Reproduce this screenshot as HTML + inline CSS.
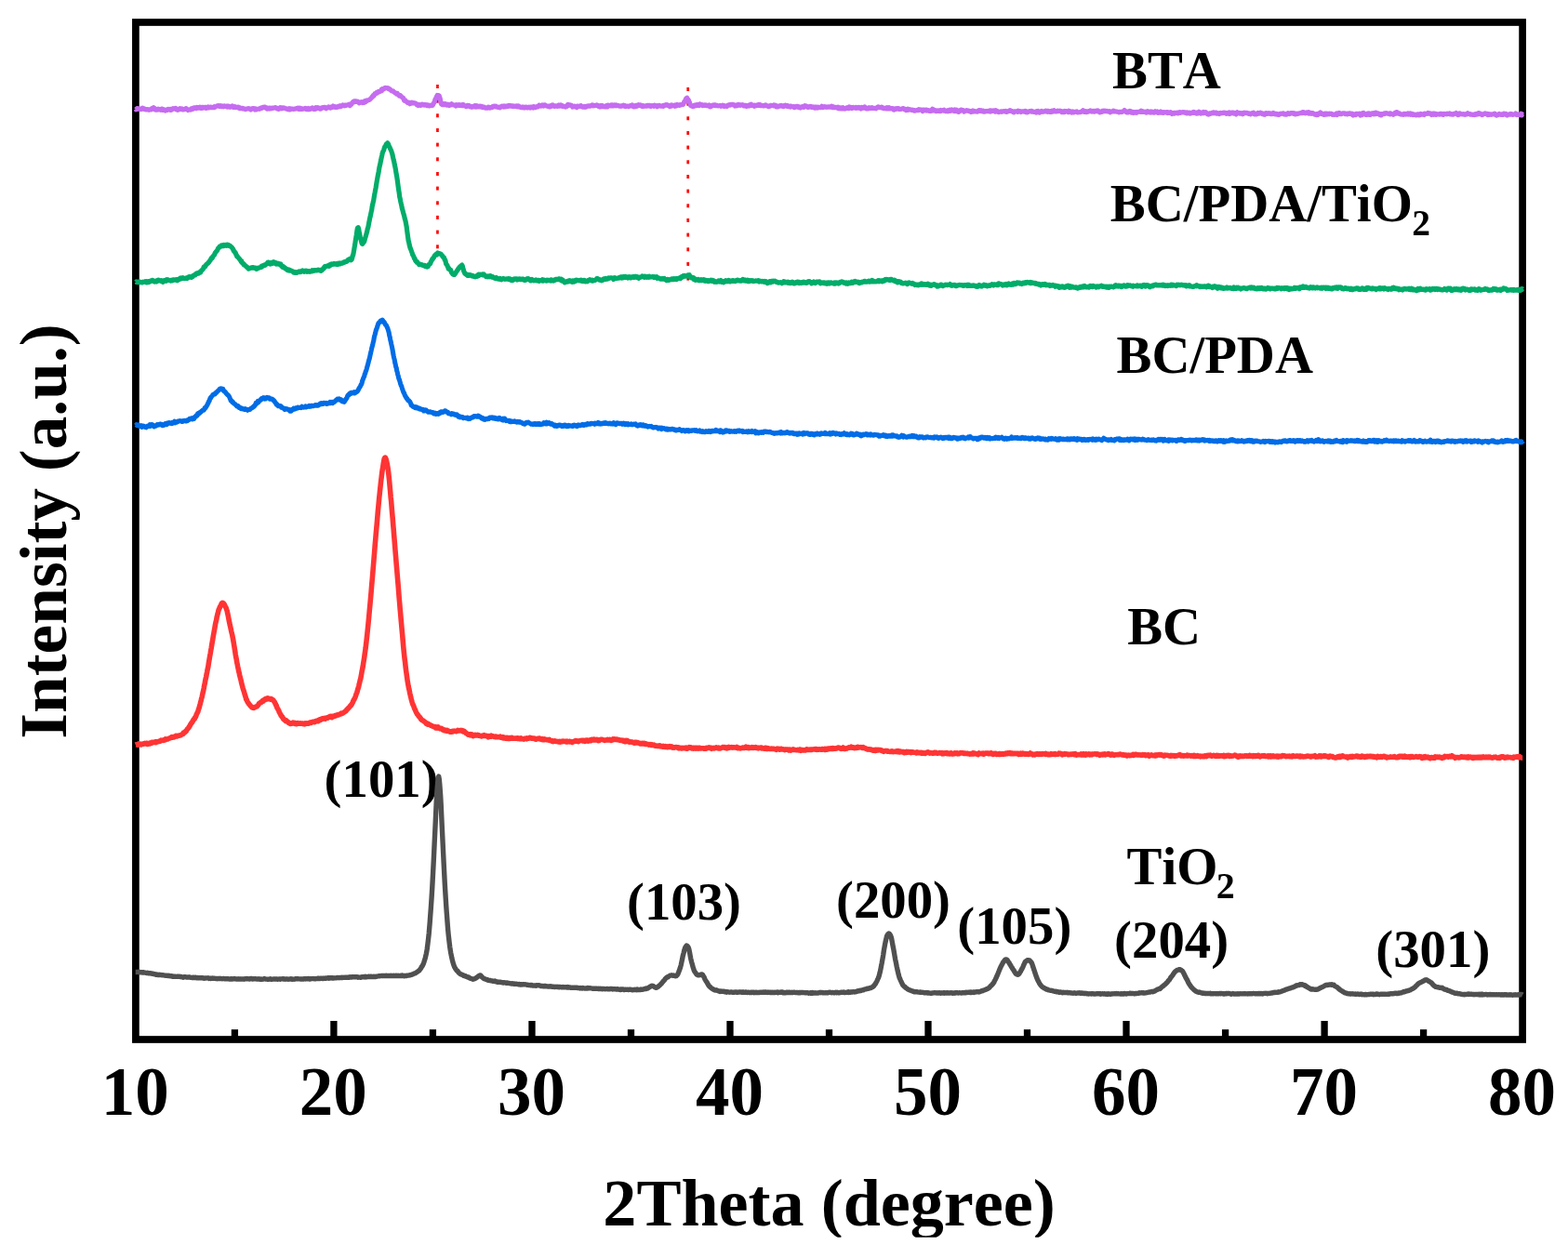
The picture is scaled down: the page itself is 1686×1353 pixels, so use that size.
<!DOCTYPE html>
<html lang="en"><head><meta charset="utf-8"><title>XRD patterns</title>
<style>
html,body{margin:0;padding:0;background:#fff;}
body{width:1686px;height:1353px;overflow:hidden;}
svg{display:block;}
text{font-family:"Liberation Serif",serif;font-weight:bold;fill:#000;font-kerning:none;font-variant-ligatures:none;}
.tk text{font-size:73px;text-anchor:middle;}
.lb text{font-size:56.8px;}
.curves path{fill:none;stroke-linejoin:round;stroke-linecap:butt;}
</style></head>
<body>
<svg width="1686" height="1353" viewBox="0 0 1686 1353">
<rect x="0" y="0" width="1686" height="1353" fill="#ffffff"/>
<g fill="#ff0000"><rect x="469.1" y="91.0" width="2.7" height="4.0"/><rect x="469.1" y="106.7" width="2.7" height="4.0"/><rect x="469.1" y="122.3" width="2.7" height="4.0"/><rect x="469.1" y="138.0" width="2.7" height="4.0"/><rect x="469.1" y="153.6" width="2.7" height="4.0"/><rect x="469.1" y="169.3" width="2.7" height="4.0"/><rect x="469.1" y="185.0" width="2.7" height="4.0"/><rect x="469.1" y="200.6" width="2.7" height="4.0"/><rect x="469.1" y="216.3" width="2.7" height="4.0"/><rect x="469.1" y="231.9" width="2.7" height="4.0"/><rect x="469.1" y="247.6" width="2.7" height="4.0"/><rect x="469.1" y="263.3" width="2.7" height="4.0"/><rect x="738.4" y="94.0" width="2.7" height="4.0"/><rect x="738.4" y="109.7" width="2.7" height="4.0"/><rect x="738.4" y="125.3" width="2.7" height="4.0"/><rect x="738.4" y="141.0" width="2.7" height="4.0"/><rect x="738.4" y="156.6" width="2.7" height="4.0"/><rect x="738.4" y="172.3" width="2.7" height="4.0"/><rect x="738.4" y="188.0" width="2.7" height="4.0"/><rect x="738.4" y="203.6" width="2.7" height="4.0"/><rect x="738.4" y="219.3" width="2.7" height="4.0"/><rect x="738.4" y="234.9" width="2.7" height="4.0"/><rect x="738.4" y="250.6" width="2.7" height="4.0"/><rect x="738.4" y="266.3" width="2.7" height="4.0"/><rect x="738.4" y="281.9" width="2.7" height="4.0"/><rect x="738.4" y="297.6" width="2.7" height="4.0"/></g>
<g stroke="#000" stroke-width="7.7" fill="none">
<rect x="145.9" y="24.0" width="1491.2" height="1094.0"/>
<g stroke-width="7.3"><line x1="252.4" x2="252.4" y1="1107.2" y2="1118.0"/><line x1="358.9" x2="358.9" y1="1098.0" y2="1118.0"/><line x1="465.4" x2="465.4" y1="1107.2" y2="1118.0"/><line x1="572.0" x2="572.0" y1="1098.0" y2="1118.0"/><line x1="678.5" x2="678.5" y1="1107.2" y2="1118.0"/><line x1="785.0" x2="785.0" y1="1098.0" y2="1118.0"/><line x1="891.5" x2="891.5" y1="1107.2" y2="1118.0"/><line x1="998.0" x2="998.0" y1="1098.0" y2="1118.0"/><line x1="1104.5" x2="1104.5" y1="1107.2" y2="1118.0"/><line x1="1211.0" x2="1211.0" y1="1098.0" y2="1118.0"/><line x1="1317.6" x2="1317.6" y1="1107.2" y2="1118.0"/><line x1="1424.1" x2="1424.1" y1="1098.0" y2="1118.0"/><line x1="1530.6" x2="1530.6" y1="1107.2" y2="1118.0"/></g>
</g>
<g class="lb">
<text x="1196" y="95.4">BTA</text>
<text x="1193.8" y="238.0">BC/PDA/TiO<tspan font-size="39.5" dx="-0.5" dy="15.4">2</tspan></text>
<text x="1200.5" y="401">BC/PDA</text>
<text x="1212.2" y="693.4">BC</text>
<text x="1211.6" y="951.1">TiO<tspan font-size="40" dx="-1.8" dy="14.6">2</tspan></text>
<text x="348.6" y="857.0">(101)</text>
<text x="674.0" y="989.4">(103)</text>
<text x="899.0" y="986.9">(200)</text>
<text x="1029.3" y="1015.1">(105)</text>
<text x="1198.1" y="1029.5">(204)</text>
<text x="1479.3" y="1039.6">(301)</text>
</g>
<g class="curves">
<path d="M145.7 1045.6L146.2 1045.6L146.7 1045.5L147.2 1045.4L147.7 1045.4L148.2 1045.3L148.7 1045.4L149.2 1045.6L149.7 1045.4L150.2 1045.5L150.7 1045.7L151.2 1045.7L151.7 1045.7L152.2 1045.7L152.7 1045.8L153.2 1046.0L153.7 1045.8L154.2 1046.0L154.7 1045.8L155.2 1045.9L155.7 1045.9L156.2 1046.1L156.7 1046.1L157.2 1046.4L157.7 1046.5L158.2 1046.5L158.7 1046.3L159.2 1046.7L159.7 1046.8L160.2 1046.8L160.7 1046.6L161.2 1046.8L161.7 1046.7L162.2 1046.8L162.7 1047.1L163.2 1047.0L163.7 1047.2L164.2 1047.4L164.7 1047.3L165.2 1047.5L165.7 1047.7L166.2 1047.8L166.7 1047.7L167.2 1048.0L167.7 1048.2L168.2 1047.9L168.7 1048.3L169.2 1048.2L169.7 1048.2L170.2 1048.6L170.7 1048.5L171.2 1048.3L171.7 1048.5L172.2 1048.6L172.7 1048.5L173.2 1048.6L173.7 1048.6L174.2 1048.8L174.7 1048.9L175.2 1048.7L175.7 1048.9L176.2 1048.9L176.7 1049.0L177.2 1048.9L177.7 1049.1L178.2 1049.2L178.7 1049.4L179.2 1049.4L179.7 1049.2L180.2 1049.3L180.7 1049.5L181.2 1049.2L181.7 1049.4L182.2 1049.4L182.7 1049.7L183.2 1049.7L183.7 1049.6L184.2 1049.7L184.7 1049.9L185.2 1050.2L185.7 1050.0L186.2 1050.1L186.7 1050.2L187.2 1050.1L187.7 1050.2L188.2 1050.1L188.7 1050.2L189.2 1050.2L189.7 1050.4L190.2 1050.3L190.7 1050.2L191.2 1050.3L191.7 1050.2L192.2 1050.3L192.7 1050.3L193.2 1050.4L193.7 1050.3L194.2 1050.6L194.7 1050.5L195.2 1050.6L195.7 1050.9L196.2 1050.9L196.7 1051.0L197.2 1051.2L197.7 1050.7L198.2 1050.7L198.7 1050.8L199.2 1050.8L199.7 1050.8L200.2 1050.9L200.7 1051.1L201.2 1051.1L201.7 1050.9L202.2 1051.0L202.7 1051.0L203.2 1050.9L203.7 1051.1L204.2 1051.0L204.7 1051.3L205.2 1051.3L205.7 1051.4L206.2 1051.4L206.7 1051.5L207.2 1051.2L207.7 1051.3L208.2 1051.5L208.7 1051.2L209.2 1051.5L209.7 1051.2L210.2 1051.6L210.7 1051.4L211.2 1051.7L211.7 1051.6L212.2 1051.4L212.7 1051.8L213.2 1051.8L213.7 1051.7L214.2 1051.6L214.7 1051.7L215.2 1051.6L215.7 1051.8L216.2 1051.7L216.7 1051.7L217.2 1051.7L217.7 1051.8L218.2 1051.7L218.7 1052.1L219.2 1052.0L219.7 1052.2L220.2 1052.1L220.7 1052.0L221.2 1052.0L221.7 1051.9L222.2 1051.9L222.7 1051.9L223.2 1051.9L223.7 1051.8L224.2 1052.0L224.7 1052.4L225.2 1052.1L225.7 1052.1L226.2 1052.3L226.7 1052.5L227.2 1052.1L227.7 1052.3L228.2 1052.2L228.7 1052.0L229.2 1052.3L229.7 1052.2L230.2 1052.2L230.7 1052.2L231.2 1052.4L231.7 1052.4L232.2 1052.5L232.7 1052.5L233.2 1052.5L233.7 1052.8L234.2 1052.5L234.7 1052.5L235.2 1052.5L235.7 1052.4L236.2 1052.4L236.7 1052.6L237.2 1052.5L237.7 1052.6L238.2 1052.6L238.7 1052.7L239.2 1052.7L239.7 1052.6L240.2 1052.5L240.7 1052.5L241.2 1052.8L241.7 1052.8L242.2 1052.7L242.7 1052.7L243.2 1052.7L243.7 1052.7L244.2 1052.7L244.7 1052.6L245.2 1052.9L245.7 1052.7L246.2 1053.0L246.7 1053.0L247.2 1053.0L247.7 1053.1L248.2 1053.1L248.7 1052.7L249.2 1052.7L249.7 1053.0L250.2 1052.8L250.7 1052.9L251.2 1052.9L251.7 1052.6L252.2 1052.5L252.7 1052.8L253.2 1052.8L253.7 1052.9L254.2 1053.0L254.7 1053.0L255.2 1052.9L255.7 1053.1L256.2 1052.9L256.7 1052.8L257.2 1053.1L257.7 1053.0L258.2 1053.1L258.7 1052.9L259.2 1053.0L259.7 1053.0L260.2 1053.0L260.7 1053.1L261.2 1053.0L261.7 1053.1L262.2 1053.1L262.7 1053.2L263.2 1052.7L263.7 1052.9L264.2 1052.8L264.7 1052.7L265.2 1052.5L265.7 1052.7L266.2 1052.9L266.7 1052.8L267.2 1052.9L267.7 1052.8L268.2 1053.0L268.7 1052.8L269.2 1052.5L269.7 1052.7L270.2 1052.6L270.7 1052.5L271.2 1052.9L271.7 1053.1L272.2 1052.9L272.7 1052.7L273.2 1052.7L273.7 1052.9L274.2 1052.8L274.7 1052.8L275.2 1052.8L275.7 1052.9L276.2 1053.0L276.7 1053.0L277.2 1052.9L277.7 1052.8L278.2 1053.0L278.7 1052.9L279.2 1053.2L279.7 1053.0L280.2 1053.2L280.7 1053.2L281.2 1053.0L281.7 1053.3L282.2 1053.2L282.7 1052.9L283.2 1053.0L283.7 1052.9L284.2 1052.5L284.7 1052.9L285.2 1052.9L285.7 1053.0L286.2 1052.9L286.7 1053.1L287.2 1053.1L287.7 1053.3L288.2 1053.2L288.7 1053.1L289.2 1053.3L289.7 1053.0L290.2 1053.0L290.7 1052.8L291.2 1053.3L291.7 1053.2L292.2 1053.2L292.7 1053.2L293.2 1053.1L293.7 1053.1L294.2 1053.0L294.7 1053.0L295.2 1053.0L295.7 1053.1L296.2 1053.0L296.7 1052.9L297.2 1052.9L297.7 1053.0L298.2 1053.3L298.7 1053.2L299.2 1053.1L299.7 1053.1L300.2 1053.0L300.7 1053.1L301.2 1053.2L301.7 1053.0L302.2 1052.9L302.7 1052.9L303.2 1052.9L303.7 1052.7L304.2 1052.9L304.7 1052.8L305.2 1053.1L305.7 1052.9L306.2 1053.1L306.7 1053.2L307.2 1052.9L307.7 1052.9L308.2 1053.0L308.7 1053.0L309.2 1052.9L309.7 1053.1L310.2 1053.3L310.7 1053.0L311.2 1053.0L311.7 1052.9L312.2 1053.0L312.7 1052.8L313.2 1052.9L313.7 1053.2L314.2 1052.9L314.7 1053.2L315.2 1053.2L315.7 1053.1L316.2 1053.1L316.7 1053.2L317.2 1052.9L317.7 1052.8L318.2 1052.6L318.7 1052.8L319.2 1052.9L319.7 1052.8L320.2 1052.6L320.7 1052.7L321.2 1052.7L321.7 1052.9L322.2 1052.9L322.7 1052.9L323.2 1053.0L323.7 1052.9L324.2 1052.9L324.7 1053.0L325.2 1052.9L325.7 1052.9L326.2 1053.1L326.7 1052.9L327.2 1052.8L327.7 1052.6L328.2 1052.9L328.7 1052.6L329.2 1052.7L329.7 1052.9L330.2 1052.9L330.7 1052.7L331.2 1052.5L331.7 1052.6L332.2 1052.6L332.7 1052.8L333.2 1053.1L333.7 1052.8L334.2 1052.7L334.7 1052.6L335.2 1052.6L335.7 1052.6L336.2 1052.4L336.7 1052.5L337.2 1052.4L337.7 1052.7L338.2 1052.8L338.7 1052.8L339.2 1052.6L339.7 1052.7L340.2 1052.6L340.7 1052.6L341.2 1052.5L341.7 1052.3L342.2 1052.3L342.7 1052.5L343.2 1052.3L343.7 1052.4L344.2 1052.5L344.7 1052.1L345.2 1052.3L345.7 1052.4L346.2 1052.4L346.7 1052.3L347.2 1052.5L347.7 1052.3L348.2 1052.1L348.7 1052.1L349.2 1052.3L349.7 1052.2L350.2 1051.9L350.7 1052.2L351.2 1052.1L351.7 1052.1L352.2 1051.8L352.7 1051.8L353.2 1051.7L353.7 1052.2L354.2 1051.8L354.7 1052.0L355.2 1051.8L355.7 1051.9L356.2 1051.6L356.7 1051.8L357.2 1052.0L357.7 1051.8L358.2 1052.1L358.7 1052.0L359.2 1051.8L359.7 1051.9L360.2 1051.9L360.7 1051.9L361.2 1051.8L361.7 1051.7L362.2 1051.7L362.7 1051.6L363.2 1051.5L363.7 1051.6L364.2 1051.7L364.7 1051.4L365.2 1051.5L365.7 1051.4L366.2 1051.4L366.7 1051.6L367.2 1051.4L367.7 1051.6L368.2 1051.3L368.7 1051.4L369.2 1051.4L369.7 1051.3L370.2 1051.4L370.7 1051.3L371.2 1051.4L371.7 1051.3L372.2 1051.1L372.7 1051.2L373.2 1051.2L373.7 1051.3L374.2 1051.1L374.7 1051.2L375.2 1050.9L375.7 1051.2L376.2 1050.9L376.7 1050.8L377.2 1051.0L377.7 1051.1L378.2 1050.7L378.7 1050.7L379.2 1050.8L379.7 1050.7L380.2 1050.9L380.7 1050.7L381.2 1050.7L381.7 1050.9L382.2 1050.7L382.7 1050.9L383.2 1050.7L383.7 1050.7L384.2 1050.7L384.7 1051.2L385.2 1051.0L385.7 1051.1L386.2 1051.1L386.7 1051.1L387.2 1051.1L387.7 1051.3L388.2 1050.9L388.7 1050.8L389.2 1050.8L389.7 1050.7L390.2 1050.8L390.7 1050.8L391.2 1050.5L391.7 1050.5L392.2 1050.6L392.7 1050.9L393.2 1050.4L393.7 1050.8L394.2 1050.6L394.7 1050.8L395.2 1050.5L395.7 1050.5L396.2 1050.3L396.7 1050.3L397.2 1050.5L397.7 1050.5L398.2 1050.3L398.7 1050.3L399.2 1050.3L399.7 1050.5L400.2 1050.6L400.7 1050.5L401.2 1050.5L401.7 1050.3L402.2 1050.4L402.7 1050.3L403.2 1050.5L403.7 1050.5L404.2 1050.3L404.7 1050.2L405.2 1050.2L405.7 1050.1L406.2 1049.9L406.7 1049.9L407.2 1049.7L407.7 1049.8L408.2 1049.6L408.7 1049.7L409.2 1049.6L409.7 1049.6L410.2 1049.5L410.7 1049.6L411.2 1049.5L411.7 1049.6L412.2 1049.6L412.7 1049.5L413.2 1049.6L413.7 1049.5L414.2 1049.5L414.7 1049.5L415.2 1049.3L415.7 1049.5L416.2 1049.6L416.7 1049.5L417.2 1049.5L417.7 1049.5L418.2 1049.4L418.7 1049.5L419.2 1049.4L419.7 1049.5L420.2 1049.3L420.7 1049.5L421.2 1049.5L421.7 1049.5L422.2 1049.4L422.7 1049.5L423.2 1049.3L423.7 1049.5L424.2 1049.5L424.7 1049.5L425.2 1049.5L425.7 1049.3L426.2 1049.3L426.7 1049.5L427.2 1049.4L427.7 1049.5L428.2 1049.3L428.7 1049.6L429.2 1049.6L429.7 1049.6L430.2 1049.5L430.7 1049.2L431.2 1049.5L431.7 1049.4L432.2 1049.1L432.7 1049.5L433.2 1049.3L433.7 1049.4L434.2 1049.5L434.7 1049.7L435.2 1049.5L435.7 1049.5L436.2 1049.6L436.7 1049.6L437.2 1049.3L437.7 1049.3L438.2 1049.1L438.7 1049.1L439.2 1049.1L439.7 1049.0L440.2 1048.9L440.7 1048.9L441.2 1048.5L441.7 1048.5L442.2 1048.4L442.7 1048.2L443.2 1048.1L443.7 1047.9L444.2 1047.6L444.7 1047.5L445.2 1047.1L445.7 1046.9L446.2 1046.9L446.7 1046.6L447.2 1046.3L447.7 1045.8L448.2 1045.7L448.7 1045.3L449.2 1045.0L449.7 1044.4L450.2 1044.2L450.7 1043.9L451.2 1043.2L451.7 1042.5L452.2 1041.9L452.7 1041.2L453.2 1040.0L453.7 1039.5L454.2 1038.7L454.7 1037.7L455.2 1036.7L455.7 1035.4L456.2 1033.8L456.7 1032.2L457.2 1030.5L457.7 1028.4L458.2 1026.3L458.7 1023.9L459.2 1020.9L459.7 1017.1L460.2 1013.0L460.7 1008.7L461.2 1004.1L461.7 998.3L462.2 992.2L462.7 985.3L463.2 978.6L463.7 971.4L464.2 963.8L464.7 955.5L465.2 946.2L465.7 936.6L466.2 926.8L466.7 916.4L467.2 905.7L467.7 895.3L468.2 884.8L468.7 873.7L469.2 862.8L469.7 854.0L470.2 847.2L470.7 841.2L471.2 836.5L471.7 835.1L472.2 837.6L472.7 842.5L473.2 849.1L473.7 856.1L474.2 865.5L474.7 876.6L475.2 887.4L475.7 898.0L476.2 908.4L476.7 918.9L477.2 929.2L477.7 939.2L478.2 948.8L478.7 957.5L479.2 965.7L479.7 973.6L480.2 980.6L480.7 987.3L481.2 994.0L481.7 1000.2L482.2 1005.4L482.7 1009.9L483.2 1014.2L483.7 1018.3L484.2 1021.6L484.7 1024.7L485.2 1027.3L485.7 1029.7L486.2 1031.8L486.7 1034.0L487.2 1035.7L487.7 1037.4L488.2 1038.7L488.7 1040.1L489.2 1040.9L489.7 1041.7L490.2 1042.5L490.7 1043.2L491.2 1043.9L491.7 1044.1L492.2 1044.7L492.7 1045.3L493.2 1046.2L493.7 1046.5L494.2 1046.8L494.7 1047.3L495.2 1047.8L495.7 1047.7L496.2 1047.9L496.7 1048.3L497.2 1048.5L497.7 1048.7L498.2 1048.8L498.7 1049.4L499.2 1049.6L499.7 1049.7L500.2 1049.9L500.7 1049.7L501.2 1050.3L501.7 1050.4L502.2 1050.6L502.7 1050.9L503.2 1050.9L503.7 1051.0L504.2 1051.5L504.7 1051.6L505.2 1051.9L505.7 1052.2L506.2 1052.4L506.7 1052.4L507.2 1052.9L507.7 1052.9L508.2 1053.0L508.7 1053.2L509.2 1052.9L509.7 1052.7L510.2 1052.7L510.7 1052.5L511.2 1052.3L511.7 1052.1L512.2 1051.5L512.7 1051.5L513.2 1050.8L513.7 1050.6L514.2 1050.1L514.7 1049.7L515.2 1049.4L515.7 1049.1L516.2 1049.0L516.7 1049.0L517.2 1049.6L517.7 1050.2L518.2 1050.8L518.7 1051.2L519.2 1051.7L519.7 1052.0L520.2 1052.6L520.7 1052.7L521.2 1052.8L521.7 1053.0L522.2 1053.2L522.7 1053.3L523.2 1053.6L523.7 1053.6L524.2 1053.8L524.7 1054.3L525.2 1054.2L525.7 1054.3L526.2 1054.5L526.7 1054.6L527.2 1054.5L527.7 1054.6L528.2 1054.9L528.7 1054.9L529.2 1055.0L529.7 1055.3L530.2 1055.1L530.7 1055.2L531.2 1055.2L531.7 1055.5L532.2 1055.1L532.7 1055.4L533.2 1055.6L533.7 1055.9L534.2 1056.1L534.7 1056.3L535.2 1056.0L535.7 1056.3L536.2 1056.2L536.7 1056.1L537.2 1056.3L537.7 1056.2L538.2 1056.1L538.7 1056.5L539.2 1056.4L539.7 1056.6L540.2 1056.8L540.7 1056.8L541.2 1057.0L541.7 1056.8L542.2 1056.7L542.7 1056.9L543.2 1056.9L543.7 1057.0L544.2 1057.2L544.7 1057.2L545.2 1057.0L545.7 1057.4L546.2 1057.3L546.7 1057.4L547.2 1057.4L547.7 1057.5L548.2 1057.5L548.7 1057.8L549.2 1057.8L549.7 1057.9L550.2 1058.0L550.7 1057.8L551.2 1058.0L551.7 1058.1L552.2 1058.2L552.7 1058.0L553.2 1058.4L553.7 1058.3L554.2 1058.2L554.7 1058.1L555.2 1058.3L555.7 1058.4L556.2 1058.4L556.7 1058.5L557.2 1058.5L557.7 1058.7L558.2 1058.5L558.7 1058.6L559.2 1058.8L559.7 1059.1L560.2 1058.7L560.7 1058.8L561.2 1058.7L561.7 1059.0L562.2 1058.7L562.7 1058.8L563.2 1058.8L563.7 1058.7L564.2 1058.8L564.7 1058.9L565.2 1058.8L565.7 1058.9L566.2 1059.1L566.7 1059.3L567.2 1059.3L567.7 1059.2L568.2 1059.4L568.7 1059.6L569.2 1059.6L569.7 1059.6L570.2 1059.5L570.7 1059.7L571.2 1059.5L571.7 1059.5L572.2 1059.6L572.7 1060.0L573.2 1059.9L573.7 1060.1L574.2 1059.9L574.7 1060.1L575.2 1059.9L575.7 1059.9L576.2 1060.2L576.7 1060.0L577.2 1059.8L577.7 1059.8L578.2 1059.8L578.7 1059.9L579.2 1059.7L579.7 1059.7L580.2 1059.9L580.7 1060.1L581.2 1060.3L581.7 1060.6L582.2 1060.5L582.7 1060.6L583.2 1060.4L583.7 1060.7L584.2 1060.8L584.7 1060.6L585.2 1060.5L585.7 1060.5L586.2 1060.7L586.7 1060.4L587.2 1060.6L587.7 1060.8L588.2 1060.9L588.7 1060.9L589.2 1061.0L589.7 1061.0L590.2 1061.0L590.7 1061.0L591.2 1060.8L591.7 1061.0L592.2 1061.1L592.7 1060.9L593.2 1061.0L593.7 1061.2L594.2 1061.1L594.7 1061.3L595.2 1061.1L595.7 1061.4L596.2 1061.6L596.7 1061.5L597.2 1061.3L597.7 1061.4L598.2 1061.3L598.7 1061.4L599.2 1061.6L599.7 1061.3L600.2 1061.6L600.7 1061.5L601.2 1061.7L601.7 1061.5L602.2 1061.5L602.7 1061.6L603.2 1061.7L603.7 1061.7L604.2 1061.7L604.7 1061.6L605.2 1061.4L605.7 1061.8L606.2 1061.8L606.7 1061.7L607.2 1061.7L607.7 1061.9L608.2 1061.8L608.7 1061.8L609.2 1061.8L609.7 1062.0L610.2 1061.6L610.7 1062.0L611.2 1061.8L611.7 1061.8L612.2 1062.1L612.7 1062.0L613.2 1062.0L613.7 1062.2L614.2 1062.4L614.7 1062.4L615.2 1062.2L615.7 1062.3L616.2 1062.4L616.7 1062.2L617.2 1062.3L617.7 1062.2L618.2 1062.2L618.7 1062.2L619.2 1062.3L619.7 1062.3L620.2 1062.3L620.7 1062.3L621.2 1062.6L621.7 1062.5L622.2 1062.6L622.7 1062.7L623.2 1062.6L623.7 1062.9L624.2 1062.5L624.7 1062.8L625.2 1062.7L625.7 1063.0L626.2 1063.0L626.7 1062.5L627.2 1062.7L627.7 1062.9L628.2 1062.9L628.7 1063.0L629.2 1062.9L629.7 1063.0L630.2 1063.0L630.7 1062.9L631.2 1063.0L631.7 1062.5L632.2 1062.9L632.7 1062.6L633.2 1062.9L633.7 1062.7L634.2 1062.7L634.7 1062.9L635.2 1062.8L635.7 1062.9L636.2 1062.9L636.7 1063.1L637.2 1063.2L637.7 1063.4L638.2 1063.2L638.7 1063.4L639.2 1063.2L639.7 1063.2L640.2 1063.3L640.7 1063.3L641.2 1063.2L641.7 1063.2L642.2 1063.3L642.7 1063.4L643.2 1063.3L643.7 1063.6L644.2 1063.4L644.7 1063.5L645.2 1063.3L645.7 1063.5L646.2 1063.5L646.7 1063.4L647.2 1063.7L647.7 1063.5L648.2 1063.7L648.7 1063.6L649.2 1063.5L649.7 1063.6L650.2 1063.7L650.7 1063.7L651.2 1063.7L651.7 1063.6L652.2 1063.4L652.7 1063.6L653.2 1063.4L653.7 1063.8L654.2 1063.7L654.7 1063.7L655.2 1063.7L655.7 1063.7L656.2 1063.5L656.7 1063.4L657.2 1063.5L657.7 1063.5L658.2 1063.6L658.7 1064.0L659.2 1063.7L659.7 1063.9L660.2 1063.6L660.7 1063.8L661.2 1063.7L661.7 1063.8L662.2 1063.9L662.7 1064.0L663.2 1063.8L663.7 1063.8L664.2 1063.8L664.7 1064.0L665.2 1064.0L665.7 1064.3L666.2 1064.2L666.7 1064.5L667.2 1064.0L667.7 1064.1L668.2 1064.2L668.7 1064.0L669.2 1064.0L669.7 1064.1L670.2 1064.0L670.7 1064.3L671.2 1064.6L671.7 1064.4L672.2 1064.1L672.7 1064.2L673.2 1064.2L673.7 1064.4L674.2 1064.2L674.7 1064.2L675.2 1064.4L675.7 1064.5L676.2 1064.3L676.7 1064.2L677.2 1064.2L677.7 1064.3L678.2 1064.1L678.7 1064.5L679.2 1064.4L679.7 1064.6L680.2 1064.8L680.7 1064.7L681.2 1064.4L681.7 1064.6L682.2 1064.6L682.7 1064.3L683.2 1064.3L683.7 1064.4L684.2 1064.2L684.7 1064.6L685.2 1064.1L685.7 1064.3L686.2 1064.5L686.7 1064.5L687.2 1064.5L687.7 1064.4L688.2 1064.3L688.7 1064.5L689.2 1064.0L689.7 1064.3L690.2 1064.2L690.7 1064.3L691.2 1064.2L691.7 1063.9L692.2 1063.8L692.7 1063.8L693.2 1063.6L693.7 1063.3L694.2 1063.6L694.7 1063.5L695.2 1062.9L695.7 1063.0L696.2 1063.1L696.7 1062.7L697.2 1062.4L697.7 1062.1L698.2 1061.7L698.7 1061.4L699.2 1061.1L699.7 1060.9L700.2 1060.5L700.7 1060.3L701.2 1060.2L701.7 1060.4L702.2 1060.4L702.7 1060.7L703.2 1061.2L703.7 1061.4L704.2 1061.8L704.7 1062.0L705.2 1062.2L705.7 1062.2L706.2 1062.0L706.7 1061.9L707.2 1061.4L707.7 1061.3L708.2 1060.7L708.7 1060.2L709.2 1059.8L709.7 1059.3L710.2 1058.9L710.7 1058.2L711.2 1057.9L711.7 1057.2L712.2 1056.5L712.7 1056.1L713.2 1055.3L713.7 1054.9L714.2 1054.4L714.7 1053.7L715.2 1052.8L715.7 1052.3L716.2 1052.0L716.7 1051.4L717.2 1051.0L717.7 1050.8L718.2 1050.8L718.7 1050.4L719.2 1049.9L719.7 1049.7L720.2 1049.5L720.7 1049.1L721.2 1048.9L721.7 1048.9L722.2 1048.8L722.7 1048.9L723.2 1048.9L723.7 1049.3L724.2 1049.0L724.7 1049.2L725.2 1049.4L725.7 1049.6L726.2 1049.8L726.7 1049.6L727.2 1049.6L727.7 1049.2L728.2 1048.7L728.7 1048.0L729.2 1046.9L729.7 1045.6L730.2 1044.3L730.7 1042.9L731.2 1041.5L731.7 1039.9L732.2 1038.1L732.7 1035.7L733.2 1033.3L733.7 1031.2L734.2 1028.3L734.7 1026.5L735.2 1024.6L735.7 1022.5L736.2 1020.6L736.7 1019.3L737.2 1018.4L737.7 1017.8L738.2 1017.1L738.7 1017.3L739.2 1017.5L739.7 1018.2L740.2 1019.1L740.7 1020.5L741.2 1022.7L741.7 1025.2L742.2 1028.1L742.7 1030.8L743.2 1032.9L743.7 1034.9L744.2 1036.6L744.7 1038.5L745.2 1040.4L745.7 1041.8L746.2 1043.5L746.7 1044.5L747.2 1045.4L747.7 1045.9L748.2 1046.7L748.7 1047.4L749.2 1048.1L749.7 1048.5L750.2 1048.6L750.7 1048.8L751.2 1048.7L751.7 1048.7L752.2 1048.5L752.7 1048.5L753.2 1048.5L753.7 1048.2L754.2 1047.9L754.7 1048.0L755.2 1048.1L755.7 1048.6L756.2 1049.6L756.7 1050.4L757.2 1051.2L757.7 1052.5L758.2 1053.6L758.7 1054.4L759.2 1055.2L759.7 1055.9L760.2 1056.8L760.7 1057.6L761.2 1058.5L761.7 1059.4L762.2 1060.1L762.7 1060.9L763.2 1061.4L763.7 1061.6L764.2 1062.2L764.7 1062.7L765.2 1062.9L765.7 1063.4L766.2 1063.5L766.7 1063.7L767.2 1064.3L767.7 1064.5L768.2 1064.6L768.7 1064.9L769.2 1065.0L769.7 1065.0L770.2 1064.8L770.7 1065.1L771.2 1065.3L771.7 1065.4L772.2 1065.7L772.7 1066.0L773.2 1065.9L773.7 1065.9L774.2 1066.4L774.7 1066.1L775.2 1066.0L775.7 1066.2L776.2 1066.2L776.7 1066.1L777.2 1066.4L777.7 1066.3L778.2 1066.3L778.7 1066.5L779.2 1066.7L779.7 1066.5L780.2 1066.7L780.7 1066.7L781.2 1067.1L781.7 1066.7L782.2 1066.9L782.7 1066.8L783.2 1066.9L783.7 1067.1L784.2 1067.1L784.7 1067.2L785.2 1067.1L785.7 1066.9L786.2 1066.9L786.7 1067.0L787.2 1067.0L787.7 1067.2L788.2 1067.1L788.7 1067.3L789.2 1067.3L789.7 1067.2L790.2 1067.0L790.7 1067.0L791.2 1067.0L791.7 1067.3L792.2 1067.0L792.7 1067.2L793.2 1067.1L793.7 1067.2L794.2 1067.1L794.7 1067.0L795.2 1067.0L795.7 1067.0L796.2 1067.1L796.7 1067.0L797.2 1067.1L797.7 1067.3L798.2 1066.9L798.7 1067.2L799.2 1067.0L799.7 1067.1L800.2 1067.2L800.7 1067.1L801.2 1067.2L801.7 1067.0L802.2 1067.4L802.7 1067.2L803.2 1067.5L803.7 1067.4L804.2 1067.1L804.7 1067.3L805.2 1067.4L805.7 1067.6L806.2 1067.4L806.7 1067.4L807.2 1067.2L807.7 1067.6L808.2 1067.6L808.7 1067.4L809.2 1067.3L809.7 1067.1L810.2 1067.4L810.7 1067.7L811.2 1067.4L811.7 1067.5L812.2 1067.5L812.7 1067.3L813.2 1067.6L813.7 1067.4L814.2 1067.5L814.7 1067.6L815.2 1067.6L815.7 1067.5L816.2 1067.5L816.7 1067.3L817.2 1067.2L817.7 1067.4L818.2 1067.3L818.7 1067.2L819.2 1067.2L819.7 1067.3L820.2 1067.1L820.7 1067.1L821.2 1067.0L821.7 1067.2L822.2 1067.2L822.7 1067.4L823.2 1067.0L823.7 1067.1L824.2 1067.3L824.7 1067.2L825.2 1067.1L825.7 1067.4L826.2 1067.1L826.7 1067.1L827.2 1067.1L827.7 1067.4L828.2 1067.5L828.7 1067.3L829.2 1067.3L829.7 1067.5L830.2 1067.5L830.7 1067.3L831.2 1067.5L831.7 1067.6L832.2 1067.3L832.7 1067.5L833.2 1067.6L833.7 1067.4L834.2 1067.1L834.7 1067.3L835.2 1067.4L835.7 1067.5L836.2 1067.1L836.7 1067.7L837.2 1067.2L837.7 1067.4L838.2 1067.4L838.7 1067.2L839.2 1067.1L839.7 1066.9L840.2 1067.2L840.7 1067.1L841.2 1067.0L841.7 1067.7L842.2 1067.6L842.7 1067.8L843.2 1067.4L843.7 1067.7L844.2 1067.7L844.7 1067.7L845.2 1067.5L845.7 1067.3L846.2 1067.5L846.7 1067.2L847.2 1067.3L847.7 1067.5L848.2 1067.3L848.7 1067.3L849.2 1067.3L849.7 1067.6L850.2 1067.5L850.7 1067.4L851.2 1067.5L851.7 1067.3L852.2 1067.4L852.7 1067.5L853.2 1067.2L853.7 1067.3L854.2 1067.2L854.7 1067.4L855.2 1067.6L855.7 1067.4L856.2 1067.5L856.7 1067.4L857.2 1067.4L857.7 1067.4L858.2 1067.7L858.7 1067.9L859.2 1067.6L859.7 1067.5L860.2 1067.7L860.7 1067.5L861.2 1067.6L861.7 1067.5L862.2 1067.5L862.7 1067.5L863.2 1067.4L863.7 1067.5L864.2 1067.4L864.7 1067.6L865.2 1067.6L865.7 1067.8L866.2 1067.7L866.7 1067.8L867.2 1067.8L867.7 1067.6L868.2 1067.7L868.7 1067.8L869.2 1068.0L869.7 1068.2L870.2 1068.1L870.7 1067.9L871.2 1068.2L871.7 1067.8L872.2 1068.2L872.7 1067.9L873.2 1067.6L873.7 1068.3L874.2 1068.1L874.7 1067.8L875.2 1068.0L875.7 1068.0L876.2 1068.0L876.7 1067.8L877.2 1067.9L877.7 1068.0L878.2 1068.0L878.7 1068.1L879.2 1067.9L879.7 1068.1L880.2 1067.6L880.7 1067.7L881.2 1067.4L881.7 1067.4L882.2 1067.7L882.7 1067.4L883.2 1067.6L883.7 1067.6L884.2 1067.5L884.7 1067.7L885.2 1067.7L885.7 1067.8L886.2 1067.9L886.7 1067.9L887.2 1067.7L887.7 1067.6L888.2 1067.7L888.7 1067.6L889.2 1067.7L889.7 1067.9L890.2 1067.7L890.7 1067.5L891.2 1067.4L891.7 1067.3L892.2 1067.3L892.7 1067.3L893.2 1067.4L893.7 1067.5L894.2 1067.7L894.7 1067.6L895.2 1067.6L895.7 1067.5L896.2 1067.8L896.7 1067.6L897.2 1067.7L897.7 1067.5L898.2 1067.6L898.7 1067.3L899.2 1067.5L899.7 1067.7L900.2 1067.3L900.7 1067.6L901.2 1067.7L901.7 1067.6L902.2 1067.7L902.7 1067.7L903.2 1067.4L903.7 1067.5L904.2 1067.3L904.7 1067.3L905.2 1067.2L905.7 1067.3L906.2 1067.3L906.7 1067.3L907.2 1067.1L907.7 1067.6L908.2 1067.5L908.7 1067.5L909.2 1067.4L909.7 1067.4L910.2 1067.4L910.7 1067.3L911.2 1066.9L911.7 1067.2L912.2 1067.5L912.7 1066.9L913.2 1067.3L913.7 1067.2L914.2 1067.1L914.7 1067.2L915.2 1066.8L915.7 1066.9L916.2 1067.0L916.7 1066.8L917.2 1066.7L917.7 1066.8L918.2 1066.7L918.7 1067.0L919.2 1066.7L919.7 1066.9L920.2 1066.5L920.7 1066.6L921.2 1066.4L921.7 1065.9L922.2 1066.1L922.7 1065.8L923.2 1065.8L923.7 1065.9L924.2 1065.5L924.7 1065.4L925.2 1065.6L925.7 1065.2L926.2 1065.3L926.7 1065.1L927.2 1064.8L927.7 1064.8L928.2 1064.9L928.7 1064.6L929.2 1064.3L929.7 1064.1L930.2 1063.9L930.7 1063.7L931.2 1063.9L931.7 1063.5L932.2 1063.3L932.7 1063.3L933.2 1063.4L933.7 1063.3L934.2 1063.0L934.7 1062.8L935.2 1062.8L935.7 1062.4L936.2 1062.3L936.7 1062.4L937.2 1062.0L937.7 1061.8L938.2 1061.6L938.7 1061.2L939.2 1060.6L939.7 1060.4L940.2 1059.6L940.7 1058.8L941.2 1058.3L941.7 1057.5L942.2 1056.4L942.7 1055.6L943.2 1054.5L943.7 1053.2L944.2 1052.3L944.7 1051.1L945.2 1049.7L945.7 1047.7L946.2 1045.8L946.7 1043.5L947.2 1041.0L947.7 1038.2L948.2 1035.8L948.7 1032.9L949.2 1030.1L949.7 1027.1L950.2 1023.6L950.7 1020.4L951.2 1017.7L951.7 1015.0L952.2 1012.6L952.7 1010.4L953.2 1008.5L953.7 1006.5L954.2 1005.7L954.7 1004.9L955.2 1004.2L955.7 1004.0L956.2 1004.2L956.7 1004.8L957.2 1005.4L957.7 1006.4L958.2 1007.8L958.7 1009.7L959.2 1012.4L959.7 1015.4L960.2 1017.9L960.7 1020.4L961.2 1023.3L961.7 1026.1L962.2 1029.1L962.7 1032.0L963.2 1034.3L963.7 1036.8L964.2 1039.5L964.7 1041.7L965.2 1044.2L965.7 1046.2L966.2 1048.3L966.7 1050.1L967.2 1051.8L967.7 1052.8L968.2 1054.0L968.7 1055.1L969.2 1056.2L969.7 1057.3L970.2 1058.2L970.7 1059.3L971.2 1059.8L971.7 1060.5L972.2 1060.9L972.7 1061.4L973.2 1061.6L973.7 1062.2L974.2 1062.6L974.7 1063.0L975.2 1063.1L975.7 1063.8L976.2 1064.0L976.7 1064.3L977.2 1064.5L977.7 1064.7L978.2 1065.0L978.7 1065.0L979.2 1065.2L979.7 1065.5L980.2 1065.7L980.7 1065.8L981.2 1066.0L981.7 1066.2L982.2 1066.4L982.7 1066.7L983.2 1066.4L983.7 1066.8L984.2 1066.7L984.7 1066.6L985.2 1066.8L985.7 1066.7L986.2 1066.7L986.7 1066.9L987.2 1067.1L987.7 1067.1L988.2 1067.1L988.7 1067.2L989.2 1067.0L989.7 1067.4L990.2 1067.2L990.7 1067.3L991.2 1067.4L991.7 1067.3L992.2 1067.3L992.7 1067.4L993.2 1067.6L993.7 1067.8L994.2 1067.8L994.7 1067.7L995.2 1067.7L995.7 1067.7L996.2 1067.9L996.7 1067.6L997.2 1068.0L997.7 1067.8L998.2 1067.8L998.7 1068.0L999.2 1068.1L999.7 1068.1L1000.2 1068.2L1000.7 1068.1L1001.2 1068.2L1001.7 1068.2L1002.2 1068.0L1002.7 1068.1L1003.2 1067.9L1003.7 1067.9L1004.2 1067.7L1004.7 1067.7L1005.2 1067.8L1005.7 1067.6L1006.2 1067.9L1006.7 1067.9L1007.2 1068.0L1007.7 1067.7L1008.2 1068.0L1008.7 1068.0L1009.2 1067.8L1009.7 1068.0L1010.2 1067.7L1010.7 1068.1L1011.2 1068.0L1011.7 1068.2L1012.2 1067.9L1012.7 1068.1L1013.2 1068.0L1013.7 1068.1L1014.2 1067.8L1014.7 1067.8L1015.2 1068.2L1015.7 1067.8L1016.2 1067.8L1016.7 1067.9L1017.2 1067.8L1017.7 1068.1L1018.2 1068.1L1018.7 1067.8L1019.2 1067.6L1019.7 1068.0L1020.2 1068.0L1020.7 1067.9L1021.2 1068.0L1021.7 1067.8L1022.2 1067.9L1022.7 1067.8L1023.2 1067.8L1023.7 1068.1L1024.2 1067.9L1024.7 1068.3L1025.2 1068.1L1025.7 1068.0L1026.2 1068.1L1026.7 1068.2L1027.2 1067.9L1027.7 1067.6L1028.2 1067.8L1028.7 1067.9L1029.2 1067.7L1029.7 1067.7L1030.2 1068.0L1030.7 1067.9L1031.2 1067.8L1031.7 1067.8L1032.2 1067.8L1032.7 1067.9L1033.2 1067.9L1033.7 1068.0L1034.2 1067.9L1034.7 1067.6L1035.2 1067.8L1035.7 1067.8L1036.2 1067.7L1036.7 1067.8L1037.2 1067.6L1037.7 1067.5L1038.2 1067.7L1038.7 1067.5L1039.2 1067.3L1039.7 1067.6L1040.2 1067.4L1040.7 1067.4L1041.2 1067.2L1041.7 1067.2L1042.2 1067.2L1042.7 1067.3L1043.2 1067.5L1043.7 1067.1L1044.2 1067.5L1044.7 1067.3L1045.2 1067.3L1045.7 1067.4L1046.2 1067.2L1046.7 1067.0L1047.2 1067.4L1047.7 1066.9L1048.2 1067.0L1048.7 1066.9L1049.2 1067.0L1049.7 1066.7L1050.2 1066.8L1050.7 1066.6L1051.2 1066.8L1051.7 1066.6L1052.2 1066.6L1052.7 1066.9L1053.2 1066.6L1053.7 1066.4L1054.2 1066.5L1054.7 1066.1L1055.2 1065.8L1055.7 1065.9L1056.2 1065.5L1056.7 1065.6L1057.2 1065.5L1057.7 1065.1L1058.2 1064.9L1058.7 1064.8L1059.2 1064.5L1059.7 1064.2L1060.2 1064.3L1060.7 1063.8L1061.2 1063.8L1061.7 1063.6L1062.2 1063.3L1062.7 1063.1L1063.2 1062.5L1063.7 1062.3L1064.2 1061.7L1064.7 1061.1L1065.2 1060.5L1065.7 1060.0L1066.2 1059.7L1066.7 1059.0L1067.2 1058.5L1067.7 1058.0L1068.2 1057.3L1068.7 1056.6L1069.2 1055.4L1069.7 1054.4L1070.2 1053.6L1070.7 1052.5L1071.2 1051.5L1071.7 1050.2L1072.2 1049.2L1072.7 1048.0L1073.2 1046.8L1073.7 1045.5L1074.2 1044.3L1074.7 1043.0L1075.2 1041.8L1075.7 1040.8L1076.2 1039.5L1076.7 1038.8L1077.2 1037.6L1077.7 1036.8L1078.2 1035.8L1078.7 1034.9L1079.2 1034.5L1079.7 1033.6L1080.2 1032.9L1080.7 1032.3L1081.2 1031.9L1081.7 1032.0L1082.2 1031.9L1082.7 1032.3L1083.2 1032.7L1083.7 1033.6L1084.2 1034.3L1084.7 1035.2L1085.2 1035.7L1085.7 1036.7L1086.2 1037.6L1086.7 1038.3L1087.2 1039.3L1087.7 1040.2L1088.2 1040.7L1088.7 1041.8L1089.2 1042.5L1089.7 1043.2L1090.2 1043.8L1090.7 1045.0L1091.2 1045.6L1091.7 1046.4L1092.2 1047.1L1092.7 1047.4L1093.2 1047.9L1093.7 1048.1L1094.2 1048.2L1094.7 1048.2L1095.2 1047.9L1095.7 1047.5L1096.2 1046.7L1096.7 1045.8L1097.2 1045.0L1097.7 1044.2L1098.2 1043.1L1098.7 1042.3L1099.2 1041.5L1099.7 1040.4L1100.2 1039.2L1100.7 1037.9L1101.2 1037.0L1101.7 1035.8L1102.2 1034.7L1102.7 1034.1L1103.2 1034.0L1103.7 1033.4L1104.2 1033.0L1104.7 1032.8L1105.2 1032.6L1105.7 1032.7L1106.2 1032.6L1106.7 1033.0L1107.2 1033.0L1107.7 1033.7L1108.2 1034.0L1108.7 1034.9L1109.2 1035.4L1109.7 1036.5L1110.2 1038.0L1110.7 1039.7L1111.2 1041.0L1111.7 1042.7L1112.2 1044.0L1112.7 1045.6L1113.2 1047.1L1113.7 1048.6L1114.2 1050.0L1114.7 1051.4L1115.2 1052.6L1115.7 1053.9L1116.2 1055.0L1116.7 1055.6L1117.2 1056.7L1117.7 1057.6L1118.2 1058.5L1118.7 1059.1L1119.2 1059.9L1119.7 1060.3L1120.2 1061.0L1120.7 1061.4L1121.2 1061.7L1121.7 1062.1L1122.2 1062.3L1122.7 1062.5L1123.2 1063.0L1123.7 1063.3L1124.2 1063.5L1124.7 1063.8L1125.2 1064.1L1125.7 1063.9L1126.2 1064.1L1126.7 1064.6L1127.2 1064.8L1127.7 1064.7L1128.2 1064.9L1128.7 1065.1L1129.2 1065.2L1129.7 1065.1L1130.2 1065.4L1130.7 1065.3L1131.2 1065.4L1131.7 1065.7L1132.2 1065.7L1132.7 1065.9L1133.2 1066.1L1133.7 1066.3L1134.2 1066.2L1134.7 1066.4L1135.2 1066.3L1135.7 1066.7L1136.2 1066.7L1136.7 1066.5L1137.2 1066.7L1137.7 1066.9L1138.2 1067.0L1138.7 1067.2L1139.2 1067.2L1139.7 1067.0L1140.2 1067.1L1140.7 1067.0L1141.2 1067.3L1141.7 1067.4L1142.2 1067.7L1142.7 1067.5L1143.2 1067.2L1143.7 1067.4L1144.2 1067.5L1144.7 1067.4L1145.2 1067.4L1145.7 1067.5L1146.2 1067.6L1146.7 1067.5L1147.2 1067.4L1147.7 1067.7L1148.2 1067.5L1148.7 1067.6L1149.2 1067.6L1149.7 1067.7L1150.2 1067.9L1150.7 1067.7L1151.2 1067.9L1151.7 1068.0L1152.2 1067.9L1152.7 1068.0L1153.2 1067.9L1153.7 1068.2L1154.2 1068.2L1154.7 1068.1L1155.2 1067.8L1155.7 1067.9L1156.2 1068.2L1156.7 1068.3L1157.2 1068.1L1157.7 1068.3L1158.2 1068.0L1158.7 1068.0L1159.2 1068.0L1159.7 1068.1L1160.2 1067.8L1160.7 1068.1L1161.2 1068.2L1161.7 1067.9L1162.2 1068.0L1162.7 1068.2L1163.2 1068.1L1163.7 1067.9L1164.2 1068.3L1164.7 1068.3L1165.2 1068.2L1165.7 1068.6L1166.2 1068.4L1166.7 1068.3L1167.2 1068.5L1167.7 1068.4L1168.2 1068.5L1168.7 1068.7L1169.2 1068.6L1169.7 1068.7L1170.2 1069.0L1170.7 1068.9L1171.2 1068.9L1171.7 1068.8L1172.2 1068.8L1172.7 1068.9L1173.2 1068.8L1173.7 1069.0L1174.2 1068.7L1174.7 1068.8L1175.2 1068.7L1175.7 1068.9L1176.2 1069.0L1176.7 1069.1L1177.2 1068.9L1177.7 1069.0L1178.2 1068.9L1178.7 1068.8L1179.2 1068.7L1179.7 1068.8L1180.2 1068.6L1180.7 1068.8L1181.2 1068.8L1181.7 1068.8L1182.2 1068.7L1182.7 1068.7L1183.2 1069.1L1183.7 1068.7L1184.2 1069.0L1184.7 1068.9L1185.2 1068.8L1185.7 1068.7L1186.2 1069.0L1186.7 1069.0L1187.2 1068.7L1187.7 1068.8L1188.2 1069.0L1188.7 1069.0L1189.2 1069.2L1189.7 1069.0L1190.2 1069.1L1190.7 1068.9L1191.2 1069.4L1191.7 1069.0L1192.2 1068.8L1192.7 1069.1L1193.2 1069.1L1193.7 1069.3L1194.2 1068.9L1194.7 1068.9L1195.2 1068.9L1195.7 1069.0L1196.2 1068.8L1196.7 1068.9L1197.2 1068.9L1197.7 1068.8L1198.2 1068.8L1198.7 1068.8L1199.2 1068.6L1199.7 1068.8L1200.2 1068.5L1200.7 1068.9L1201.2 1068.9L1201.7 1068.8L1202.2 1068.7L1202.7 1068.8L1203.2 1068.9L1203.7 1068.9L1204.2 1068.9L1204.7 1069.0L1205.2 1068.8L1205.7 1069.0L1206.2 1068.8L1206.7 1069.1L1207.2 1069.0L1207.7 1068.8L1208.2 1069.0L1208.7 1068.9L1209.2 1068.4L1209.7 1068.7L1210.2 1068.6L1210.7 1068.9L1211.2 1069.0L1211.7 1068.6L1212.2 1068.7L1212.7 1068.6L1213.2 1068.6L1213.7 1068.6L1214.2 1068.6L1214.7 1068.3L1215.2 1068.5L1215.7 1068.2L1216.2 1068.4L1216.7 1068.5L1217.2 1068.5L1217.7 1068.4L1218.2 1068.5L1218.7 1068.6L1219.2 1068.7L1219.7 1068.8L1220.2 1068.5L1220.7 1068.7L1221.2 1068.6L1221.7 1068.5L1222.2 1068.4L1222.7 1068.5L1223.2 1068.2L1223.7 1068.2L1224.2 1068.1L1224.7 1068.2L1225.2 1067.7L1225.7 1068.1L1226.2 1067.9L1226.7 1067.9L1227.2 1067.8L1227.7 1067.7L1228.2 1067.9L1228.7 1067.8L1229.2 1068.0L1229.7 1067.7L1230.2 1068.1L1230.7 1068.0L1231.2 1067.9L1231.7 1067.9L1232.2 1067.8L1232.7 1067.7L1233.2 1067.6L1233.7 1067.6L1234.2 1067.4L1234.7 1067.1L1235.2 1067.1L1235.7 1066.9L1236.2 1066.9L1236.7 1067.0L1237.2 1066.8L1237.7 1066.7L1238.2 1066.5L1238.7 1066.5L1239.2 1066.5L1239.7 1066.7L1240.2 1066.4L1240.7 1066.3L1241.2 1066.0L1241.7 1065.9L1242.2 1065.7L1242.7 1065.2L1243.2 1064.9L1243.7 1064.6L1244.2 1064.6L1244.7 1064.1L1245.2 1063.9L1245.7 1063.7L1246.2 1063.5L1246.7 1063.5L1247.2 1063.5L1247.7 1062.7L1248.2 1062.6L1248.7 1062.1L1249.2 1061.5L1249.7 1061.2L1250.2 1060.8L1250.7 1060.3L1251.2 1060.2L1251.7 1059.3L1252.2 1059.2L1252.7 1058.8L1253.2 1058.3L1253.7 1057.9L1254.2 1057.4L1254.7 1056.8L1255.2 1056.3L1255.7 1055.7L1256.2 1054.8L1256.7 1054.6L1257.2 1054.0L1257.7 1053.2L1258.2 1052.5L1258.7 1051.5L1259.2 1051.0L1259.7 1050.3L1260.2 1049.7L1260.7 1049.2L1261.2 1048.3L1261.7 1047.6L1262.2 1046.7L1262.7 1046.2L1263.2 1045.6L1263.7 1044.9L1264.2 1044.4L1264.7 1044.4L1265.2 1043.7L1265.7 1043.4L1266.2 1043.1L1266.7 1043.1L1267.2 1043.0L1267.7 1042.7L1268.2 1042.6L1268.7 1042.7L1269.2 1043.1L1269.7 1043.1L1270.2 1043.7L1270.7 1044.0L1271.2 1044.2L1271.7 1044.8L1272.2 1045.6L1272.7 1046.7L1273.2 1047.4L1273.7 1048.7L1274.2 1049.6L1274.7 1050.7L1275.2 1051.8L1275.7 1052.6L1276.2 1053.5L1276.7 1054.3L1277.2 1055.4L1277.7 1056.6L1278.2 1057.6L1278.7 1058.3L1279.2 1059.2L1279.7 1059.7L1280.2 1060.5L1280.7 1061.3L1281.2 1061.8L1281.7 1062.3L1282.2 1062.9L1282.7 1063.4L1283.2 1063.7L1283.7 1064.4L1284.2 1064.7L1284.7 1065.3L1285.2 1065.6L1285.7 1065.9L1286.2 1066.3L1286.7 1066.5L1287.2 1066.7L1287.7 1066.9L1288.2 1067.1L1288.7 1067.2L1289.2 1067.4L1289.7 1067.1L1290.2 1067.4L1290.7 1067.5L1291.2 1067.8L1291.7 1067.8L1292.2 1067.9L1292.7 1068.2L1293.2 1068.2L1293.7 1068.0L1294.2 1068.4L1294.7 1068.4L1295.2 1068.3L1295.7 1068.5L1296.2 1068.4L1296.7 1068.6L1297.2 1068.5L1297.7 1068.4L1298.2 1068.5L1298.7 1068.4L1299.2 1068.5L1299.7 1068.5L1300.2 1068.5L1300.7 1068.5L1301.2 1068.2L1301.7 1068.8L1302.2 1068.6L1302.7 1068.8L1303.2 1068.9L1303.7 1068.8L1304.2 1068.7L1304.7 1068.7L1305.2 1068.7L1305.7 1068.6L1306.2 1068.6L1306.7 1068.6L1307.2 1068.8L1307.7 1068.7L1308.2 1068.8L1308.7 1068.7L1309.2 1068.7L1309.7 1068.7L1310.2 1068.7L1310.7 1068.7L1311.2 1068.6L1311.7 1068.5L1312.2 1068.4L1312.7 1068.8L1313.2 1068.5L1313.7 1068.5L1314.2 1068.8L1314.7 1068.8L1315.2 1068.8L1315.7 1068.7L1316.2 1069.1L1316.7 1068.8L1317.2 1068.8L1317.7 1068.7L1318.2 1068.5L1318.7 1068.5L1319.2 1068.7L1319.7 1068.6L1320.2 1068.5L1320.7 1068.4L1321.2 1068.4L1321.7 1068.5L1322.2 1068.5L1322.7 1068.8L1323.2 1068.9L1323.7 1069.2L1324.2 1069.0L1324.7 1068.9L1325.2 1068.9L1325.7 1068.6L1326.2 1068.9L1326.7 1069.0L1327.2 1069.1L1327.7 1069.0L1328.2 1069.0L1328.7 1068.9L1329.2 1069.0L1329.7 1069.1L1330.2 1068.8L1330.7 1068.9L1331.2 1068.8L1331.7 1069.1L1332.2 1069.0L1332.7 1068.9L1333.2 1068.7L1333.7 1068.9L1334.2 1068.8L1334.7 1068.9L1335.2 1068.8L1335.7 1068.9L1336.2 1068.8L1336.7 1068.9L1337.2 1068.8L1337.7 1068.7L1338.2 1068.7L1338.7 1068.7L1339.2 1068.9L1339.7 1068.8L1340.2 1068.9L1340.7 1068.9L1341.2 1068.7L1341.7 1069.0L1342.2 1068.7L1342.7 1068.9L1343.2 1068.9L1343.7 1068.6L1344.2 1068.8L1344.7 1068.9L1345.2 1068.8L1345.7 1068.7L1346.2 1068.8L1346.7 1068.6L1347.2 1068.6L1347.7 1068.5L1348.2 1068.6L1348.7 1068.6L1349.2 1068.7L1349.7 1068.8L1350.2 1068.8L1350.7 1068.7L1351.2 1068.6L1351.7 1068.7L1352.2 1068.7L1352.7 1068.6L1353.2 1068.5L1353.7 1068.7L1354.2 1068.9L1354.7 1068.5L1355.2 1068.7L1355.7 1068.7L1356.2 1068.4L1356.7 1068.8L1357.2 1068.6L1357.7 1068.9L1358.2 1068.6L1358.7 1068.4L1359.2 1068.4L1359.7 1068.4L1360.2 1068.3L1360.7 1068.4L1361.2 1068.3L1361.7 1068.4L1362.2 1068.6L1362.7 1068.7L1363.2 1068.5L1363.7 1068.4L1364.2 1068.4L1364.7 1068.4L1365.2 1068.4L1365.7 1068.3L1366.2 1068.1L1366.7 1068.1L1367.2 1068.0L1367.7 1068.0L1368.2 1067.9L1368.7 1067.6L1369.2 1067.4L1369.7 1067.5L1370.2 1067.3L1370.7 1067.5L1371.2 1067.4L1371.7 1067.2L1372.2 1067.4L1372.7 1067.4L1373.2 1067.2L1373.7 1067.3L1374.2 1067.3L1374.7 1066.8L1375.2 1067.0L1375.7 1066.9L1376.2 1066.8L1376.7 1066.8L1377.2 1066.5L1377.7 1066.3L1378.2 1066.1L1378.7 1065.9L1379.2 1065.7L1379.7 1065.4L1380.2 1065.3L1380.7 1065.3L1381.2 1065.0L1381.7 1064.9L1382.2 1064.4L1382.7 1064.3L1383.2 1064.1L1383.7 1064.0L1384.2 1063.8L1384.7 1063.8L1385.2 1063.5L1385.7 1063.3L1386.2 1063.1L1386.7 1063.0L1387.2 1062.7L1387.7 1062.7L1388.2 1062.5L1388.7 1062.3L1389.2 1062.1L1389.7 1062.0L1390.2 1061.9L1390.7 1061.7L1391.2 1061.4L1391.7 1061.2L1392.2 1060.9L1392.7 1060.8L1393.2 1060.4L1393.7 1059.9L1394.2 1060.2L1394.7 1059.9L1395.2 1059.6L1395.7 1059.6L1396.2 1059.4L1396.7 1059.6L1397.2 1059.2L1397.7 1058.8L1398.2 1058.9L1398.7 1058.7L1399.2 1059.0L1399.7 1058.6L1400.2 1058.6L1400.7 1059.1L1401.2 1059.2L1401.7 1059.4L1402.2 1059.4L1402.7 1060.0L1403.2 1060.4L1403.7 1060.1L1404.2 1060.8L1404.7 1060.8L1405.2 1061.5L1405.7 1061.6L1406.2 1061.8L1406.7 1062.3L1407.2 1062.5L1407.7 1062.7L1408.2 1063.2L1408.7 1063.4L1409.2 1063.5L1409.7 1064.1L1410.2 1063.9L1410.7 1063.9L1411.2 1064.0L1411.7 1063.8L1412.2 1063.9L1412.7 1064.1L1413.2 1064.1L1413.7 1064.3L1414.2 1064.4L1414.7 1064.2L1415.2 1064.4L1415.7 1064.3L1416.2 1064.0L1416.7 1064.1L1417.2 1063.8L1417.7 1063.8L1418.2 1063.5L1418.7 1063.1L1419.2 1062.7L1419.7 1062.5L1420.2 1062.2L1420.7 1062.1L1421.2 1061.8L1421.7 1061.5L1422.2 1061.5L1422.7 1061.2L1423.2 1060.8L1423.7 1060.7L1424.2 1060.2L1424.7 1059.9L1425.2 1059.8L1425.7 1059.5L1426.2 1059.4L1426.7 1059.3L1427.2 1059.5L1427.7 1059.4L1428.2 1059.1L1428.7 1059.2L1429.2 1059.0L1429.7 1059.0L1430.2 1059.0L1430.7 1058.9L1431.2 1059.2L1431.7 1058.9L1432.2 1058.8L1432.7 1059.2L1433.2 1059.1L1433.7 1059.4L1434.2 1059.3L1434.7 1060.1L1435.2 1060.4L1435.7 1060.7L1436.2 1061.0L1436.7 1061.3L1437.2 1061.4L1437.7 1061.9L1438.2 1062.1L1438.7 1062.6L1439.2 1063.2L1439.7 1063.6L1440.2 1063.8L1440.7 1064.4L1441.2 1064.8L1441.7 1065.1L1442.2 1065.5L1442.7 1065.7L1443.2 1065.9L1443.7 1066.2L1444.2 1066.9L1444.7 1066.8L1445.2 1067.3L1445.7 1067.6L1446.2 1067.9L1446.7 1067.8L1447.2 1068.1L1447.7 1068.3L1448.2 1068.5L1448.7 1068.4L1449.2 1068.4L1449.7 1068.8L1450.2 1068.9L1450.7 1068.9L1451.2 1068.8L1451.7 1069.0L1452.2 1069.0L1452.7 1069.0L1453.2 1068.8L1453.7 1068.9L1454.2 1068.9L1454.7 1068.8L1455.2 1069.1L1455.7 1069.1L1456.2 1069.1L1456.7 1069.2L1457.2 1069.0L1457.7 1069.1L1458.2 1069.2L1458.7 1069.1L1459.2 1069.3L1459.7 1069.0L1460.2 1069.0L1460.7 1069.3L1461.2 1069.3L1461.7 1069.6L1462.2 1069.4L1462.7 1069.2L1463.2 1069.4L1463.7 1069.2L1464.2 1069.1L1464.7 1069.7L1465.2 1069.4L1465.7 1069.6L1466.2 1069.6L1466.7 1069.8L1467.2 1069.7L1467.7 1069.8L1468.2 1069.5L1468.7 1069.4L1469.2 1069.8L1469.7 1069.8L1470.2 1069.6L1470.7 1069.6L1471.2 1069.6L1471.7 1069.4L1472.2 1069.6L1472.7 1069.4L1473.2 1069.3L1473.7 1069.3L1474.2 1069.3L1474.7 1069.2L1475.2 1069.3L1475.7 1069.1L1476.2 1069.4L1476.7 1069.7L1477.2 1069.4L1477.7 1069.5L1478.2 1069.5L1478.7 1069.5L1479.2 1069.3L1479.7 1069.0L1480.2 1069.2L1480.7 1069.0L1481.2 1069.1L1481.7 1069.3L1482.2 1069.3L1482.7 1069.4L1483.2 1069.7L1483.7 1069.4L1484.2 1069.3L1484.7 1069.2L1485.2 1069.2L1485.7 1069.2L1486.2 1069.3L1486.7 1069.3L1487.2 1069.3L1487.7 1069.3L1488.2 1069.2L1488.7 1069.1L1489.2 1069.1L1489.7 1069.4L1490.2 1069.3L1490.7 1069.4L1491.2 1069.4L1491.7 1069.2L1492.2 1069.3L1492.7 1069.0L1493.2 1069.4L1493.7 1069.2L1494.2 1068.9L1494.7 1068.8L1495.2 1068.9L1495.7 1068.6L1496.2 1068.7L1496.7 1068.9L1497.2 1068.8L1497.7 1068.7L1498.2 1068.7L1498.7 1068.4L1499.2 1068.5L1499.7 1068.3L1500.2 1068.2L1500.7 1068.4L1501.2 1068.2L1501.7 1068.6L1502.2 1068.3L1502.7 1068.6L1503.2 1068.2L1503.7 1068.4L1504.2 1068.0L1504.7 1067.9L1505.2 1068.0L1505.7 1068.0L1506.2 1067.6L1506.7 1067.8L1507.2 1067.4L1507.7 1067.3L1508.2 1067.2L1508.7 1067.1L1509.2 1066.6L1509.7 1066.9L1510.2 1066.7L1510.7 1066.4L1511.2 1066.2L1511.7 1066.0L1512.2 1065.9L1512.7 1066.0L1513.2 1065.7L1513.7 1065.5L1514.2 1065.4L1514.7 1065.5L1515.2 1065.1L1515.7 1064.9L1516.2 1064.9L1516.7 1064.6L1517.2 1064.3L1517.7 1064.0L1518.2 1063.6L1518.7 1063.4L1519.2 1063.2L1519.7 1062.9L1520.2 1062.6L1520.7 1062.2L1521.2 1061.8L1521.7 1061.4L1522.2 1060.8L1522.7 1060.2L1523.2 1059.9L1523.7 1059.3L1524.2 1058.9L1524.7 1058.4L1525.2 1057.8L1525.7 1057.4L1526.2 1057.2L1526.7 1057.0L1527.2 1056.7L1527.7 1056.6L1528.2 1056.3L1528.7 1056.0L1529.2 1055.8L1529.7 1055.7L1530.2 1055.1L1530.7 1055.0L1531.2 1054.7L1531.7 1054.5L1532.2 1054.0L1532.7 1054.2L1533.2 1053.9L1533.7 1053.8L1534.2 1054.0L1534.7 1054.3L1535.2 1054.5L1535.7 1054.9L1536.2 1055.4L1536.7 1055.5L1537.2 1055.7L1537.7 1056.2L1538.2 1056.5L1538.7 1056.9L1539.2 1057.0L1539.7 1057.8L1540.2 1058.2L1540.7 1059.0L1541.2 1059.2L1541.7 1059.9L1542.2 1060.3L1542.7 1060.5L1543.2 1061.0L1543.7 1061.4L1544.2 1061.4L1544.7 1061.4L1545.2 1061.7L1545.7 1061.7L1546.2 1061.8L1546.7 1061.7L1547.2 1062.0L1547.7 1062.2L1548.2 1062.1L1548.7 1062.2L1549.2 1062.4L1549.7 1062.6L1550.2 1062.4L1550.7 1062.3L1551.2 1062.7L1551.7 1063.0L1552.2 1063.4L1552.7 1063.8L1553.2 1064.0L1553.7 1064.1L1554.2 1064.3L1554.7 1064.3L1555.2 1064.5L1555.7 1064.5L1556.2 1065.2L1556.7 1065.2L1557.2 1065.2L1557.7 1065.4L1558.2 1065.7L1558.7 1065.7L1559.2 1066.1L1559.7 1066.3L1560.2 1066.7L1560.7 1066.8L1561.2 1067.0L1561.7 1067.1L1562.2 1067.3L1562.7 1067.5L1563.2 1067.7L1563.7 1068.0L1564.2 1067.9L1564.7 1068.3L1565.2 1068.3L1565.7 1068.3L1566.2 1068.1L1566.7 1068.3L1567.2 1068.6L1567.7 1068.7L1568.2 1068.6L1568.7 1068.8L1569.2 1068.7L1569.7 1068.8L1570.2 1068.9L1570.7 1069.2L1571.2 1069.3L1571.7 1069.3L1572.2 1069.4L1572.7 1069.6L1573.2 1069.6L1573.7 1069.4L1574.2 1069.7L1574.7 1069.5L1575.2 1069.5L1575.7 1069.6L1576.2 1069.5L1576.7 1069.4L1577.2 1069.4L1577.7 1069.1L1578.2 1069.2L1578.7 1069.0L1579.2 1069.4L1579.7 1069.0L1580.2 1069.3L1580.7 1069.1L1581.2 1069.1L1581.7 1069.2L1582.2 1069.2L1582.7 1069.3L1583.2 1069.5L1583.7 1069.4L1584.2 1069.6L1584.7 1069.5L1585.2 1069.7L1585.7 1069.6L1586.2 1069.5L1586.7 1069.5L1587.2 1069.5L1587.7 1069.5L1588.2 1069.5L1588.7 1069.4L1589.2 1069.4L1589.7 1069.7L1590.2 1069.4L1590.7 1069.6L1591.2 1069.9L1591.7 1069.3L1592.2 1069.6L1592.7 1069.7L1593.2 1069.4L1593.7 1070.0L1594.2 1069.3L1594.7 1069.8L1595.2 1069.9L1595.7 1069.7L1596.2 1069.6L1596.7 1069.6L1597.2 1069.4L1597.7 1069.6L1598.2 1069.4L1598.7 1069.6L1599.2 1069.9L1599.7 1069.6L1600.2 1069.7L1600.7 1069.8L1601.2 1069.5L1601.7 1069.8L1602.2 1069.7L1602.7 1069.5L1603.2 1069.7L1603.7 1069.6L1604.2 1069.7L1604.7 1069.7L1605.2 1069.6L1605.7 1069.8L1606.2 1069.6L1606.7 1069.9L1607.2 1069.8L1607.7 1069.9L1608.2 1069.8L1608.7 1069.8L1609.2 1069.6L1609.7 1069.8L1610.2 1069.8L1610.7 1069.9L1611.2 1069.8L1611.7 1069.7L1612.2 1069.7L1612.7 1069.9L1613.2 1069.9L1613.7 1070.1L1614.2 1070.0L1614.7 1069.8L1615.2 1069.8L1615.7 1070.0L1616.2 1069.9L1616.7 1069.8L1617.2 1070.0L1617.7 1069.8L1618.2 1069.8L1618.7 1069.8L1619.2 1069.7L1619.7 1070.1L1620.2 1069.8L1620.7 1069.9L1621.2 1069.9L1621.7 1070.1L1622.2 1070.0L1622.7 1070.0L1623.2 1069.8L1623.7 1069.9L1624.2 1069.8L1624.7 1070.0L1625.2 1070.0L1625.7 1070.0L1626.2 1070.3L1626.7 1070.2L1627.2 1070.1L1627.7 1070.0L1628.2 1070.0L1628.7 1070.1L1629.2 1070.1L1629.7 1069.8L1630.2 1070.1L1630.7 1070.0L1631.2 1070.1L1631.7 1070.0L1632.2 1069.8L1632.7 1069.7L1633.2 1070.1L1633.7 1069.8L1634.2 1069.5L1634.7 1069.7L1635.2 1069.7L1635.7 1069.5L1636.2 1069.5L1636.7 1069.7L1637.2 1070.0" stroke="#505050" stroke-width="5.4"/>
<path d="M145.7 801.0L146.2 800.8L146.7 800.8L147.2 801.0L147.7 801.1L148.2 801.1L148.7 801.1L149.2 800.0L149.7 800.6L150.2 800.7L150.7 800.8L151.2 800.2L151.7 800.9L152.2 800.5L152.7 800.2L153.2 800.3L153.7 800.1L154.2 799.9L154.7 800.1L155.2 799.7L155.7 799.4L156.2 799.6L156.7 799.7L157.2 799.4L157.7 800.1L158.2 799.5L158.7 800.3L159.2 800.1L159.7 799.5L160.2 799.7L160.7 799.9L161.2 799.4L161.7 798.9L162.2 799.1L162.7 799.4L163.2 798.3L163.7 798.7L164.2 798.5L164.7 798.4L165.2 798.2L165.7 798.2L166.2 798.5L166.7 798.4L167.2 797.9L167.7 798.5L168.2 797.6L168.7 798.0L169.2 797.7L169.7 797.8L170.2 797.5L170.7 797.5L171.2 797.1L171.7 797.2L172.2 796.8L172.7 797.0L173.2 796.1L173.7 796.5L174.2 796.3L174.7 796.3L175.2 796.1L175.7 796.4L176.2 795.8L176.7 795.6L177.2 795.9L177.7 795.0L178.2 795.6L178.7 795.0L179.2 795.1L179.7 795.0L180.2 795.0L180.7 794.7L181.2 794.4L181.7 794.1L182.2 794.1L182.7 793.8L183.2 793.7L183.7 793.3L184.2 793.1L184.7 792.6L185.2 793.2L185.7 793.2L186.2 792.7L186.7 792.9L187.2 792.9L187.7 792.3L188.2 792.4L188.7 792.0L189.2 791.4L189.7 791.6L190.2 791.6L190.7 791.8L191.2 791.4L191.7 791.4L192.2 791.1L192.7 791.2L193.2 791.0L193.7 791.0L194.2 790.8L194.7 790.4L195.2 790.1L195.7 789.8L196.2 789.5L196.7 789.5L197.2 788.1L197.7 788.4L198.2 788.1L198.7 787.9L199.2 786.8L199.7 786.7L200.2 786.3L200.7 785.4L201.2 784.4L201.7 784.2L202.2 783.3L202.7 783.0L203.2 781.8L203.7 781.7L204.2 780.5L204.7 779.4L205.2 778.7L205.7 777.7L206.2 777.3L206.7 776.8L207.2 775.5L207.7 775.1L208.2 773.8L208.7 773.4L209.2 773.2L209.7 771.4L210.2 771.3L210.7 770.4L211.2 768.5L211.7 767.6L212.2 766.5L212.7 765.7L213.2 763.9L213.7 762.4L214.2 761.0L214.7 759.0L215.2 757.2L215.7 755.1L216.2 753.5L216.7 751.0L217.2 749.6L217.7 747.0L218.2 744.7L218.7 742.8L219.2 740.3L219.7 737.1L220.2 735.2L220.7 732.2L221.2 729.9L221.7 727.8L222.2 724.8L222.7 722.6L223.2 719.8L223.7 717.8L224.2 714.4L224.7 711.3L225.2 708.4L225.7 705.4L226.2 702.7L226.7 699.6L227.2 696.9L227.7 693.7L228.2 690.8L228.7 687.9L229.2 684.9L229.7 682.1L230.2 679.3L230.7 676.6L231.2 673.5L231.7 670.7L232.2 668.6L232.7 666.6L233.2 663.5L233.7 661.7L234.2 659.8L234.7 657.5L235.2 655.6L235.7 654.9L236.2 653.7L236.7 652.2L237.2 651.6L237.7 650.7L238.2 649.2L238.7 649.7L239.2 648.4L239.7 648.6L240.2 648.7L240.7 649.6L241.2 650.0L241.7 651.2L242.2 652.4L242.7 653.1L243.2 654.1L243.7 655.8L244.2 656.9L244.7 659.7L245.2 661.8L245.7 664.5L246.2 667.1L246.7 669.7L247.2 672.0L247.7 674.0L248.2 676.3L248.7 678.8L249.2 680.9L249.7 682.9L250.2 685.5L250.7 688.1L251.2 691.0L251.7 694.1L252.2 697.2L252.7 700.3L253.2 703.7L253.7 706.4L254.2 708.9L254.7 712.4L255.2 714.4L255.7 717.1L256.2 719.3L256.7 722.1L257.2 723.8L257.7 726.4L258.2 728.3L258.7 730.2L259.2 732.1L259.7 734.6L260.2 736.4L260.7 738.3L261.2 740.4L261.7 741.7L262.2 743.4L262.7 745.0L263.2 746.9L263.7 748.5L264.2 749.9L264.7 752.2L265.2 752.4L265.7 754.0L266.2 754.9L266.7 755.7L267.2 756.2L267.7 757.2L268.2 757.8L268.7 758.2L269.2 759.1L269.7 759.5L270.2 759.9L270.7 760.7L271.2 760.6L271.7 761.2L272.2 761.1L272.7 761.4L273.2 761.2L273.7 761.1L274.2 760.6L274.7 760.4L275.2 760.1L275.7 760.0L276.2 759.8L276.7 759.5L277.2 758.6L277.7 758.2L278.2 757.2L278.7 756.5L279.2 756.4L279.7 756.0L280.2 755.4L280.7 755.0L281.2 755.3L281.7 754.5L282.2 753.8L282.7 754.4L283.2 753.4L283.7 752.8L284.2 752.8L284.7 752.1L285.2 752.5L285.7 751.5L286.2 751.4L286.7 751.5L287.2 751.2L287.7 751.8L288.2 751.0L288.7 751.3L289.2 751.6L289.7 751.7L290.2 751.8L290.7 751.6L291.2 752.2L291.7 751.6L292.2 752.1L292.7 752.6L293.2 752.6L293.7 753.1L294.2 753.6L294.7 754.3L295.2 755.0L295.7 756.1L296.2 756.8L296.7 758.3L297.2 758.7L297.7 760.7L298.2 761.6L298.7 762.5L299.2 763.3L299.7 764.2L300.2 765.8L300.7 766.6L301.2 767.7L301.7 768.3L302.2 769.7L302.7 770.0L303.2 771.0L303.7 771.2L304.2 772.3L304.7 773.3L305.2 773.6L305.7 774.0L306.2 774.7L306.7 774.8L307.2 775.4L307.7 774.7L308.2 775.8L308.7 776.1L309.2 776.0L309.7 776.5L310.2 777.4L310.7 777.3L311.2 777.7L311.7 778.3L312.2 778.1L312.7 778.3L313.2 777.9L313.7 778.1L314.2 778.2L314.7 777.9L315.2 777.2L315.7 778.0L316.2 777.9L316.7 777.7L317.2 778.4L317.7 777.6L318.2 778.6L318.7 777.9L319.2 778.5L319.7 778.0L320.2 777.7L320.7 778.1L321.2 778.1L321.7 778.2L322.2 778.3L322.7 777.8L323.2 778.1L323.7 778.3L324.2 778.1L324.7 778.0L325.2 778.1L325.7 778.6L326.2 778.6L326.7 778.2L327.2 778.0L327.7 778.7L328.2 778.0L328.7 778.4L329.2 778.2L329.7 777.8L330.2 778.2L330.7 778.0L331.2 778.3L331.7 778.3L332.2 777.5L332.7 777.7L333.2 777.6L333.7 777.0L334.2 776.8L334.7 777.3L335.2 776.6L335.7 776.6L336.2 776.4L336.7 776.4L337.2 776.3L337.7 776.6L338.2 776.7L338.7 776.1L339.2 775.7L339.7 775.9L340.2 775.3L340.7 775.3L341.2 775.7L341.7 775.8L342.2 775.1L342.7 774.5L343.2 774.8L343.7 773.8L344.2 774.0L344.7 774.4L345.2 774.0L345.7 773.2L346.2 772.9L346.7 773.4L347.2 773.0L347.7 772.7L348.2 773.0L348.7 772.8L349.2 772.4L349.7 773.1L350.2 772.6L350.7 772.3L351.2 772.0L351.7 772.2L352.2 771.7L352.7 771.9L353.2 771.4L353.7 771.5L354.2 770.9L354.7 770.7L355.2 770.3L355.7 770.5L356.2 770.9L356.7 771.6L357.2 770.4L357.7 770.4L358.2 770.7L358.7 770.7L359.2 770.2L359.7 770.3L360.2 769.6L360.7 769.7L361.2 769.7L361.7 769.7L362.2 769.0L362.7 768.8L363.2 768.9L363.7 769.0L364.2 768.7L364.7 768.2L365.2 768.3L365.7 768.2L366.2 767.6L366.7 767.2L367.2 767.6L367.7 767.4L368.2 767.3L368.7 766.9L369.2 766.5L369.7 766.3L370.2 765.8L370.7 765.5L371.2 765.3L371.7 764.8L372.2 764.7L372.7 763.5L373.2 763.2L373.7 762.4L374.2 762.4L374.7 761.5L375.2 760.8L375.7 760.6L376.2 759.9L376.7 759.1L377.2 759.0L377.7 758.0L378.2 757.5L378.7 756.5L379.2 755.5L379.7 754.4L380.2 753.1L380.7 752.6L381.2 751.4L381.7 750.5L382.2 749.2L382.7 747.6L383.2 746.1L383.7 745.0L384.2 743.5L384.7 741.4L385.2 739.8L385.7 738.3L386.2 735.8L386.7 734.0L387.2 731.7L387.7 730.1L388.2 727.5L388.7 724.7L389.2 721.8L389.7 719.4L390.2 716.9L390.7 713.5L391.2 710.4L391.7 707.3L392.2 703.4L392.7 700.1L393.2 696.5L393.7 692.1L394.2 687.7L394.7 683.4L395.2 678.5L395.7 673.5L396.2 668.5L396.7 663.3L397.2 657.6L397.7 652.2L398.2 646.8L398.7 641.3L399.2 635.6L399.7 629.2L400.2 623.8L400.7 617.8L401.2 611.4L401.7 605.4L402.2 599.2L402.7 593.3L403.2 586.5L403.7 581.0L404.2 575.1L404.7 569.3L405.2 563.9L405.7 558.1L406.2 551.9L406.7 546.5L407.2 541.3L407.7 535.7L408.2 531.3L408.7 526.2L409.2 521.5L409.7 517.0L410.2 513.1L410.7 508.7L411.2 505.1L411.7 502.6L412.2 498.9L412.7 496.0L413.2 493.4L413.7 492.6L414.2 492.1L414.7 492.9L415.2 494.3L415.7 496.3L416.2 498.6L416.7 501.3L417.2 504.5L417.7 508.1L418.2 513.1L418.7 517.8L419.2 523.4L419.7 528.9L420.2 535.1L420.7 539.8L421.2 545.9L421.7 552.0L422.2 557.6L422.7 564.0L423.2 569.4L423.7 576.1L424.2 581.9L424.7 588.4L425.2 594.4L425.7 600.2L426.2 606.7L426.7 612.6L427.2 618.4L427.7 624.5L428.2 630.3L428.7 636.8L429.2 643.4L429.7 648.7L430.2 654.9L430.7 660.4L431.2 666.5L431.7 672.1L432.2 677.7L432.7 683.0L433.2 689.1L433.7 695.1L434.2 700.0L434.7 705.1L435.2 709.3L435.7 713.2L436.2 717.9L436.7 721.9L437.2 725.4L437.7 729.1L438.2 732.6L438.7 735.4L439.2 738.4L439.7 740.8L440.2 742.7L440.7 745.6L441.2 747.7L441.7 749.7L442.2 752.0L442.7 753.6L443.2 755.5L443.7 757.2L444.2 758.2L444.7 759.1L445.2 760.6L445.7 762.3L446.2 763.1L446.7 764.1L447.2 765.3L447.7 766.4L448.2 767.2L448.7 768.2L449.2 768.6L449.7 769.5L450.2 770.2L450.7 770.9L451.2 771.1L451.7 772.1L452.2 772.4L452.7 773.6L453.2 774.1L453.7 774.6L454.2 774.7L454.7 774.7L455.2 775.4L455.7 775.5L456.2 776.2L456.7 776.2L457.2 776.7L457.7 777.4L458.2 778.1L458.7 777.9L459.2 778.7L459.7 779.1L460.2 778.3L460.7 778.9L461.2 778.9L461.7 779.3L462.2 779.4L462.7 779.8L463.2 780.3L463.7 780.5L464.2 780.6L464.7 780.8L465.2 781.1L465.7 781.2L466.2 781.5L466.7 781.5L467.2 781.9L467.7 781.6L468.2 782.4L468.7 782.9L469.2 782.6L469.7 782.2L470.2 783.0L470.7 782.6L471.2 782.0L471.7 782.9L472.2 783.3L472.7 783.4L473.2 783.8L473.7 783.8L474.2 783.8L474.7 783.4L475.2 783.8L475.7 784.4L476.2 784.9L476.7 784.7L477.2 785.0L477.7 785.6L478.2 785.2L478.7 785.4L479.2 786.0L479.7 786.1L480.2 785.9L480.7 785.5L481.2 786.1L481.7 785.8L482.2 786.4L482.7 786.4L483.2 786.8L483.7 787.1L484.2 786.9L484.7 787.3L485.2 787.3L485.7 786.9L486.2 787.0L486.7 786.3L487.2 786.6L487.7 786.4L488.2 786.1L488.7 786.4L489.2 786.3L489.7 786.3L490.2 786.4L490.7 786.6L491.2 786.1L491.7 786.1L492.2 785.5L492.7 785.8L493.2 786.0L493.7 785.9L494.2 785.8L494.7 785.5L495.2 785.5L495.7 785.8L496.2 785.5L496.7 785.6L497.2 786.3L497.7 785.9L498.2 786.8L498.7 786.2L499.2 787.0L499.7 786.9L500.2 787.7L500.7 787.8L501.2 788.5L501.7 788.8L502.2 789.1L502.7 789.6L503.2 790.1L503.7 789.6L504.2 790.1L504.7 790.0L505.2 790.0L505.7 790.7L506.2 789.7L506.7 790.1L507.2 789.9L507.7 790.4L508.2 790.5L508.7 791.7L509.2 790.8L509.7 791.1L510.2 790.9L510.7 790.4L511.2 790.6L511.7 790.9L512.2 790.5L512.7 790.6L513.2 790.8L513.7 790.4L514.2 790.7L514.7 791.1L515.2 791.3L515.7 791.1L516.2 791.4L516.7 791.6L517.2 791.7L517.7 791.9L518.2 791.7L518.7 791.6L519.2 791.1L519.7 791.1L520.2 791.4L520.7 790.8L521.2 791.4L521.7 791.2L522.2 791.2L522.7 791.6L523.2 791.3L523.7 791.4L524.2 791.7L524.7 792.0L525.2 792.9L525.7 791.6L526.2 792.2L526.7 792.0L527.2 792.2L527.7 791.7L528.2 791.1L528.7 792.1L529.2 791.6L529.7 792.0L530.2 791.8L530.7 791.9L531.2 792.2L531.7 792.5L532.2 792.6L532.7 792.2L533.2 792.6L533.7 792.4L534.2 792.6L534.7 792.7L535.2 792.8L535.7 792.5L536.2 792.6L536.7 792.6L537.2 792.6L537.7 792.3L538.2 793.1L538.7 792.6L539.2 793.1L539.7 793.1L540.2 793.6L540.7 792.7L541.2 793.9L541.7 793.3L542.2 793.1L542.7 793.4L543.2 794.0L543.7 793.7L544.2 793.3L544.7 793.6L545.2 794.2L545.7 793.5L546.2 793.8L546.7 793.8L547.2 794.4L547.7 793.7L548.2 794.2L548.7 793.6L549.2 793.6L549.7 794.2L550.2 794.1L550.7 793.5L551.2 794.2L551.7 794.3L552.2 794.0L552.7 794.2L553.2 794.2L553.7 794.1L554.2 794.1L554.7 794.1L555.2 794.2L555.7 794.0L556.2 794.4L556.7 794.0L557.2 794.4L557.7 794.3L558.2 794.0L558.7 794.5L559.2 794.8L559.7 794.6L560.2 794.0L560.7 794.8L561.2 794.7L561.7 794.8L562.2 794.7L562.7 794.8L563.2 795.1L563.7 794.8L564.2 794.4L564.7 794.2L565.2 794.2L565.7 794.4L566.2 794.7L566.7 793.9L567.2 794.2L567.7 794.1L568.2 793.9L568.7 794.1L569.2 794.0L569.7 793.3L570.2 793.4L570.7 794.0L571.2 793.9L571.7 794.1L572.2 793.9L572.7 794.0L573.2 794.3L573.7 794.1L574.2 794.0L574.7 794.5L575.2 794.9L575.7 794.6L576.2 795.2L576.7 795.1L577.2 794.5L577.7 794.6L578.2 794.4L578.7 794.5L579.2 794.5L579.7 794.0L580.2 794.1L580.7 794.8L581.2 794.6L581.7 794.8L582.2 794.9L582.7 795.4L583.2 794.8L583.7 795.6L584.2 795.1L584.7 795.6L585.2 795.7L585.7 795.0L586.2 795.5L586.7 795.4L587.2 795.5L587.7 795.7L588.2 795.5L588.7 795.5L589.2 795.9L589.7 795.9L590.2 795.5L590.7 795.4L591.2 796.5L591.7 796.5L592.2 796.6L592.7 796.5L593.2 796.8L593.7 797.2L594.2 796.9L594.7 797.5L595.2 797.1L595.7 797.1L596.2 796.8L596.7 796.9L597.2 797.0L597.7 797.4L598.2 797.3L598.7 797.3L599.2 797.5L599.7 797.5L600.2 797.8L600.7 797.5L601.2 797.4L601.7 797.7L602.2 798.1L602.7 797.5L603.2 797.6L603.7 797.4L604.2 797.6L604.7 797.4L605.2 797.1L605.7 797.2L606.2 797.4L606.7 797.4L607.2 797.3L607.7 797.3L608.2 797.2L608.7 797.3L609.2 797.9L609.7 797.4L610.2 797.8L610.7 797.3L611.2 797.6L611.7 797.5L612.2 797.4L612.7 797.8L613.2 797.5L613.7 797.7L614.2 797.8L614.7 797.7L615.2 798.4L615.7 797.9L616.2 798.0L616.7 797.5L617.2 797.5L617.7 797.2L618.2 796.9L618.7 796.6L619.2 796.7L619.7 797.1L620.2 796.7L620.7 796.8L621.2 796.8L621.7 797.6L622.2 797.3L622.7 797.0L623.2 796.9L623.7 796.5L624.2 796.5L624.7 796.5L625.2 796.5L625.7 796.2L626.2 796.4L626.7 796.9L627.2 797.0L627.7 796.5L628.2 797.1L628.7 797.4L629.2 796.8L629.7 796.9L630.2 796.3L630.7 796.8L631.2 796.2L631.7 796.1L632.2 796.3L632.7 797.0L633.2 796.2L633.7 796.0L634.2 796.3L634.7 796.2L635.2 796.5L635.7 795.6L636.2 795.4L636.7 795.6L637.2 795.7L637.7 795.7L638.2 795.9L638.7 795.2L639.2 795.4L639.7 795.6L640.2 795.9L640.7 795.8L641.2 795.6L641.7 795.4L642.2 796.0L642.7 796.1L643.2 796.6L643.7 795.9L644.2 796.4L644.7 795.6L645.2 795.6L645.7 795.5L646.2 795.4L646.7 795.2L647.2 795.3L647.7 795.5L648.2 795.5L648.7 795.9L649.2 795.9L649.7 796.0L650.2 796.4L650.7 796.1L651.2 796.0L651.7 795.9L652.2 795.9L652.7 796.0L653.2 795.5L653.7 795.9L654.2 796.0L654.7 795.9L655.2 795.6L655.7 795.4L656.2 795.8L656.7 796.1L657.2 796.3L657.7 795.9L658.2 795.6L658.7 795.8L659.2 795.0L659.7 795.4L660.2 795.3L660.7 794.9L661.2 795.4L661.7 795.3L662.2 795.3L662.7 795.1L663.2 795.1L663.7 795.7L664.2 795.5L664.7 795.8L665.2 795.6L665.7 796.0L666.2 796.2L666.7 796.0L667.2 796.0L667.7 796.5L668.2 796.4L668.7 796.1L669.2 796.3L669.7 796.6L670.2 797.1L670.7 796.5L671.2 797.1L671.7 797.6L672.2 797.2L672.7 797.5L673.2 796.4L673.7 797.4L674.2 797.0L674.7 796.6L675.2 797.4L675.7 797.7L676.2 797.9L676.7 798.1L677.2 797.9L677.7 797.8L678.2 797.9L678.7 798.0L679.2 798.2L679.7 798.0L680.2 798.3L680.7 798.6L681.2 798.5L681.7 799.1L682.2 799.2L682.7 798.4L683.2 798.6L683.7 798.4L684.2 798.4L684.7 798.9L685.2 798.5L685.7 798.5L686.2 798.8L686.7 799.3L687.2 799.2L687.7 799.4L688.2 799.9L688.7 799.8L689.2 799.8L689.7 799.9L690.2 799.3L690.7 799.6L691.2 799.4L691.7 799.9L692.2 799.8L692.7 799.4L693.2 800.1L693.7 799.6L694.2 800.4L694.7 800.2L695.2 800.1L695.7 800.2L696.2 800.5L696.7 800.7L697.2 800.6L697.7 801.0L698.2 800.6L698.7 801.0L699.2 801.1L699.7 800.7L700.2 801.4L700.7 801.1L701.2 800.9L701.7 801.4L702.2 801.4L702.7 801.7L703.2 801.3L703.7 801.9L704.2 802.0L704.7 802.1L705.2 802.3L705.7 802.2L706.2 802.1L706.7 802.4L707.2 802.5L707.7 802.3L708.2 802.2L708.7 801.9L709.2 802.6L709.7 802.6L710.2 802.2L710.7 802.7L711.2 802.9L711.7 802.8L712.2 803.1L712.7 803.1L713.2 802.5L713.7 802.9L714.2 803.1L714.7 803.2L715.2 803.4L715.7 802.6L716.2 803.2L716.7 803.5L717.2 803.6L717.7 803.7L718.2 802.9L718.7 803.0L719.2 802.8L719.7 803.3L720.2 802.7L720.7 803.4L721.2 803.5L721.7 803.5L722.2 802.9L722.7 803.5L723.2 804.1L723.7 803.7L724.2 804.0L724.7 804.0L725.2 804.2L725.7 803.9L726.2 803.7L726.7 803.5L727.2 803.6L727.7 803.6L728.2 804.1L728.7 804.0L729.2 804.5L729.7 803.9L730.2 804.7L730.7 804.3L731.2 804.7L731.7 804.4L732.2 804.7L732.7 804.9L733.2 804.4L733.7 804.6L734.2 804.6L734.7 804.7L735.2 804.3L735.7 804.7L736.2 804.8L736.7 804.6L737.2 804.8L737.7 804.3L738.2 805.0L738.7 804.7L739.2 805.0L739.7 804.2L740.2 804.0L740.7 804.3L741.2 803.6L741.7 803.9L742.2 803.7L742.7 803.8L743.2 804.2L743.7 804.3L744.2 805.0L744.7 804.8L745.2 804.4L745.7 805.0L746.2 804.4L746.7 804.7L747.2 804.3L747.7 804.4L748.2 805.0L748.7 804.4L749.2 804.4L749.7 804.4L750.2 804.5L750.7 805.0L751.2 804.3L751.7 804.4L752.2 804.9L752.7 804.3L753.2 804.6L753.7 805.0L754.2 804.7L754.7 804.7L755.2 804.7L755.7 804.7L756.2 804.8L756.7 805.1L757.2 805.3L757.7 805.2L758.2 804.8L758.7 804.7L759.2 805.1L759.7 804.4L760.2 804.7L760.7 804.6L761.2 804.2L761.7 804.1L762.2 804.4L762.7 803.9L763.2 804.2L763.7 804.4L764.2 804.8L764.7 804.5L765.2 805.2L765.7 804.7L766.2 804.7L766.7 804.6L767.2 804.5L767.7 804.4L768.2 804.9L768.7 804.6L769.2 804.3L769.7 804.5L770.2 804.0L770.7 804.4L771.2 804.4L771.7 804.3L772.2 804.8L772.7 804.3L773.2 804.8L773.7 804.4L774.2 804.7L774.7 804.9L775.2 804.6L775.7 804.2L776.2 804.2L776.7 803.9L777.2 803.6L777.7 803.5L778.2 803.8L778.7 804.1L779.2 803.7L779.7 804.4L780.2 804.7L780.7 804.7L781.2 804.3L781.7 804.8L782.2 804.0L782.7 804.4L783.2 804.5L783.7 803.5L784.2 804.0L784.7 804.0L785.2 804.0L785.7 803.7L786.2 803.9L786.7 803.6L787.2 804.0L787.7 804.1L788.2 803.8L788.7 803.7L789.2 803.8L789.7 803.9L790.2 804.0L790.7 804.0L791.2 804.1L791.7 803.8L792.2 803.5L792.7 804.4L793.2 804.7L793.7 804.0L794.2 804.2L794.7 804.6L795.2 804.8L795.7 804.8L796.2 804.9L796.7 804.5L797.2 804.5L797.7 804.4L798.2 804.1L798.7 804.5L799.2 804.3L799.7 804.4L800.2 804.0L800.7 804.3L801.2 803.7L801.7 804.0L802.2 803.3L802.7 803.7L803.2 804.3L803.7 804.0L804.2 804.2L804.7 803.7L805.2 804.5L805.7 804.2L806.2 804.0L806.7 804.1L807.2 804.0L807.7 804.3L808.2 804.0L808.7 803.6L809.2 803.9L809.7 804.3L810.2 804.1L810.7 803.8L811.2 804.0L811.7 804.0L812.2 804.2L812.7 803.7L813.2 804.0L813.7 804.5L814.2 804.2L814.7 804.4L815.2 804.8L815.7 804.3L816.2 804.4L816.7 804.3L817.2 804.3L817.7 804.5L818.2 804.1L818.7 804.0L819.2 804.9L819.7 804.6L820.2 805.0L820.7 804.8L821.2 804.9L821.7 805.1L822.2 805.1L822.7 804.5L823.2 805.1L823.7 804.5L824.2 804.8L824.7 805.4L825.2 804.8L825.7 805.3L826.2 804.9L826.7 805.3L827.2 805.3L827.7 805.5L828.2 805.2L828.7 805.2L829.2 805.5L829.7 805.0L830.2 805.2L830.7 805.5L831.2 805.3L831.7 805.3L832.2 805.3L832.7 805.8L833.2 805.7L833.7 805.8L834.2 805.7L834.7 806.2L835.2 805.6L835.7 805.2L836.2 805.7L836.7 805.7L837.2 805.8L837.7 805.4L838.2 806.1L838.7 805.8L839.2 805.7L839.7 805.3L840.2 805.8L840.7 805.6L841.2 806.0L841.7 805.7L842.2 805.7L842.7 806.2L843.2 806.1L843.7 806.5L844.2 806.0L844.7 806.2L845.2 806.1L845.7 806.1L846.2 806.0L846.7 806.1L847.2 806.6L847.7 806.6L848.2 807.0L848.7 806.9L849.2 806.3L849.7 806.8L850.2 807.1L850.7 806.7L851.2 806.6L851.7 806.4L852.2 806.1L852.7 805.8L853.2 806.3L853.7 806.4L854.2 806.3L854.7 806.4L855.2 806.5L855.7 806.5L856.2 806.7L856.7 806.7L857.2 806.8L857.7 806.4L858.2 806.5L858.7 806.9L859.2 806.7L859.7 806.2L860.2 806.9L860.7 806.2L861.2 807.3L861.7 807.0L862.2 807.0L862.7 806.6L863.2 806.5L863.7 806.8L864.2 806.9L864.7 806.8L865.2 807.0L865.7 807.0L866.2 806.9L866.7 806.3L867.2 805.9L867.7 806.3L868.2 806.0L868.7 806.2L869.2 806.5L869.7 806.5L870.2 806.1L870.7 806.3L871.2 806.4L871.7 806.0L872.2 806.1L872.7 806.4L873.2 806.2L873.7 806.1L874.2 806.0L874.7 806.0L875.2 805.7L875.7 805.9L876.2 805.6L876.7 806.1L877.2 806.1L877.7 805.6L878.2 806.2L878.7 805.8L879.2 806.2L879.7 806.0L880.2 805.8L880.7 806.1L881.2 805.8L881.7 806.0L882.2 806.1L882.7 806.0L883.2 806.1L883.7 805.7L884.2 806.1L884.7 805.6L885.2 806.0L885.7 805.8L886.2 805.8L886.7 805.4L887.2 806.4L887.7 805.6L888.2 805.8L888.7 805.5L889.2 806.1L889.7 805.5L890.2 805.8L890.7 805.1L891.2 805.3L891.7 805.1L892.2 805.4L892.7 805.1L893.2 804.9L893.7 805.3L894.2 804.9L894.7 805.0L895.2 805.4L895.7 804.7L896.2 805.3L896.7 804.9L897.2 804.8L897.7 805.1L898.2 805.2L898.7 804.8L899.2 804.8L899.7 804.9L900.2 804.7L900.7 804.3L901.2 804.0L901.7 804.0L902.2 804.2L902.7 804.8L903.2 804.9L903.7 805.0L904.2 805.3L904.7 804.8L905.2 804.7L905.7 804.6L906.2 805.1L906.7 804.0L907.2 804.7L907.7 804.8L908.2 804.8L908.7 805.5L909.2 805.3L909.7 805.2L910.2 804.8L910.7 805.0L911.2 804.6L911.7 804.4L912.2 804.3L912.7 803.9L913.2 804.0L913.7 804.2L914.2 804.0L914.7 803.8L915.2 803.3L915.7 804.1L916.2 804.1L916.7 803.8L917.2 803.8L917.7 804.2L918.2 804.0L918.7 804.6L919.2 804.2L919.7 804.2L920.2 804.4L920.7 803.9L921.2 804.1L921.7 804.1L922.2 803.5L922.7 804.0L923.2 803.6L923.7 803.9L924.2 803.8L924.7 803.7L925.2 803.7L925.7 803.5L926.2 803.7L926.7 803.7L927.2 804.4L927.7 804.3L928.2 803.8L928.7 804.4L929.2 804.4L929.7 804.4L930.2 804.7L930.7 805.1L931.2 805.0L931.7 805.4L932.2 805.8L932.7 805.7L933.2 806.1L933.7 806.0L934.2 805.8L934.7 805.7L935.2 806.0L935.7 806.3L936.2 806.3L936.7 806.1L937.2 806.7L937.7 806.7L938.2 806.9L938.7 807.1L939.2 806.6L939.7 806.8L940.2 806.7L940.7 806.6L941.2 807.4L941.7 807.1L942.2 806.4L942.7 807.0L943.2 806.7L943.7 807.0L944.2 806.6L944.7 806.4L945.2 806.5L945.7 806.6L946.2 806.6L946.7 806.7L947.2 806.9L947.7 807.3L948.2 807.1L948.7 807.6L949.2 807.8L949.7 807.9L950.2 808.3L950.7 807.8L951.2 807.9L951.7 807.6L952.2 807.8L952.7 807.5L953.2 807.6L953.7 807.9L954.2 807.6L954.7 808.3L955.2 808.2L955.7 808.3L956.2 808.3L956.7 808.5L957.2 808.4L957.7 808.5L958.2 808.0L958.7 807.9L959.2 807.9L959.7 808.3L960.2 808.6L960.7 808.4L961.2 808.2L961.7 808.5L962.2 808.5L962.7 808.5L963.2 808.3L963.7 807.9L964.2 808.4L964.7 808.7L965.2 808.5L965.7 807.8L966.2 808.4L966.7 807.9L967.2 808.9L967.7 808.5L968.2 808.2L968.7 808.7L969.2 808.3L969.7 808.8L970.2 808.7L970.7 808.5L971.2 809.1L971.7 808.7L972.2 809.5L972.7 809.2L973.2 808.9L973.7 808.6L974.2 809.4L974.7 809.2L975.2 808.4L975.7 809.1L976.2 808.6L976.7 808.5L977.2 808.6L977.7 808.6L978.2 809.2L978.7 809.0L979.2 808.6L979.7 809.6L980.2 809.3L980.7 808.8L981.2 809.0L981.7 808.8L982.2 809.1L982.7 809.3L983.2 809.3L983.7 809.2L984.2 809.2L984.7 809.6L985.2 809.3L985.7 809.9L986.2 809.0L986.7 809.4L987.2 809.3L987.7 809.2L988.2 809.8L988.7 809.7L989.2 809.5L989.7 809.8L990.2 810.1L990.7 809.5L991.2 810.1L991.7 809.9L992.2 809.6L992.7 810.0L993.2 810.2L993.7 810.0L994.2 810.0L994.7 810.4L995.2 810.3L995.7 809.5L996.2 809.4L996.7 809.3L997.2 809.1L997.7 808.8L998.2 809.4L998.7 809.3L999.2 809.5L999.7 810.0L1000.2 809.6L1000.7 809.8L1001.2 809.9L1001.7 809.8L1002.2 809.9L1002.7 810.1L1003.2 809.9L1003.7 810.2L1004.2 809.6L1004.7 809.8L1005.2 809.3L1005.7 809.6L1006.2 809.4L1006.7 810.0L1007.2 809.8L1007.7 809.8L1008.2 810.2L1008.7 810.1L1009.2 810.0L1009.7 809.7L1010.2 809.6L1010.7 810.0L1011.2 809.9L1011.7 809.9L1012.2 810.1L1012.7 809.8L1013.2 810.7L1013.7 810.2L1014.2 810.4L1014.7 810.7L1015.2 810.0L1015.7 810.5L1016.2 810.3L1016.7 809.9L1017.2 809.7L1017.7 809.9L1018.2 809.7L1018.7 810.6L1019.2 810.4L1019.7 810.2L1020.2 810.2L1020.7 810.6L1021.2 810.8L1021.7 810.1L1022.2 810.3L1022.7 809.9L1023.2 810.5L1023.7 810.4L1024.2 810.9L1024.7 810.3L1025.2 810.3L1025.7 810.2L1026.2 810.6L1026.7 809.9L1027.2 810.4L1027.7 810.2L1028.2 810.0L1028.7 809.9L1029.2 810.5L1029.7 810.8L1030.2 810.2L1030.7 810.5L1031.2 810.7L1031.7 810.0L1032.2 810.0L1032.7 809.6L1033.2 809.9L1033.7 809.9L1034.2 809.9L1034.7 809.9L1035.2 809.8L1035.7 809.9L1036.2 810.1L1036.7 810.5L1037.2 810.2L1037.7 810.1L1038.2 810.5L1038.7 810.4L1039.2 810.2L1039.7 810.3L1040.2 810.8L1040.7 810.8L1041.2 810.5L1041.7 810.8L1042.2 810.7L1042.7 811.1L1043.2 810.6L1043.7 811.0L1044.2 810.9L1044.7 810.5L1045.2 810.9L1045.7 810.7L1046.2 810.0L1046.7 810.8L1047.2 810.0L1047.7 810.1L1048.2 810.3L1048.7 810.7L1049.2 810.7L1049.7 810.6L1050.2 811.0L1050.7 810.8L1051.2 811.1L1051.7 811.5L1052.2 810.8L1052.7 809.9L1053.2 810.4L1053.7 810.2L1054.2 810.5L1054.7 810.6L1055.2 810.3L1055.7 810.4L1056.2 810.8L1056.7 810.8L1057.2 810.2L1057.7 811.2L1058.2 810.9L1058.7 810.7L1059.2 810.6L1059.7 810.0L1060.2 810.1L1060.7 810.2L1061.2 810.2L1061.7 810.1L1062.2 810.0L1062.7 810.1L1063.2 810.8L1063.7 810.7L1064.2 810.5L1064.7 810.0L1065.2 810.3L1065.7 810.0L1066.2 810.8L1066.7 810.6L1067.2 810.3L1067.7 810.5L1068.2 811.4L1068.7 811.1L1069.2 810.4L1069.7 810.8L1070.2 810.4L1070.7 810.3L1071.2 810.8L1071.7 811.4L1072.2 811.3L1072.7 811.0L1073.2 810.9L1073.7 811.1L1074.2 811.3L1074.7 810.6L1075.2 810.5L1075.7 811.4L1076.2 810.9L1076.7 811.2L1077.2 810.8L1077.7 811.1L1078.2 810.6L1078.7 810.9L1079.2 811.2L1079.7 811.1L1080.2 810.6L1080.7 810.9L1081.2 810.4L1081.7 810.1L1082.2 810.6L1082.7 810.8L1083.2 810.6L1083.7 810.0L1084.2 810.5L1084.7 810.4L1085.2 810.1L1085.7 809.6L1086.2 810.6L1086.7 810.6L1087.2 810.6L1087.7 810.0L1088.2 810.1L1088.7 810.7L1089.2 810.7L1089.7 810.6L1090.2 810.4L1090.7 810.6L1091.2 810.4L1091.7 810.4L1092.2 810.3L1092.7 810.6L1093.2 810.4L1093.7 810.8L1094.2 810.8L1094.7 810.5L1095.2 811.3L1095.7 810.6L1096.2 811.0L1096.7 811.2L1097.2 811.2L1097.7 810.2L1098.2 811.0L1098.7 811.1L1099.2 811.1L1099.7 810.1L1100.2 810.5L1100.7 810.7L1101.2 810.6L1101.7 811.1L1102.2 810.6L1102.7 811.2L1103.2 811.2L1103.7 810.7L1104.2 810.9L1104.7 811.1L1105.2 811.2L1105.7 811.4L1106.2 811.0L1106.7 811.2L1107.2 810.5L1107.7 810.0L1108.2 810.7L1108.7 810.9L1109.2 810.8L1109.7 810.8L1110.2 811.3L1110.7 811.9L1111.2 811.5L1111.7 811.3L1112.2 811.2L1112.7 811.8L1113.2 811.1L1113.7 811.2L1114.2 811.2L1114.7 811.1L1115.2 810.6L1115.7 811.1L1116.2 811.1L1116.7 811.1L1117.2 811.3L1117.7 810.9L1118.2 811.1L1118.7 810.9L1119.2 811.3L1119.7 810.9L1120.2 811.2L1120.7 810.7L1121.2 811.0L1121.7 810.9L1122.2 810.9L1122.7 810.9L1123.2 810.9L1123.7 810.9L1124.2 810.5L1124.7 811.4L1125.2 811.0L1125.7 811.2L1126.2 811.0L1126.7 811.5L1127.2 811.0L1127.7 811.3L1128.2 811.5L1128.7 811.7L1129.2 811.5L1129.7 811.4L1130.2 810.8L1130.7 811.4L1131.2 811.3L1131.7 811.2L1132.2 811.1L1132.7 811.0L1133.2 810.8L1133.7 811.3L1134.2 811.4L1134.7 810.8L1135.2 811.3L1135.7 811.1L1136.2 811.3L1136.7 811.1L1137.2 811.3L1137.7 811.1L1138.2 810.8L1138.7 810.1L1139.2 810.6L1139.7 810.5L1140.2 810.3L1140.7 810.9L1141.2 810.6L1141.7 811.3L1142.2 811.7L1142.7 811.1L1143.2 811.5L1143.7 811.3L1144.2 811.3L1144.7 810.7L1145.2 811.1L1145.7 810.9L1146.2 811.0L1146.7 810.8L1147.2 811.1L1147.7 811.0L1148.2 811.3L1148.7 811.7L1149.2 811.4L1149.7 811.7L1150.2 811.4L1150.7 811.4L1151.2 811.0L1151.7 811.3L1152.2 811.4L1152.7 811.0L1153.2 811.3L1153.7 811.3L1154.2 810.9L1154.7 811.4L1155.2 811.6L1155.7 811.2L1156.2 810.8L1156.7 811.4L1157.2 811.3L1157.7 812.0L1158.2 811.5L1158.7 811.6L1159.2 811.6L1159.7 811.8L1160.2 811.6L1160.7 811.5L1161.2 811.6L1161.7 811.3L1162.2 811.7L1162.7 810.9L1163.2 811.2L1163.7 811.0L1164.2 810.9L1164.7 811.8L1165.2 810.9L1165.7 811.9L1166.2 811.1L1166.7 811.5L1167.2 812.0L1167.7 810.8L1168.2 810.9L1168.7 811.6L1169.2 811.2L1169.7 811.0L1170.2 811.1L1170.7 810.9L1171.2 811.2L1171.7 811.7L1172.2 811.2L1172.7 811.4L1173.2 811.7L1173.7 811.8L1174.2 811.1L1174.7 811.3L1175.2 811.0L1175.7 811.0L1176.2 811.0L1176.7 811.0L1177.2 810.7L1177.7 810.7L1178.2 811.0L1178.7 811.1L1179.2 811.3L1179.7 810.8L1180.2 810.9L1180.7 811.2L1181.2 811.4L1181.7 811.4L1182.2 811.6L1182.7 812.3L1183.2 811.8L1183.7 811.7L1184.2 811.3L1184.7 811.7L1185.2 811.4L1185.7 811.8L1186.2 811.1L1186.7 811.3L1187.2 811.4L1187.7 811.7L1188.2 811.0L1188.7 811.9L1189.2 811.5L1189.7 811.4L1190.2 811.3L1190.7 811.2L1191.2 811.2L1191.7 810.6L1192.2 811.4L1192.7 811.3L1193.2 811.1L1193.7 811.4L1194.2 812.0L1194.7 811.5L1195.2 811.2L1195.7 811.7L1196.2 811.1L1196.7 811.5L1197.2 811.6L1197.7 811.8L1198.2 812.2L1198.7 812.1L1199.2 811.7L1199.7 811.8L1200.2 811.8L1200.7 811.7L1201.2 811.8L1201.7 811.6L1202.2 811.6L1202.7 811.7L1203.2 811.3L1203.7 811.5L1204.2 811.3L1204.7 811.1L1205.2 811.3L1205.7 811.5L1206.2 811.8L1206.7 811.9L1207.2 811.9L1207.7 811.7L1208.2 812.3L1208.7 812.2L1209.2 812.0L1209.7 812.3L1210.2 812.2L1210.7 812.1L1211.2 812.2L1211.7 812.9L1212.2 812.5L1212.7 812.5L1213.2 812.1L1213.7 812.4L1214.2 812.7L1214.7 812.2L1215.2 812.3L1215.7 812.3L1216.2 812.2L1216.7 812.4L1217.2 812.0L1217.7 811.9L1218.2 811.5L1218.7 812.3L1219.2 811.6L1219.7 811.5L1220.2 811.9L1220.7 811.4L1221.2 811.6L1221.7 811.4L1222.2 811.6L1222.7 811.6L1223.2 812.0L1223.7 811.9L1224.2 811.8L1224.7 812.0L1225.2 812.0L1225.7 811.9L1226.2 812.2L1226.7 812.2L1227.2 812.1L1227.7 811.8L1228.2 812.2L1228.7 811.7L1229.2 812.1L1229.7 812.0L1230.2 811.8L1230.7 811.7L1231.2 811.8L1231.7 812.6L1232.2 812.0L1232.7 812.0L1233.2 812.2L1233.7 812.1L1234.2 812.3L1234.7 811.8L1235.2 811.9L1235.7 813.1L1236.2 812.3L1236.7 812.2L1237.2 812.3L1237.7 812.5L1238.2 811.9L1238.7 812.3L1239.2 812.3L1239.7 812.6L1240.2 812.6L1240.7 812.5L1241.2 812.5L1241.7 812.1L1242.2 812.9L1242.7 812.1L1243.2 812.2L1243.7 812.6L1244.2 811.9L1244.7 812.0L1245.2 811.7L1245.7 811.9L1246.2 811.7L1246.7 811.5L1247.2 812.1L1247.7 811.8L1248.2 811.6L1248.7 812.0L1249.2 812.4L1249.7 812.1L1250.2 812.6L1250.7 812.7L1251.2 813.1L1251.7 812.4L1252.2 812.8L1252.7 812.1L1253.2 812.3L1253.7 812.3L1254.2 812.3L1254.7 812.2L1255.2 812.3L1255.7 812.3L1256.2 812.5L1256.7 812.8L1257.2 813.0L1257.7 813.1L1258.2 813.2L1258.7 813.3L1259.2 812.4L1259.7 812.7L1260.2 812.7L1260.7 812.5L1261.2 812.9L1261.7 812.8L1262.2 812.6L1262.7 812.8L1263.2 813.2L1263.7 812.8L1264.2 812.8L1264.7 813.0L1265.2 812.8L1265.7 812.9L1266.2 812.5L1266.7 812.4L1267.2 812.0L1267.7 812.0L1268.2 812.3L1268.7 811.7L1269.2 812.7L1269.7 812.9L1270.2 812.7L1270.7 812.6L1271.2 812.9L1271.7 812.5L1272.2 812.7L1272.7 813.1L1273.2 812.7L1273.7 812.9L1274.2 812.8L1274.7 812.8L1275.2 812.7L1275.7 812.6L1276.2 812.9L1276.7 812.2L1277.2 812.6L1277.7 812.9L1278.2 812.5L1278.7 812.7L1279.2 812.5L1279.7 812.8L1280.2 812.9L1280.7 813.1L1281.2 812.8L1281.7 812.6L1282.2 812.9L1282.7 813.1L1283.2 813.4L1283.7 812.5L1284.2 813.3L1284.7 812.8L1285.2 813.5L1285.7 813.4L1286.2 813.3L1286.7 813.3L1287.2 813.1L1287.7 812.7L1288.2 813.0L1288.7 813.4L1289.2 813.2L1289.7 813.4L1290.2 813.2L1290.7 813.8L1291.2 813.4L1291.7 813.3L1292.2 813.3L1292.7 813.2L1293.2 813.3L1293.7 813.7L1294.2 813.6L1294.7 813.7L1295.2 813.7L1295.7 813.0L1296.2 813.3L1296.7 813.5L1297.2 813.6L1297.7 812.6L1298.2 812.5L1298.7 812.8L1299.2 812.5L1299.7 812.3L1300.2 812.6L1300.7 812.4L1301.2 812.1L1301.7 812.8L1302.2 812.9L1302.7 813.1L1303.2 813.1L1303.7 812.9L1304.2 812.7L1304.7 812.6L1305.2 812.4L1305.7 812.7L1306.2 813.1L1306.7 813.0L1307.2 813.4L1307.7 812.8L1308.2 812.4L1308.7 813.1L1309.2 813.2L1309.7 812.6L1310.2 812.5L1310.7 813.1L1311.2 813.2L1311.7 812.8L1312.2 813.0L1312.7 812.8L1313.2 812.7L1313.7 812.7L1314.2 813.1L1314.7 813.0L1315.2 812.9L1315.7 812.5L1316.2 813.7L1316.7 813.0L1317.2 813.3L1317.7 813.0L1318.2 813.3L1318.7 812.7L1319.2 812.9L1319.7 812.7L1320.2 812.9L1320.7 812.3L1321.2 812.5L1321.7 812.7L1322.2 813.4L1322.7 812.6L1323.2 813.1L1323.7 812.8L1324.2 813.1L1324.7 813.2L1325.2 813.0L1325.7 813.0L1326.2 812.9L1326.7 812.6L1327.2 812.5L1327.7 812.1L1328.2 812.4L1328.7 812.4L1329.2 812.8L1329.7 813.3L1330.2 813.6L1330.7 813.8L1331.2 814.1L1331.7 813.2L1332.2 813.9L1332.7 813.6L1333.2 813.4L1333.7 813.0L1334.2 813.4L1334.7 813.5L1335.2 813.4L1335.7 813.1L1336.2 813.3L1336.7 813.3L1337.2 813.5L1337.7 813.2L1338.2 812.9L1338.7 812.8L1339.2 812.9L1339.7 813.0L1340.2 812.9L1340.7 813.3L1341.2 813.0L1341.7 813.0L1342.2 813.3L1342.7 813.0L1343.2 812.9L1343.7 812.4L1344.2 813.1L1344.7 812.9L1345.2 812.9L1345.7 813.1L1346.2 813.1L1346.7 812.8L1347.2 813.5L1347.7 812.8L1348.2 813.2L1348.7 813.4L1349.2 812.8L1349.7 813.0L1350.2 812.8L1350.7 813.3L1351.2 812.9L1351.7 812.6L1352.2 813.2L1352.7 813.0L1353.2 812.5L1353.7 813.1L1354.2 813.0L1354.7 813.8L1355.2 813.6L1355.7 813.0L1356.2 813.0L1356.7 812.8L1357.2 813.0L1357.7 812.9L1358.2 813.1L1358.7 813.0L1359.2 812.6L1359.7 812.9L1360.2 813.5L1360.7 813.5L1361.2 813.2L1361.7 813.2L1362.2 813.3L1362.7 813.4L1363.2 813.0L1363.7 813.8L1364.2 813.4L1364.7 813.6L1365.2 813.0L1365.7 813.7L1366.2 813.9L1366.7 813.0L1367.2 813.9L1367.7 813.6L1368.2 813.3L1368.7 813.0L1369.2 813.7L1369.7 813.5L1370.2 813.7L1370.7 813.4L1371.2 813.3L1371.7 813.7L1372.2 813.3L1372.7 813.8L1373.2 813.2L1373.7 813.4L1374.2 813.3L1374.7 814.0L1375.2 813.2L1375.7 813.2L1376.2 813.6L1376.7 813.4L1377.2 813.8L1377.7 813.7L1378.2 813.3L1378.7 813.2L1379.2 812.5L1379.7 812.7L1380.2 812.8L1380.7 813.0L1381.2 812.8L1381.7 813.1L1382.2 813.2L1382.7 813.7L1383.2 813.6L1383.7 813.4L1384.2 813.3L1384.7 813.5L1385.2 813.3L1385.7 813.4L1386.2 813.1L1386.7 813.7L1387.2 813.7L1387.7 813.5L1388.2 813.4L1388.7 813.4L1389.2 813.8L1389.7 813.3L1390.2 812.9L1390.7 812.9L1391.2 813.3L1391.7 813.4L1392.2 813.4L1392.7 813.5L1393.2 813.4L1393.7 813.1L1394.2 813.3L1394.7 813.1L1395.2 813.4L1395.7 813.1L1396.2 813.5L1396.7 813.5L1397.2 813.1L1397.7 813.9L1398.2 813.9L1398.7 813.2L1399.2 813.6L1399.7 813.7L1400.2 813.4L1400.7 813.8L1401.2 813.7L1401.7 814.0L1402.2 813.8L1402.7 813.7L1403.2 813.8L1403.7 813.8L1404.2 813.5L1404.7 813.3L1405.2 813.2L1405.7 813.2L1406.2 813.1L1406.7 813.3L1407.2 813.3L1407.7 813.3L1408.2 813.4L1408.7 813.6L1409.2 814.0L1409.7 813.9L1410.2 813.4L1410.7 813.7L1411.2 813.4L1411.7 813.4L1412.2 813.3L1412.7 813.2L1413.2 813.1L1413.7 812.8L1414.2 813.6L1414.7 814.0L1415.2 813.5L1415.7 814.0L1416.2 813.8L1416.7 814.0L1417.2 813.7L1417.7 813.7L1418.2 813.7L1418.7 813.0L1419.2 813.6L1419.7 813.5L1420.2 812.9L1420.7 813.8L1421.2 813.6L1421.7 813.6L1422.2 813.5L1422.7 813.1L1423.2 812.8L1423.7 812.9L1424.2 812.8L1424.7 813.5L1425.2 813.5L1425.7 813.1L1426.2 813.3L1426.7 813.6L1427.2 813.8L1427.7 813.6L1428.2 813.6L1428.7 814.3L1429.2 814.1L1429.7 813.3L1430.2 813.1L1430.7 813.3L1431.2 813.6L1431.7 813.7L1432.2 813.6L1432.7 813.5L1433.2 814.2L1433.7 814.5L1434.2 814.5L1434.7 814.5L1435.2 814.9L1435.7 814.8L1436.2 814.5L1436.7 814.8L1437.2 814.3L1437.7 814.7L1438.2 814.4L1438.7 813.8L1439.2 814.1L1439.7 814.3L1440.2 813.3L1440.7 813.8L1441.2 814.2L1441.7 813.4L1442.2 813.7L1442.7 813.3L1443.2 813.6L1443.7 812.9L1444.2 813.1L1444.7 813.4L1445.2 813.7L1445.7 813.8L1446.2 813.8L1446.7 814.1L1447.2 814.1L1447.7 814.2L1448.2 813.8L1448.7 814.1L1449.2 815.0L1449.7 814.7L1450.2 814.3L1450.7 814.2L1451.2 814.1L1451.7 813.6L1452.2 814.1L1452.7 813.5L1453.2 813.6L1453.7 814.3L1454.2 813.3L1454.7 814.0L1455.2 813.6L1455.7 813.8L1456.2 813.9L1456.7 813.6L1457.2 813.7L1457.7 813.3L1458.2 813.5L1458.7 813.2L1459.2 813.5L1459.7 813.3L1460.2 813.9L1460.7 813.4L1461.2 814.0L1461.7 813.8L1462.2 813.9L1462.7 814.3L1463.2 814.0L1463.7 813.4L1464.2 814.0L1464.7 813.1L1465.2 814.0L1465.7 813.8L1466.2 813.6L1466.7 814.0L1467.2 813.8L1467.7 814.4L1468.2 813.7L1468.7 814.2L1469.2 814.0L1469.7 813.4L1470.2 813.3L1470.7 813.9L1471.2 813.5L1471.7 813.7L1472.2 813.6L1472.7 813.4L1473.2 813.6L1473.7 813.4L1474.2 813.2L1474.7 813.5L1475.2 814.0L1475.7 813.9L1476.2 813.5L1476.7 813.6L1477.2 813.8L1477.7 814.2L1478.2 814.0L1478.7 813.9L1479.2 814.0L1479.7 814.4L1480.2 814.8L1480.7 813.8L1481.2 813.4L1481.7 814.1L1482.2 813.9L1482.7 813.9L1483.2 814.3L1483.7 814.0L1484.2 813.7L1484.7 813.6L1485.2 814.2L1485.7 813.9L1486.2 814.3L1486.7 813.7L1487.2 813.8L1487.7 813.3L1488.2 813.5L1488.7 813.4L1489.2 813.8L1489.7 814.2L1490.2 814.1L1490.7 814.1L1491.2 814.9L1491.7 814.5L1492.2 814.5L1492.7 814.4L1493.2 814.5L1493.7 814.4L1494.2 814.3L1494.7 814.3L1495.2 813.9L1495.7 814.0L1496.2 814.2L1496.7 814.2L1497.2 814.2L1497.7 814.2L1498.2 814.1L1498.7 813.9L1499.2 813.6L1499.7 814.3L1500.2 814.3L1500.7 814.2L1501.2 814.7L1501.7 814.8L1502.2 814.8L1502.7 814.1L1503.2 814.0L1503.7 813.8L1504.2 814.2L1504.7 813.4L1505.2 813.4L1505.7 813.3L1506.2 813.6L1506.7 813.9L1507.2 813.3L1507.7 813.2L1508.2 814.1L1508.7 813.9L1509.2 813.7L1509.7 814.1L1510.2 814.1L1510.7 813.3L1511.2 813.8L1511.7 814.2L1512.2 813.8L1512.7 813.9L1513.2 814.2L1513.7 814.0L1514.2 813.8L1514.7 814.0L1515.2 813.9L1515.7 814.5L1516.2 813.9L1516.7 814.5L1517.2 813.7L1517.7 814.0L1518.2 813.5L1518.7 813.8L1519.2 814.2L1519.7 814.3L1520.2 814.4L1520.7 814.0L1521.2 814.0L1521.7 813.9L1522.2 813.9L1522.7 813.6L1523.2 814.0L1523.7 813.9L1524.2 814.1L1524.7 814.0L1525.2 814.1L1525.7 813.7L1526.2 813.8L1526.7 813.6L1527.2 813.9L1527.7 814.1L1528.2 814.6L1528.7 814.1L1529.2 815.4L1529.7 814.5L1530.2 814.9L1530.7 814.8L1531.2 813.8L1531.7 814.3L1532.2 814.8L1532.7 813.7L1533.2 814.6L1533.7 814.2L1534.2 814.4L1534.7 814.6L1535.2 814.1L1535.7 814.8L1536.2 814.6L1536.7 814.6L1537.2 814.9L1537.7 815.6L1538.2 814.7L1538.7 814.8L1539.2 814.6L1539.7 814.5L1540.2 814.7L1540.7 815.1L1541.2 814.7L1541.7 814.8L1542.2 814.4L1542.7 815.1L1543.2 813.9L1543.7 814.5L1544.2 814.5L1544.7 814.5L1545.2 814.2L1545.7 814.1L1546.2 814.4L1546.7 814.4L1547.2 814.1L1547.7 814.1L1548.2 814.6L1548.7 814.8L1549.2 814.5L1549.7 814.6L1550.2 814.6L1550.7 815.4L1551.2 814.7L1551.7 814.4L1552.2 814.5L1552.7 814.7L1553.2 814.2L1553.7 813.4L1554.2 813.8L1554.7 813.7L1555.2 813.8L1555.7 813.6L1556.2 813.9L1556.7 813.7L1557.2 814.1L1557.7 813.9L1558.2 813.5L1558.7 813.3L1559.2 813.6L1559.7 813.9L1560.2 813.8L1560.7 813.6L1561.2 812.7L1561.7 813.6L1562.2 813.7L1562.7 814.0L1563.2 813.9L1563.7 814.3L1564.2 814.3L1564.7 815.3L1565.2 814.7L1565.7 814.5L1566.2 814.5L1566.7 814.6L1567.2 814.7L1567.7 814.6L1568.2 814.7L1568.7 814.9L1569.2 814.7L1569.7 814.5L1570.2 814.6L1570.7 814.2L1571.2 813.9L1571.7 813.7L1572.2 814.0L1572.7 814.2L1573.2 814.4L1573.7 814.5L1574.2 814.1L1574.7 814.1L1575.2 814.5L1575.7 814.6L1576.2 814.2L1576.7 814.4L1577.2 814.8L1577.7 814.5L1578.2 814.5L1578.7 813.9L1579.2 814.8L1579.7 814.6L1580.2 814.4L1580.7 814.3L1581.2 814.1L1581.7 814.5L1582.2 814.6L1582.7 815.0L1583.2 814.5L1583.7 815.3L1584.2 814.9L1584.7 815.2L1585.2 814.5L1585.7 814.8L1586.2 815.0L1586.7 814.7L1587.2 814.3L1587.7 814.6L1588.2 814.9L1588.7 814.4L1589.2 814.4L1589.7 814.9L1590.2 814.5L1590.7 814.9L1591.2 814.4L1591.7 814.2L1592.2 814.4L1592.7 814.9L1593.2 814.2L1593.7 814.3L1594.2 814.3L1594.7 814.0L1595.2 814.6L1595.7 814.5L1596.2 814.7L1596.7 814.3L1597.2 814.3L1597.7 814.1L1598.2 814.7L1598.7 814.5L1599.2 814.6L1599.7 814.6L1600.2 814.0L1600.7 814.0L1601.2 814.3L1601.7 814.7L1602.2 814.2L1602.7 814.8L1603.2 814.7L1603.7 814.8L1604.2 815.1L1604.7 814.7L1605.2 814.5L1605.7 814.8L1606.2 814.4L1606.7 814.2L1607.2 814.2L1607.7 814.4L1608.2 814.2L1608.7 814.7L1609.2 814.7L1609.7 815.1L1610.2 815.1L1610.7 815.1L1611.2 814.8L1611.7 814.8L1612.2 814.5L1612.7 815.4L1613.2 814.5L1613.7 814.6L1614.2 814.6L1614.7 813.7L1615.2 813.8L1615.7 813.9L1616.2 813.8L1616.7 813.9L1617.2 814.3L1617.7 815.1L1618.2 815.1L1618.7 815.0L1619.2 814.9L1619.7 814.4L1620.2 814.8L1620.7 814.7L1621.2 814.2L1621.7 814.6L1622.2 814.6L1622.7 814.5L1623.2 814.5L1623.7 814.5L1624.2 814.5L1624.7 814.9L1625.2 814.9L1625.7 814.9L1626.2 814.8L1626.7 814.7L1627.2 815.3L1627.7 814.1L1628.2 814.8L1628.7 814.4L1629.2 814.2L1629.7 814.0L1630.2 814.1L1630.7 813.8L1631.2 813.8L1631.7 814.2L1632.2 813.8L1632.7 814.6L1633.2 814.7L1633.7 813.6L1634.2 814.2L1634.7 814.7L1635.2 814.8L1635.7 814.8L1636.2 815.0L1636.7 815.1L1637.2 815.1" stroke="#ff3434" stroke-width="5.6"/>
<path d="M145.7 457.8L146.2 457.4L146.7 456.7L147.2 457.4L147.7 457.7L148.2 457.2L148.7 456.9L149.2 457.6L149.7 458.2L150.2 458.4L150.7 458.8L151.2 458.7L151.7 458.7L152.2 457.7L152.7 459.3L153.2 458.4L153.7 458.6L154.2 458.1L154.7 458.3L155.2 458.5L155.7 459.2L156.2 459.4L156.7 459.1L157.2 459.7L157.7 458.6L158.2 458.8L158.7 458.2L159.2 458.6L159.7 457.9L160.2 458.1L160.7 458.3L161.2 456.7L161.7 458.3L162.2 457.5L162.7 457.3L163.2 456.7L163.7 457.5L164.2 456.9L164.7 458.0L165.2 458.0L165.7 458.8L166.2 457.9L166.7 458.2L167.2 458.0L167.7 458.1L168.2 457.1L168.7 457.5L169.2 456.6L169.7 456.8L170.2 457.1L170.7 457.0L171.2 456.3L171.7 456.3L172.2 456.6L172.7 456.1L173.2 456.3L173.7 456.3L174.2 457.4L174.7 457.6L175.2 457.0L175.7 456.7L176.2 457.2L176.7 456.6L177.2 456.0L177.7 455.6L178.2 455.8L178.7 456.7L179.2 455.4L179.7 456.5L180.2 455.1L180.7 454.8L181.2 455.3L181.7 454.7L182.2 455.1L182.7 454.8L183.2 454.9L183.7 455.2L184.2 455.6L184.7 455.2L185.2 454.5L185.7 455.2L186.2 454.6L186.7 454.3L187.2 454.0L187.7 453.3L188.2 454.8L188.7 453.9L189.2 454.1L189.7 454.3L190.2 454.0L190.7 453.4L191.2 453.1L191.7 453.0L192.2 453.1L192.7 452.9L193.2 452.5L193.7 452.8L194.2 452.8L194.7 453.0L195.2 452.9L195.7 453.4L196.2 452.9L196.7 453.2L197.2 452.8L197.7 452.5L198.2 452.4L198.7 452.6L199.2 452.8L199.7 453.0L200.2 452.4L200.7 452.1L201.2 452.0L201.7 452.5L202.2 451.8L202.7 451.3L203.2 451.5L203.7 450.5L204.2 450.8L204.7 450.6L205.2 450.4L205.7 449.9L206.2 450.7L206.7 450.9L207.2 449.7L207.7 450.2L208.2 450.1L208.7 450.3L209.2 448.8L209.7 448.0L210.2 447.8L210.7 448.0L211.2 446.8L211.7 446.5L212.2 446.7L212.7 444.8L213.2 444.4L213.7 445.2L214.2 444.8L214.7 443.6L215.2 443.9L215.7 443.3L216.2 443.0L216.7 442.2L217.2 442.0L217.7 441.4L218.2 441.4L218.7 440.9L219.2 441.1L219.7 440.1L220.2 438.6L220.7 438.8L221.2 438.5L221.7 437.3L222.2 436.9L222.7 435.6L223.2 435.0L223.7 433.4L224.2 433.0L224.7 431.2L225.2 431.2L225.7 429.1L226.2 427.8L226.7 427.9L227.2 426.8L227.7 426.3L228.2 425.8L228.7 425.1L229.2 424.2L229.7 424.2L230.2 423.9L230.7 423.6L231.2 423.8L231.7 422.5L232.2 422.5L232.7 422.5L233.2 421.7L233.7 420.9L234.2 420.5L234.7 420.5L235.2 419.4L235.7 419.3L236.2 418.4L236.7 418.6L237.2 418.0L237.7 417.8L238.2 418.2L238.7 418.4L239.2 419.2L239.7 418.3L240.2 419.6L240.7 420.6L241.2 421.0L241.7 421.0L242.2 421.5L242.7 422.2L243.2 423.1L243.7 423.5L244.2 424.1L244.7 424.8L245.2 424.8L245.7 425.5L246.2 426.2L246.7 427.0L247.2 428.3L247.7 429.3L248.2 430.9L248.7 430.8L249.2 431.3L249.7 432.4L250.2 432.1L250.7 432.9L251.2 433.7L251.7 434.1L252.2 434.5L252.7 434.7L253.2 434.9L253.7 435.8L254.2 436.0L254.7 436.8L255.2 436.7L255.7 437.3L256.2 436.8L256.7 438.3L257.2 438.0L257.7 438.1L258.2 438.5L258.7 439.0L259.2 439.7L259.7 439.6L260.2 439.1L260.7 439.8L261.2 440.0L261.7 439.8L262.2 440.3L262.7 440.1L263.2 440.5L263.7 439.7L264.2 440.4L264.7 440.2L265.2 440.3L265.7 440.4L266.2 441.2L266.7 440.6L267.2 440.7L267.7 440.7L268.2 440.6L268.7 440.4L269.2 439.7L269.7 439.3L270.2 439.1L270.7 438.8L271.2 438.6L271.7 438.1L272.2 438.0L272.7 437.1L273.2 437.3L273.7 436.6L274.2 435.5L274.7 435.4L275.2 433.3L275.7 434.3L276.2 433.3L276.7 432.8L277.2 431.5L277.7 432.8L278.2 431.5L278.7 431.2L279.2 431.3L279.7 430.4L280.2 429.7L280.7 429.9L281.2 428.7L281.7 429.0L282.2 428.5L282.7 428.7L283.2 427.7L283.7 428.6L284.2 428.3L284.7 429.0L285.2 428.0L285.7 428.9L286.2 428.3L286.7 428.1L287.2 427.4L287.7 427.9L288.2 428.0L288.7 427.7L289.2 427.8L289.7 428.1L290.2 429.2L290.7 428.9L291.2 429.2L291.7 429.0L292.2 429.0L292.7 429.3L293.2 429.4L293.7 430.5L294.2 430.6L294.7 431.3L295.2 431.3L295.7 432.7L296.2 433.1L296.7 433.8L297.2 435.0L297.7 434.7L298.2 435.5L298.7 436.1L299.2 436.6L299.7 436.2L300.2 436.7L300.7 436.9L301.2 436.6L301.7 436.6L302.2 437.0L302.7 438.3L303.2 438.5L303.7 438.3L304.2 438.8L304.7 439.2L305.2 439.3L305.7 439.6L306.2 440.5L306.7 439.5L307.2 439.9L307.7 439.6L308.2 439.8L308.7 439.8L309.2 440.1L309.7 440.2L310.2 440.8L310.7 441.0L311.2 440.8L311.7 442.1L312.2 440.9L312.7 441.4L313.2 442.0L313.7 440.6L314.2 441.0L314.7 440.8L315.2 440.1L315.7 439.1L316.2 440.2L316.7 439.5L317.2 439.2L317.7 439.8L318.2 438.8L318.7 439.4L319.2 438.6L319.7 438.9L320.2 438.2L320.7 438.4L321.2 438.2L321.7 438.2L322.2 438.5L322.7 438.3L323.2 438.3L323.7 438.6L324.2 437.9L324.7 437.2L325.2 437.7L325.7 437.7L326.2 438.1L326.7 438.1L327.2 438.0L327.7 437.5L328.2 437.7L328.7 436.9L329.2 437.9L329.7 437.5L330.2 437.4L330.7 437.0L331.2 437.1L331.7 436.8L332.2 437.2L332.7 436.4L333.2 437.1L333.7 436.7L334.2 437.1L334.7 436.3L335.2 436.2L335.7 436.5L336.2 436.6L336.7 436.7L337.2 436.3L337.7 436.2L338.2 436.3L338.7 436.1L339.2 435.6L339.7 435.5L340.2 435.8L340.7 436.2L341.2 435.8L341.7 436.1L342.2 436.1L342.7 435.8L343.2 435.1L343.7 434.9L344.2 434.1L344.7 434.4L345.2 434.6L345.7 433.8L346.2 434.6L346.7 434.5L347.2 433.7L347.7 434.2L348.2 433.3L348.7 433.3L349.2 433.5L349.7 433.6L350.2 433.5L350.7 433.3L351.2 434.4L351.7 433.9L352.2 434.0L352.7 434.1L353.2 433.8L353.7 433.4L354.2 433.0L354.7 432.5L355.2 433.6L355.7 432.6L356.2 432.4L356.7 432.7L357.2 432.4L357.7 433.6L358.2 432.8L358.7 432.9L359.2 432.6L359.7 432.0L360.2 431.7L360.7 430.9L361.2 430.7L361.7 430.0L362.2 429.9L362.7 429.3L363.2 429.9L363.7 429.7L364.2 429.5L364.7 429.0L365.2 430.0L365.7 430.3L366.2 430.1L366.7 429.9L367.2 430.9L367.7 431.5L368.2 430.7L368.7 431.9L369.2 431.1L369.7 431.8L370.2 432.3L370.7 431.3L371.2 430.8L371.7 429.7L372.2 428.8L372.7 428.7L373.2 427.3L373.7 425.8L374.2 425.0L374.7 424.5L375.2 424.7L375.7 423.4L376.2 423.5L376.7 422.8L377.2 422.4L377.7 423.3L378.2 422.6L378.7 422.3L379.2 422.2L379.7 422.2L380.2 422.2L380.7 421.8L381.2 422.9L381.7 422.5L382.2 422.5L382.7 421.7L383.2 421.6L383.7 421.1L384.2 421.0L384.7 420.3L385.2 419.5L385.7 418.4L386.2 417.3L386.7 416.7L387.2 415.8L387.7 414.9L388.2 413.5L388.7 413.4L389.2 411.6L389.7 409.4L390.2 408.3L390.7 406.7L391.2 405.8L391.7 404.7L392.2 402.4L392.7 401.5L393.2 399.6L393.7 398.5L394.2 396.9L394.7 394.9L395.2 393.4L395.7 391.4L396.2 389.5L396.7 387.4L397.2 385.9L397.7 383.7L398.2 381.3L398.7 379.2L399.2 377.0L399.7 374.5L400.2 372.6L400.7 371.1L401.2 368.4L401.7 366.8L402.2 363.6L402.7 361.3L403.2 359.7L403.7 357.9L404.2 355.5L404.7 354.3L405.2 353.0L405.7 351.6L406.2 349.8L406.7 348.6L407.2 347.0L407.7 346.8L408.2 346.3L408.7 346.4L409.2 345.0L409.7 344.9L410.2 344.7L410.7 345.3L411.2 344.1L411.7 344.9L412.2 346.5L412.7 346.5L413.2 346.4L413.7 347.6L414.2 348.7L414.7 349.4L415.2 349.9L415.7 350.5L416.2 352.0L416.7 352.7L417.2 354.4L417.7 356.0L418.2 357.7L418.7 360.8L419.2 362.4L419.7 365.3L420.2 367.3L420.7 369.8L421.2 372.0L421.7 374.2L422.2 377.0L422.7 380.0L423.2 382.7L423.7 385.1L424.2 386.9L424.7 390.0L425.2 391.9L425.7 394.6L426.2 395.6L426.7 398.8L427.2 400.1L427.7 402.8L428.2 404.2L428.7 406.7L429.2 408.1L429.7 409.3L430.2 411.2L430.7 413.0L431.2 414.5L431.7 415.1L432.2 416.9L432.7 418.5L433.2 420.0L433.7 421.5L434.2 422.4L434.7 423.2L435.2 424.9L435.7 425.6L436.2 426.9L436.7 427.2L437.2 428.5L437.7 428.6L438.2 429.8L438.7 430.3L439.2 431.0L439.7 430.9L440.2 431.7L440.7 432.0L441.2 433.0L441.7 434.1L442.2 435.9L442.7 435.7L443.2 436.6L443.7 436.8L444.2 437.5L444.7 437.3L445.2 437.7L445.7 437.6L446.2 438.6L446.7 438.6L447.2 437.7L447.7 438.8L448.2 438.9L448.7 438.3L449.2 439.0L449.7 439.3L450.2 439.4L450.7 439.8L451.2 439.2L451.7 440.2L452.2 440.2L452.7 440.2L453.2 440.0L453.7 440.4L454.2 440.4L454.7 441.2L455.2 441.2L455.7 441.9L456.2 441.0L456.7 441.7L457.2 441.0L457.7 441.3L458.2 441.1L458.7 442.0L459.2 442.0L459.7 442.6L460.2 443.2L460.7 442.9L461.2 443.2L461.7 443.3L462.2 442.9L462.7 442.7L463.2 443.1L463.7 443.3L464.2 443.6L464.7 443.9L465.2 443.6L465.7 444.2L466.2 444.7L466.7 444.1L467.2 444.4L467.7 444.1L468.2 444.6L468.7 445.3L469.2 444.9L469.7 444.6L470.2 445.2L470.7 445.1L471.2 445.4L471.7 444.3L472.2 444.2L472.7 444.2L473.2 443.4L473.7 444.2L474.2 442.8L474.7 443.1L475.2 442.8L475.7 443.0L476.2 443.4L476.7 443.2L477.2 443.1L477.7 442.9L478.2 441.8L478.7 442.7L479.2 441.9L479.7 442.6L480.2 442.9L480.7 443.0L481.2 443.7L481.7 443.5L482.2 444.7L482.7 444.5L483.2 445.0L483.7 445.0L484.2 445.1L484.7 444.9L485.2 445.7L485.7 444.6L486.2 445.1L486.7 445.0L487.2 445.1L487.7 445.5L488.2 445.3L488.7 446.1L489.2 446.2L489.7 446.0L490.2 446.4L490.7 445.8L491.2 445.7L491.7 446.4L492.2 446.8L492.7 448.1L493.2 447.4L493.7 448.1L494.2 448.3L494.7 448.9L495.2 448.3L495.7 448.7L496.2 448.5L496.7 448.4L497.2 448.5L497.7 448.7L498.2 449.7L498.7 449.4L499.2 449.4L499.7 449.5L500.2 449.4L500.7 449.6L501.2 449.6L501.7 449.9L502.2 450.0L502.7 449.1L503.2 450.0L503.7 450.6L504.2 449.8L504.7 450.1L505.2 450.1L505.7 450.3L506.2 449.8L506.7 449.1L507.2 449.1L507.7 449.0L508.2 448.5L508.7 448.9L509.2 448.2L509.7 447.5L510.2 447.5L510.7 447.6L511.2 447.5L511.7 447.8L512.2 447.7L512.7 448.2L513.2 447.8L513.7 448.1L514.2 447.2L514.7 447.4L515.2 447.9L515.7 447.9L516.2 448.4L516.7 448.6L517.2 448.7L517.7 449.9L518.2 450.1L518.7 449.4L519.2 450.1L519.7 450.7L520.2 451.2L520.7 451.1L521.2 450.5L521.7 451.2L522.2 450.6L522.7 450.9L523.2 450.4L523.7 450.6L524.2 450.6L524.7 450.6L525.2 450.0L525.7 450.4L526.2 449.9L526.7 449.1L527.2 449.2L527.7 449.1L528.2 449.3L528.7 449.5L529.2 448.9L529.7 449.8L530.2 449.6L530.7 449.2L531.2 450.0L531.7 449.4L532.2 449.3L532.7 450.2L533.2 450.5L533.7 450.0L534.2 450.7L534.7 450.7L535.2 450.0L535.7 450.9L536.2 450.1L536.7 450.3L537.2 449.4L537.7 450.7L538.2 450.5L538.7 451.0L539.2 450.4L539.7 451.6L540.2 451.8L540.7 452.0L541.2 450.1L541.7 451.4L542.2 451.4L542.7 450.2L543.2 451.3L543.7 451.8L544.2 452.5L544.7 451.9L545.2 452.3L545.7 452.3L546.2 452.6L546.7 452.4L547.2 453.1L547.7 453.3L548.2 452.5L548.7 453.6L549.2 452.9L549.7 453.1L550.2 453.6L550.7 453.2L551.2 453.4L551.7 453.5L552.2 453.5L552.7 453.0L553.2 452.9L553.7 453.6L554.2 453.7L554.7 453.7L555.2 453.6L555.7 454.1L556.2 453.9L556.7 453.4L557.2 454.0L557.7 454.0L558.2 454.2L558.7 453.6L559.2 453.7L559.7 454.2L560.2 454.1L560.7 454.4L561.2 454.9L561.7 454.9L562.2 455.6L562.7 455.2L563.2 455.8L563.7 455.6L564.2 456.1L564.7 455.0L565.2 454.9L565.7 455.2L566.2 454.4L566.7 454.4L567.2 454.6L567.7 454.7L568.2 454.2L568.7 455.0L569.2 455.0L569.7 455.3L570.2 455.6L570.7 455.7L571.2 456.3L571.7 456.2L572.2 455.9L572.7 456.0L573.2 456.4L573.7 456.2L574.2 456.2L574.7 455.6L575.2 455.7L575.7 456.4L576.2 455.7L576.7 456.4L577.2 456.2L577.7 455.8L578.2 455.6L578.7 456.4L579.2 456.0L579.7 456.0L580.2 455.6L580.7 456.6L581.2 456.2L581.7 456.2L582.2 456.4L582.7 456.3L583.2 456.2L583.7 456.2L584.2 455.7L584.7 454.6L585.2 455.7L585.7 455.4L586.2 455.3L586.7 455.9L587.2 454.8L587.7 454.2L588.2 455.8L588.7 455.4L589.2 454.6L589.7 455.0L590.2 455.4L590.7 454.7L591.2 455.4L591.7 456.1L592.2 455.9L592.7 455.6L593.2 456.1L593.7 455.9L594.2 456.7L594.7 456.8L595.2 456.8L595.7 456.8L596.2 458.1L596.7 457.5L597.2 457.2L597.7 457.5L598.2 458.3L598.7 458.5L599.2 457.6L599.7 457.8L600.2 458.0L600.7 457.3L601.2 457.0L601.7 457.1L602.2 457.6L602.7 457.5L603.2 457.4L603.7 458.0L604.2 458.4L604.7 458.3L605.2 457.8L605.7 458.4L606.2 457.3L606.7 457.6L607.2 457.2L607.7 458.2L608.2 457.9L608.7 457.4L609.2 457.7L609.7 458.7L610.2 458.2L610.7 458.0L611.2 458.3L611.7 457.5L612.2 457.8L612.7 457.7L613.2 457.8L613.7 457.9L614.2 458.1L614.7 458.1L615.2 457.9L615.7 458.4L616.2 457.2L616.7 457.3L617.2 457.6L617.7 457.1L618.2 457.5L618.7 457.9L619.2 457.6L619.7 458.3L620.2 458.6L620.7 457.6L621.2 457.1L621.7 457.8L622.2 457.2L622.7 457.5L623.2 457.2L623.7 457.4L624.2 457.7L624.7 457.5L625.2 457.1L625.7 456.8L626.2 456.4L626.7 456.5L627.2 457.0L627.7 457.4L628.2 457.0L628.7 457.0L629.2 456.5L629.7 456.4L630.2 456.2L630.7 456.9L631.2 455.8L631.7 456.5L632.2 455.8L632.7 456.2L633.2 456.0L633.7 456.2L634.2 456.3L634.7 455.5L635.2 455.4L635.7 455.5L636.2 455.3L636.7 455.7L637.2 455.5L637.7 455.6L638.2 455.8L638.7 455.6L639.2 456.2L639.7 455.1L640.2 455.9L640.7 455.9L641.2 455.3L641.7 455.1L642.2 455.6L642.7 455.1L643.2 454.5L643.7 454.8L644.2 455.8L644.7 455.1L645.2 456.0L645.7 456.1L646.2 455.5L646.7 455.8L647.2 455.2L647.7 455.3L648.2 455.1L648.7 455.5L649.2 454.8L649.7 455.1L650.2 455.2L650.7 455.5L651.2 454.6L651.7 454.8L652.2 455.2L652.7 455.4L653.2 455.3L653.7 455.2L654.2 455.8L654.7 455.3L655.2 455.4L655.7 455.1L656.2 455.8L656.7 455.9L657.2 455.8L657.7 455.5L658.2 455.7L658.7 456.0L659.2 455.1L659.7 454.7L660.2 455.9L660.7 456.0L661.2 455.7L661.7 455.5L662.2 456.6L662.7 455.2L663.2 454.8L663.7 455.1L664.2 455.4L664.7 455.1L665.2 455.3L665.7 455.6L666.2 455.4L666.7 455.6L667.2 455.6L667.7 455.3L668.2 455.8L668.7 455.4L669.2 456.3L669.7 455.6L670.2 455.9L670.7 455.3L671.2 455.9L671.7 455.7L672.2 456.7L672.7 456.1L673.2 456.4L673.7 455.6L674.2 455.8L674.7 456.2L675.2 455.8L675.7 456.8L676.2 456.3L676.7 456.4L677.2 456.4L677.7 456.2L678.2 456.5L678.7 456.0L679.2 456.5L679.7 456.8L680.2 456.5L680.7 456.4L681.2 456.1L681.7 456.2L682.2 456.4L682.7 456.2L683.2 455.9L683.7 456.9L684.2 457.1L684.7 457.6L685.2 457.5L685.7 458.1L686.2 457.0L686.7 457.0L687.2 457.5L687.7 456.9L688.2 457.5L688.7 457.4L689.2 456.6L689.7 457.6L690.2 457.9L690.7 457.4L691.2 456.9L691.7 457.8L692.2 457.3L692.7 457.8L693.2 458.2L693.7 457.8L694.2 457.6L694.7 458.3L695.2 458.4L695.7 458.2L696.2 458.4L696.7 459.0L697.2 458.7L697.7 458.5L698.2 458.4L698.7 458.7L699.2 458.7L699.7 458.8L700.2 458.5L700.7 459.1L701.2 459.1L701.7 459.5L702.2 460.0L702.7 459.9L703.2 459.8L703.7 459.6L704.2 459.5L704.7 459.7L705.2 459.4L705.7 459.5L706.2 459.5L706.7 460.0L707.2 460.1L707.7 461.0L708.2 460.6L708.7 460.3L709.2 460.8L709.7 460.3L710.2 460.8L710.7 460.7L711.2 461.5L711.7 460.1L712.2 460.5L712.7 460.5L713.2 460.8L713.7 461.0L714.2 460.6L714.7 460.9L715.2 461.4L715.7 461.8L716.2 461.2L716.7 461.1L717.2 462.1L717.7 462.1L718.2 462.2L718.7 461.5L719.2 461.8L719.7 462.0L720.2 462.0L720.7 461.7L721.2 461.6L721.7 461.8L722.2 461.2L722.7 461.2L723.2 461.4L723.7 461.5L724.2 461.9L724.7 461.9L725.2 461.9L725.7 462.6L726.2 462.3L726.7 462.2L727.2 462.9L727.7 462.3L728.2 462.5L728.7 462.4L729.2 462.1L729.7 462.1L730.2 462.3L730.7 461.8L731.2 462.3L731.7 462.7L732.2 462.8L732.7 462.8L733.2 463.5L733.7 462.9L734.2 462.5L734.7 462.6L735.2 462.8L735.7 463.1L736.2 463.0L736.7 463.8L737.2 462.9L737.7 463.6L738.2 463.5L738.7 462.8L739.2 463.3L739.7 463.3L740.2 462.8L740.7 463.9L741.2 463.4L741.7 463.1L742.2 463.1L742.7 463.0L743.2 463.4L743.7 463.4L744.2 462.8L744.7 462.9L745.2 462.9L745.7 462.9L746.2 462.9L746.7 462.7L747.2 463.3L747.7 463.5L748.2 463.4L748.7 462.8L749.2 463.6L749.7 463.9L750.2 463.7L750.7 463.8L751.2 463.8L751.7 463.3L752.2 462.9L752.7 464.1L753.2 463.7L753.7 464.0L754.2 463.7L754.7 463.8L755.2 464.5L755.7 463.8L756.2 464.5L756.7 464.3L757.2 464.7L757.7 464.8L758.2 464.7L758.7 464.3L759.2 463.6L759.7 464.0L760.2 464.1L760.7 464.0L761.2 464.4L761.7 463.9L762.2 463.4L762.7 463.8L763.2 464.2L763.7 464.6L764.2 463.8L764.7 464.4L765.2 464.1L765.7 463.4L766.2 463.9L766.7 463.4L767.2 463.8L767.7 463.7L768.2 463.8L768.7 463.2L769.2 463.5L769.7 462.4L770.2 462.9L770.7 462.8L771.2 463.7L771.7 463.6L772.2 463.4L772.7 463.4L773.2 463.8L773.7 463.6L774.2 464.6L774.7 462.8L775.2 463.9L775.7 463.1L776.2 464.5L776.7 464.1L777.2 465.0L777.7 464.3L778.2 464.8L778.7 464.3L779.2 464.5L779.7 464.0L780.2 462.8L780.7 463.5L781.2 463.0L781.7 463.8L782.2 463.6L782.7 463.3L783.2 463.5L783.7 463.4L784.2 463.3L784.7 464.4L785.2 463.9L785.7 464.0L786.2 463.6L786.7 464.0L787.2 464.2L787.7 464.1L788.2 464.0L788.7 464.1L789.2 463.7L789.7 464.2L790.2 463.7L790.7 463.9L791.2 463.9L791.7 464.3L792.2 463.9L792.7 463.6L793.2 463.1L793.7 463.3L794.2 463.8L794.7 464.0L795.2 463.0L795.7 463.4L796.2 463.7L796.7 463.8L797.2 463.7L797.7 464.0L798.2 463.4L798.7 464.6L799.2 463.7L799.7 464.2L800.2 464.3L800.7 464.5L801.2 464.3L801.7 464.2L802.2 464.4L802.7 463.9L803.2 464.3L803.7 464.7L804.2 463.9L804.7 463.6L805.2 463.8L805.7 464.6L806.2 464.5L806.7 464.0L807.2 464.2L807.7 464.4L808.2 464.6L808.7 463.5L809.2 464.0L809.7 464.1L810.2 464.4L810.7 464.3L811.2 464.3L811.7 464.6L812.2 463.7L812.7 465.8L813.2 465.0L813.7 465.0L814.2 464.6L814.7 465.1L815.2 465.8L815.7 465.9L816.2 465.3L816.7 464.9L817.2 465.3L817.7 465.1L818.2 465.4L818.7 464.7L819.2 465.1L819.7 465.3L820.2 464.9L820.7 465.3L821.2 464.3L821.7 464.0L822.2 464.1L822.7 464.4L823.2 464.0L823.7 464.0L824.2 464.6L824.7 464.5L825.2 464.4L825.7 464.7L826.2 464.6L826.7 464.9L827.2 464.7L827.7 464.3L828.2 464.5L828.7 464.7L829.2 465.2L829.7 465.4L830.2 465.2L830.7 465.6L831.2 465.8L831.7 466.1L832.2 465.8L832.7 466.4L833.2 465.8L833.7 466.1L834.2 465.8L834.7 465.6L835.2 466.0L835.7 466.0L836.2 465.8L836.7 465.6L837.2 465.3L837.7 465.1L838.2 465.3L838.7 465.7L839.2 466.0L839.7 464.5L840.2 465.9L840.7 466.0L841.2 466.0L841.7 465.6L842.2 465.7L842.7 465.4L843.2 465.6L843.7 465.9L844.2 465.3L844.7 465.4L845.2 465.6L845.7 464.9L846.2 465.3L846.7 464.8L847.2 465.6L847.7 465.7L848.2 465.8L848.7 465.9L849.2 466.1L849.7 465.4L850.2 465.9L850.7 465.8L851.2 466.0L851.7 465.3L852.2 465.4L852.7 466.1L853.2 466.5L853.7 465.9L854.2 466.6L854.7 466.8L855.2 466.6L855.7 466.1L856.2 466.1L856.7 466.7L857.2 467.3L857.7 466.5L858.2 467.1L858.7 467.1L859.2 465.8L859.7 465.9L860.2 466.6L860.7 466.4L861.2 466.4L861.7 466.3L862.2 466.6L862.7 466.1L863.2 467.2L863.7 465.8L864.2 465.5L864.7 466.1L865.2 466.6L865.7 466.0L866.2 466.1L866.7 465.8L867.2 466.1L867.7 465.7L868.2 465.8L868.7 465.7L869.2 466.2L869.7 467.2L870.2 466.6L870.7 466.7L871.2 467.4L871.7 466.4L872.2 466.4L872.7 467.0L873.2 466.5L873.7 467.2L874.2 467.6L874.7 466.8L875.2 467.0L875.7 467.8L876.2 466.6L876.7 466.6L877.2 466.7L877.7 466.4L878.2 466.1L878.7 467.0L879.2 466.3L879.7 466.8L880.2 466.7L880.7 466.9L881.2 466.5L881.7 467.2L882.2 466.5L882.7 466.9L883.2 465.8L883.7 466.0L884.2 466.4L884.7 466.3L885.2 466.2L885.7 466.4L886.2 466.0L886.7 466.5L887.2 465.4L887.7 466.4L888.2 466.8L888.7 466.7L889.2 466.7L889.7 466.3L890.2 466.7L890.7 466.5L891.2 466.7L891.7 466.8L892.2 465.6L892.7 467.1L893.2 466.9L893.7 466.9L894.2 466.1L894.7 466.6L895.2 466.5L895.7 465.4L896.2 465.6L896.7 466.2L897.2 466.0L897.7 466.2L898.2 466.1L898.7 467.0L899.2 465.8L899.7 466.1L900.2 466.4L900.7 466.3L901.2 466.6L901.7 466.8L902.2 466.4L902.7 467.0L903.2 467.4L903.7 467.3L904.2 467.6L904.7 467.2L905.2 466.6L905.7 467.1L906.2 466.6L906.7 466.9L907.2 466.2L907.7 465.7L908.2 466.2L908.7 466.9L909.2 467.2L909.7 467.0L910.2 467.5L910.7 466.7L911.2 466.9L911.7 467.6L912.2 467.3L912.7 467.3L913.2 467.8L913.7 467.6L914.2 466.8L914.7 467.1L915.2 466.3L915.7 467.0L916.2 467.2L916.7 466.5L917.2 467.8L917.7 468.0L918.2 467.4L918.7 467.5L919.2 467.7L919.7 467.0L920.2 467.3L920.7 467.0L921.2 466.2L921.7 466.4L922.2 466.6L922.7 467.3L923.2 467.1L923.7 467.6L924.2 467.3L924.7 467.1L925.2 468.5L925.7 468.8L926.2 468.0L926.7 467.8L927.2 468.3L927.7 467.4L928.2 467.7L928.7 467.1L929.2 467.7L929.7 467.5L930.2 467.1L930.7 467.0L931.2 466.6L931.7 466.9L932.2 467.7L932.7 467.1L933.2 467.8L933.7 467.1L934.2 467.6L934.7 467.5L935.2 467.6L935.7 468.0L936.2 466.9L936.7 467.9L937.2 468.0L937.7 467.8L938.2 467.9L938.7 467.9L939.2 468.2L939.7 467.8L940.2 467.4L940.7 467.6L941.2 467.8L941.7 467.7L942.2 467.6L942.7 467.9L943.2 467.9L943.7 468.1L944.2 467.8L944.7 468.6L945.2 469.1L945.7 468.6L946.2 468.4L946.7 469.0L947.2 468.6L947.7 468.4L948.2 468.4L948.7 468.3L949.2 468.0L949.7 467.7L950.2 468.7L950.7 468.2L951.2 468.1L951.7 468.6L952.2 469.1L952.7 468.3L953.2 469.3L953.7 468.8L954.2 469.5L954.7 469.0L955.2 468.6L955.7 469.1L956.2 469.1L956.7 468.6L957.2 468.8L957.7 468.6L958.2 469.1L958.7 468.3L959.2 468.7L959.7 468.0L960.2 469.0L960.7 468.0L961.2 468.4L961.7 468.9L962.2 468.7L962.7 468.8L963.2 468.8L963.7 469.2L964.2 468.9L964.7 469.8L965.2 470.1L965.7 470.1L966.2 469.8L966.7 470.3L967.2 469.9L967.7 470.0L968.2 469.7L968.7 469.4L969.2 469.0L969.7 468.3L970.2 469.4L970.7 469.2L971.2 470.0L971.7 468.7L972.2 469.8L972.7 469.3L973.2 469.8L973.7 469.7L974.2 470.2L974.7 470.0L975.2 470.2L975.7 469.8L976.2 469.7L976.7 469.8L977.2 469.5L977.7 469.2L978.2 469.8L978.7 469.4L979.2 469.7L979.7 469.4L980.2 469.3L980.7 468.3L981.2 469.6L981.7 468.8L982.2 469.5L982.7 469.8L983.2 468.7L983.7 469.6L984.2 469.4L984.7 469.8L985.2 469.3L985.7 469.9L986.2 470.1L986.7 470.7L987.2 470.9L987.7 470.2L988.2 469.9L988.7 470.7L989.2 469.8L989.7 469.7L990.2 469.8L990.7 470.0L991.2 470.2L991.7 469.8L992.2 470.1L992.7 470.9L993.2 471.0L993.7 470.7L994.2 470.7L994.7 470.5L995.2 470.8L995.7 470.1L996.2 470.2L996.7 469.9L997.2 469.8L997.7 470.1L998.2 470.2L998.7 470.2L999.2 470.5L999.7 470.6L1000.2 470.4L1000.7 470.3L1001.2 470.5L1001.7 470.8L1002.2 470.9L1002.7 470.6L1003.2 470.4L1003.7 470.4L1004.2 471.1L1004.7 470.7L1005.2 470.0L1005.7 470.4L1006.2 470.3L1006.7 470.4L1007.2 470.0L1007.7 470.7L1008.2 470.3L1008.7 470.7L1009.2 471.4L1009.7 471.2L1010.2 470.5L1010.7 470.4L1011.2 470.5L1011.7 470.2L1012.2 470.7L1012.7 471.1L1013.2 470.9L1013.7 471.5L1014.2 471.1L1014.7 470.6L1015.2 471.2L1015.7 470.6L1016.2 470.3L1016.7 471.0L1017.2 470.9L1017.7 470.4L1018.2 470.8L1018.7 470.6L1019.2 470.2L1019.7 471.3L1020.2 471.1L1020.7 470.2L1021.2 471.1L1021.7 470.5L1022.2 471.6L1022.7 471.3L1023.2 471.2L1023.7 471.6L1024.2 470.9L1024.7 470.6L1025.2 470.9L1025.7 470.4L1026.2 470.8L1026.7 470.5L1027.2 471.0L1027.7 471.1L1028.2 471.4L1028.7 470.9L1029.2 472.1L1029.7 471.3L1030.2 472.0L1030.7 471.0L1031.2 471.1L1031.7 471.0L1032.2 471.5L1032.7 470.9L1033.2 471.2L1033.7 470.5L1034.2 470.8L1034.7 471.0L1035.2 470.9L1035.7 470.2L1036.2 471.1L1036.7 470.6L1037.2 471.7L1037.7 470.9L1038.2 471.7L1038.7 471.1L1039.2 471.0L1039.7 470.7L1040.2 470.8L1040.7 471.0L1041.2 470.0L1041.7 471.1L1042.2 470.2L1042.7 470.5L1043.2 469.6L1043.7 470.8L1044.2 471.0L1044.7 471.0L1045.2 471.2L1045.7 471.1L1046.2 471.4L1046.7 471.9L1047.2 471.3L1047.7 471.5L1048.2 471.5L1048.7 471.2L1049.2 471.4L1049.7 471.5L1050.2 471.4L1050.7 472.6L1051.2 471.7L1051.7 472.5L1052.2 472.2L1052.7 470.9L1053.2 471.5L1053.7 471.5L1054.2 471.2L1054.7 470.4L1055.2 470.7L1055.7 470.0L1056.2 470.0L1056.7 470.3L1057.2 470.4L1057.7 471.0L1058.2 470.6L1058.7 471.0L1059.2 470.3L1059.7 470.5L1060.2 470.8L1060.7 471.6L1061.2 470.5L1061.7 470.4L1062.2 471.0L1062.7 471.6L1063.2 470.6L1063.7 471.2L1064.2 470.9L1064.7 472.0L1065.2 471.7L1065.7 471.7L1066.2 471.6L1066.7 471.7L1067.2 471.8L1067.7 471.5L1068.2 471.3L1068.7 471.1L1069.2 471.3L1069.7 470.9L1070.2 471.4L1070.7 470.2L1071.2 471.1L1071.7 471.1L1072.2 471.4L1072.7 470.8L1073.2 470.4L1073.7 470.7L1074.2 471.5L1074.7 470.9L1075.2 470.9L1075.7 470.7L1076.2 470.8L1076.7 470.7L1077.2 470.2L1077.7 470.7L1078.2 471.5L1078.7 471.9L1079.2 471.6L1079.7 471.5L1080.2 472.2L1080.7 471.6L1081.2 471.2L1081.7 471.5L1082.2 471.8L1082.7 472.2L1083.2 471.5L1083.7 471.8L1084.2 471.5L1084.7 471.9L1085.2 471.5L1085.7 471.5L1086.2 471.0L1086.7 471.2L1087.2 471.1L1087.7 469.9L1088.2 471.5L1088.7 471.2L1089.2 471.1L1089.7 471.0L1090.2 471.1L1090.7 471.1L1091.2 470.6L1091.7 471.1L1092.2 471.2L1092.7 471.3L1093.2 470.8L1093.7 471.3L1094.2 470.7L1094.7 471.2L1095.2 471.5L1095.7 471.4L1096.2 471.0L1096.7 471.1L1097.2 471.2L1097.7 471.7L1098.2 471.3L1098.7 471.2L1099.2 470.3L1099.7 470.8L1100.2 470.8L1100.7 470.9L1101.2 471.6L1101.7 470.8L1102.2 470.8L1102.7 471.6L1103.2 471.0L1103.7 471.3L1104.2 471.4L1104.7 471.4L1105.2 471.1L1105.7 471.8L1106.2 472.1L1106.7 471.3L1107.2 471.6L1107.7 472.1L1108.2 471.6L1108.7 471.1L1109.2 471.2L1109.7 471.5L1110.2 470.9L1110.7 471.5L1111.2 471.8L1111.7 471.6L1112.2 472.2L1112.7 472.3L1113.2 472.4L1113.7 472.3L1114.2 471.3L1114.7 472.1L1115.2 471.8L1115.7 471.8L1116.2 471.0L1116.7 471.6L1117.2 471.5L1117.7 471.1L1118.2 472.3L1118.7 471.7L1119.2 471.8L1119.7 472.4L1120.2 471.9L1120.7 472.2L1121.2 471.9L1121.7 472.1L1122.2 472.3L1122.7 472.1L1123.2 472.6L1123.7 472.8L1124.2 472.3L1124.7 473.0L1125.2 473.0L1125.7 472.8L1126.2 473.1L1126.7 473.1L1127.2 472.6L1127.7 471.6L1128.2 472.2L1128.7 471.9L1129.2 471.7L1129.7 471.9L1130.2 471.5L1130.7 472.2L1131.2 471.7L1131.7 471.5L1132.2 471.9L1132.7 472.0L1133.2 472.3L1133.7 472.3L1134.2 472.3L1134.7 472.5L1135.2 471.8L1135.7 472.2L1136.2 473.1L1136.7 472.6L1137.2 473.3L1137.7 473.2L1138.2 471.9L1138.7 472.3L1139.2 473.0L1139.7 471.6L1140.2 472.0L1140.7 471.9L1141.2 472.0L1141.7 472.1L1142.2 472.3L1142.7 472.7L1143.2 472.2L1143.7 472.7L1144.2 472.3L1144.7 472.8L1145.2 472.8L1145.7 472.3L1146.2 472.6L1146.7 472.2L1147.2 472.1L1147.7 472.8L1148.2 471.8L1148.7 472.7L1149.2 472.8L1149.7 472.4L1150.2 473.0L1150.7 472.8L1151.2 471.9L1151.7 472.4L1152.2 472.4L1152.7 471.9L1153.2 472.4L1153.7 472.5L1154.2 472.0L1154.7 471.6L1155.2 472.6L1155.7 472.4L1156.2 472.2L1156.7 472.8L1157.2 472.1L1157.7 472.8L1158.2 473.4L1158.7 471.7L1159.2 472.7L1159.7 472.1L1160.2 472.2L1160.7 472.0L1161.2 472.6L1161.7 472.4L1162.2 472.2L1162.7 472.2L1163.2 472.7L1163.7 473.4L1164.2 472.7L1164.7 473.3L1165.2 473.2L1165.7 472.3L1166.2 473.2L1166.7 472.7L1167.2 473.5L1167.7 473.4L1168.2 472.8L1168.7 472.9L1169.2 472.7L1169.7 472.6L1170.2 473.3L1170.7 472.8L1171.2 472.5L1171.7 472.4L1172.2 472.6L1172.7 472.6L1173.2 472.2L1173.7 472.2L1174.2 472.4L1174.7 473.3L1175.2 472.0L1175.7 472.4L1176.2 473.0L1176.7 472.8L1177.2 473.2L1177.7 473.1L1178.2 473.3L1178.7 472.2L1179.2 472.7L1179.7 472.4L1180.2 472.8L1180.7 472.4L1181.2 472.7L1181.7 472.2L1182.2 472.7L1182.7 472.7L1183.2 472.9L1183.7 473.0L1184.2 472.9L1184.7 473.6L1185.2 473.0L1185.7 473.0L1186.2 471.9L1186.7 471.3L1187.2 471.7L1187.7 471.8L1188.2 472.2L1188.7 472.4L1189.2 472.6L1189.7 473.0L1190.2 472.9L1190.7 473.0L1191.2 472.9L1191.7 473.6L1192.2 473.1L1192.7 472.9L1193.2 473.2L1193.7 472.9L1194.2 473.0L1194.7 472.5L1195.2 473.4L1195.7 473.3L1196.2 473.4L1196.7 473.4L1197.2 473.3L1197.7 473.1L1198.2 473.9L1198.7 472.6L1199.2 473.2L1199.7 472.6L1200.2 472.3L1200.7 472.1L1201.2 472.0L1201.7 472.3L1202.2 472.2L1202.7 472.0L1203.2 471.7L1203.7 471.8L1204.2 473.4L1204.7 472.5L1205.2 472.4L1205.7 473.5L1206.2 472.6L1206.7 473.4L1207.2 473.5L1207.7 473.3L1208.2 473.6L1208.7 472.7L1209.2 472.8L1209.7 473.2L1210.2 473.2L1210.7 473.0L1211.2 473.1L1211.7 472.6L1212.2 472.2L1212.7 473.2L1213.2 473.1L1213.7 473.5L1214.2 473.9L1214.7 473.0L1215.2 473.0L1215.7 472.2L1216.2 472.6L1216.7 472.3L1217.2 472.3L1217.7 472.7L1218.2 472.1L1218.7 472.8L1219.2 472.8L1219.7 473.2L1220.2 472.0L1220.7 472.6L1221.2 473.4L1221.7 472.3L1222.2 472.2L1222.7 473.0L1223.2 473.3L1223.7 472.4L1224.2 472.2L1224.7 472.4L1225.2 472.6L1225.7 472.6L1226.2 472.7L1226.7 473.0L1227.2 473.0L1227.7 473.1L1228.2 472.8L1228.7 472.3L1229.2 473.0L1229.7 472.8L1230.2 472.6L1230.7 472.9L1231.2 473.2L1231.7 473.2L1232.2 473.2L1232.7 473.6L1233.2 473.7L1233.7 473.1L1234.2 473.2L1234.7 472.7L1235.2 473.0L1235.7 473.3L1236.2 473.5L1236.7 473.4L1237.2 473.5L1237.7 473.3L1238.2 473.6L1238.7 473.1L1239.2 473.5L1239.7 473.4L1240.2 473.0L1240.7 473.5L1241.2 473.4L1241.7 473.8L1242.2 473.4L1242.7 473.7L1243.2 474.0L1243.7 473.4L1244.2 473.6L1244.7 473.0L1245.2 473.1L1245.7 472.5L1246.2 473.1L1246.7 472.8L1247.2 473.2L1247.7 472.3L1248.2 472.7L1248.7 473.0L1249.2 473.1L1249.7 472.4L1250.2 472.9L1250.7 474.1L1251.2 473.5L1251.7 473.3L1252.2 472.3L1252.7 473.1L1253.2 473.6L1253.7 473.5L1254.2 473.6L1254.7 473.9L1255.2 473.6L1255.7 473.9L1256.2 472.9L1256.7 474.4L1257.2 473.3L1257.7 473.0L1258.2 473.7L1258.7 473.4L1259.2 473.6L1259.7 473.1L1260.2 473.6L1260.7 473.8L1261.2 473.2L1261.7 473.5L1262.2 473.5L1262.7 473.5L1263.2 473.4L1263.7 473.3L1264.2 474.1L1264.7 474.2L1265.2 474.5L1265.7 474.0L1266.2 473.6L1266.7 473.0L1267.2 473.3L1267.7 472.9L1268.2 473.5L1268.7 473.5L1269.2 473.3L1269.7 472.4L1270.2 472.3L1270.7 472.8L1271.2 472.7L1271.7 473.7L1272.2 473.4L1272.7 473.3L1273.2 473.6L1273.7 474.3L1274.2 473.6L1274.7 474.2L1275.2 473.6L1275.7 473.9L1276.2 473.6L1276.7 473.8L1277.2 473.6L1277.7 473.8L1278.2 473.6L1278.7 473.2L1279.2 473.0L1279.7 473.3L1280.2 473.6L1280.7 473.6L1281.2 473.4L1281.7 474.0L1282.2 473.8L1282.7 473.3L1283.2 473.3L1283.7 473.5L1284.2 473.7L1284.7 473.7L1285.2 473.2L1285.7 473.6L1286.2 473.0L1286.7 473.7L1287.2 473.9L1287.7 473.1L1288.2 473.5L1288.7 473.2L1289.2 473.1L1289.7 474.0L1290.2 473.6L1290.7 473.4L1291.2 473.0L1291.7 473.3L1292.2 473.0L1292.7 473.1L1293.2 472.6L1293.7 473.0L1294.2 473.0L1294.7 472.8L1295.2 474.1L1295.7 474.0L1296.2 473.5L1296.7 473.4L1297.2 473.7L1297.7 473.7L1298.2 473.8L1298.7 473.4L1299.2 473.7L1299.7 474.1L1300.2 474.3L1300.7 473.5L1301.2 474.3L1301.7 473.9L1302.2 473.8L1302.7 474.0L1303.2 473.8L1303.7 474.3L1304.2 474.4L1304.7 474.1L1305.2 474.0L1305.7 474.8L1306.2 474.7L1306.7 474.1L1307.2 473.9L1307.7 474.5L1308.2 474.8L1308.7 474.1L1309.2 474.9L1309.7 474.1L1310.2 474.4L1310.7 473.7L1311.2 473.9L1311.7 473.7L1312.2 474.0L1312.7 474.4L1313.2 473.7L1313.7 474.0L1314.2 474.3L1314.7 474.0L1315.2 475.0L1315.7 473.7L1316.2 475.3L1316.7 474.2L1317.2 474.8L1317.7 475.1L1318.2 474.8L1318.7 474.0L1319.2 474.4L1319.7 474.4L1320.2 474.4L1320.7 474.4L1321.2 474.2L1321.7 474.2L1322.2 473.3L1322.7 474.0L1323.2 472.9L1323.7 473.6L1324.2 473.1L1324.7 472.8L1325.2 473.8L1325.7 473.4L1326.2 473.9L1326.7 473.1L1327.2 473.5L1327.7 474.2L1328.2 474.2L1328.7 474.6L1329.2 474.3L1329.7 474.4L1330.2 474.0L1330.7 474.9L1331.2 474.3L1331.7 474.0L1332.2 474.8L1332.7 474.7L1333.2 474.6L1333.7 474.5L1334.2 474.2L1334.7 474.4L1335.2 473.7L1335.7 474.0L1336.2 474.2L1336.7 474.7L1337.2 475.0L1337.7 474.4L1338.2 474.3L1338.7 474.8L1339.2 474.3L1339.7 474.7L1340.2 474.6L1340.7 473.9L1341.2 474.5L1341.7 474.3L1342.2 473.6L1342.7 473.5L1343.2 473.3L1343.7 474.3L1344.2 474.6L1344.7 474.1L1345.2 474.5L1345.7 473.6L1346.2 474.8L1346.7 475.1L1347.2 475.1L1347.7 474.2L1348.2 475.0L1348.7 474.5L1349.2 474.9L1349.7 474.2L1350.2 474.4L1350.7 474.1L1351.2 474.4L1351.7 474.2L1352.2 474.7L1352.7 474.7L1353.2 474.8L1353.7 474.8L1354.2 474.8L1354.7 475.1L1355.2 475.4L1355.7 475.2L1356.2 475.2L1356.7 475.1L1357.2 475.0L1357.7 474.8L1358.2 474.4L1358.7 475.3L1359.2 475.3L1359.7 474.7L1360.2 475.6L1360.7 474.3L1361.2 475.0L1361.7 474.5L1362.2 474.5L1362.7 474.8L1363.2 474.8L1363.7 474.6L1364.2 474.3L1364.7 474.3L1365.2 474.9L1365.7 475.4L1366.2 475.0L1366.7 474.6L1367.2 474.7L1367.7 474.9L1368.2 475.5L1368.7 474.7L1369.2 475.5L1369.7 475.5L1370.2 475.2L1370.7 475.1L1371.2 476.0L1371.7 475.6L1372.2 475.3L1372.7 475.4L1373.2 475.6L1373.7 475.3L1374.2 475.9L1374.7 475.2L1375.2 475.1L1375.7 475.3L1376.2 474.9L1376.7 475.1L1377.2 475.5L1377.7 475.6L1378.2 475.0L1378.7 474.8L1379.2 474.3L1379.7 474.1L1380.2 474.4L1380.7 474.2L1381.2 473.7L1381.7 473.8L1382.2 474.6L1382.7 474.5L1383.2 474.3L1383.7 474.5L1384.2 474.9L1384.7 474.6L1385.2 474.5L1385.7 473.7L1386.2 473.7L1386.7 473.6L1387.2 473.5L1387.7 474.4L1388.2 474.5L1388.7 474.1L1389.2 474.5L1389.7 474.5L1390.2 474.2L1390.7 473.6L1391.2 474.6L1391.7 474.6L1392.2 474.0L1392.7 475.1L1393.2 474.5L1393.7 474.3L1394.2 474.4L1394.7 473.8L1395.2 474.3L1395.7 473.7L1396.2 474.6L1396.7 474.3L1397.2 473.6L1397.7 474.4L1398.2 473.7L1398.7 474.4L1399.2 474.6L1399.7 474.4L1400.2 473.9L1400.7 474.3L1401.2 474.3L1401.7 474.5L1402.2 475.1L1402.7 475.3L1403.2 475.3L1403.7 474.5L1404.2 474.4L1404.7 474.6L1405.2 474.7L1405.7 473.7L1406.2 474.2L1406.7 475.1L1407.2 473.9L1407.7 473.9L1408.2 473.8L1408.7 474.1L1409.2 473.9L1409.7 473.8L1410.2 473.5L1410.7 474.5L1411.2 474.5L1411.7 474.4L1412.2 474.8L1412.7 475.1L1413.2 474.3L1413.7 474.2L1414.2 474.4L1414.7 474.3L1415.2 473.3L1415.7 474.0L1416.2 474.5L1416.7 473.7L1417.2 474.1L1417.7 472.6L1418.2 473.8L1418.7 474.5L1419.2 474.8L1419.7 474.1L1420.2 474.1L1420.7 474.6L1421.2 474.1L1421.7 474.5L1422.2 474.0L1422.7 474.7L1423.2 474.7L1423.7 475.3L1424.2 474.8L1424.7 474.5L1425.2 474.7L1425.7 474.3L1426.2 474.8L1426.7 474.7L1427.2 474.9L1427.7 475.0L1428.2 473.8L1428.7 474.7L1429.2 474.8L1429.7 474.1L1430.2 475.2L1430.7 474.2L1431.2 475.4L1431.7 474.8L1432.2 475.0L1432.7 474.9L1433.2 475.3L1433.7 474.6L1434.2 474.7L1434.7 474.1L1435.2 474.8L1435.7 474.1L1436.2 474.4L1436.7 474.2L1437.2 473.5L1437.7 474.4L1438.2 474.4L1438.7 474.5L1439.2 474.7L1439.7 474.6L1440.2 474.7L1440.7 475.1L1441.2 474.3L1441.7 474.3L1442.2 474.5L1442.7 475.2L1443.2 474.7L1443.7 475.5L1444.2 473.5L1444.7 474.3L1445.2 474.4L1445.7 474.5L1446.2 474.9L1446.7 474.3L1447.2 474.0L1447.7 474.8L1448.2 475.2L1448.7 473.6L1449.2 474.7L1449.7 474.5L1450.2 474.0L1450.7 474.0L1451.2 474.2L1451.7 474.1L1452.2 474.0L1452.7 473.7L1453.2 474.2L1453.7 473.8L1454.2 474.0L1454.7 473.8L1455.2 474.2L1455.7 474.5L1456.2 474.4L1456.7 474.6L1457.2 473.9L1457.7 474.6L1458.2 474.5L1458.7 474.2L1459.2 474.4L1459.7 473.5L1460.2 474.6L1460.7 474.4L1461.2 473.6L1461.7 474.6L1462.2 474.2L1462.7 474.7L1463.2 474.6L1463.7 475.0L1464.2 474.9L1464.7 474.9L1465.2 475.2L1465.7 475.2L1466.2 474.0L1466.7 474.9L1467.2 474.7L1467.7 474.5L1468.2 475.5L1468.7 475.4L1469.2 474.6L1469.7 474.6L1470.2 475.2L1470.7 474.6L1471.2 474.5L1471.7 473.6L1472.2 474.1L1472.7 474.4L1473.2 473.7L1473.7 473.9L1474.2 474.6L1474.7 474.4L1475.2 474.6L1475.7 474.3L1476.2 474.5L1476.7 473.4L1477.2 473.8L1477.7 473.5L1478.2 475.1L1478.7 474.5L1479.2 474.5L1479.7 474.4L1480.2 474.4L1480.7 473.7L1481.2 475.5L1481.7 474.4L1482.2 474.3L1482.7 473.6L1483.2 474.1L1483.7 474.4L1484.2 474.4L1484.7 474.9L1485.2 474.4L1485.7 474.9L1486.2 475.1L1486.7 474.9L1487.2 474.7L1487.7 474.3L1488.2 473.8L1488.7 474.3L1489.2 473.9L1489.7 473.6L1490.2 474.1L1490.7 473.1L1491.2 473.5L1491.7 474.1L1492.2 474.3L1492.7 474.0L1493.2 474.4L1493.7 474.6L1494.2 474.4L1494.7 474.0L1495.2 474.3L1495.7 474.1L1496.2 474.1L1496.7 474.6L1497.2 474.3L1497.7 474.1L1498.2 474.3L1498.7 474.9L1499.2 473.9L1499.7 474.1L1500.2 474.0L1500.7 474.5L1501.2 474.0L1501.7 474.7L1502.2 474.8L1502.7 474.3L1503.2 474.3L1503.7 474.1L1504.2 474.7L1504.7 474.4L1505.2 474.7L1505.7 474.8L1506.2 474.6L1506.7 475.1L1507.2 475.2L1507.7 473.7L1508.2 474.2L1508.7 474.6L1509.2 474.2L1509.7 474.4L1510.2 474.7L1510.7 475.2L1511.2 475.1L1511.7 474.4L1512.2 474.6L1512.7 474.3L1513.2 474.3L1513.7 473.9L1514.2 473.6L1514.7 474.1L1515.2 474.5L1515.7 474.5L1516.2 473.6L1516.7 474.4L1517.2 474.4L1517.7 474.8L1518.2 474.2L1518.7 474.9L1519.2 474.3L1519.7 474.5L1520.2 474.5L1520.7 473.5L1521.2 474.2L1521.7 475.0L1522.2 474.6L1522.7 475.0L1523.2 474.9L1523.7 474.5L1524.2 474.7L1524.7 475.0L1525.2 475.0L1525.7 474.9L1526.2 473.8L1526.7 474.4L1527.2 473.6L1527.7 474.1L1528.2 474.1L1528.7 474.6L1529.2 474.7L1529.7 475.3L1530.2 474.7L1530.7 475.3L1531.2 475.0L1531.7 474.8L1532.2 474.3L1532.7 475.0L1533.2 475.0L1533.7 475.2L1534.2 474.9L1534.7 474.8L1535.2 474.9L1535.7 474.8L1536.2 474.6L1536.7 474.9L1537.2 473.9L1537.7 475.0L1538.2 473.2L1538.7 474.8L1539.2 474.3L1539.7 475.4L1540.2 474.4L1540.7 475.2L1541.2 474.4L1541.7 474.3L1542.2 475.0L1542.7 475.0L1543.2 474.4L1543.7 475.5L1544.2 474.4L1544.7 475.1L1545.2 474.1L1545.7 474.1L1546.2 474.6L1546.7 474.4L1547.2 475.2L1547.7 474.4L1548.2 475.5L1548.7 475.4L1549.2 475.4L1549.7 475.8L1550.2 475.5L1550.7 475.2L1551.2 475.5L1551.7 475.1L1552.2 475.0L1552.7 475.3L1553.2 474.7L1553.7 475.0L1554.2 474.5L1554.7 474.8L1555.2 474.8L1555.7 474.3L1556.2 473.9L1556.7 473.9L1557.2 474.1L1557.7 474.7L1558.2 474.4L1558.7 474.4L1559.2 474.7L1559.7 474.7L1560.2 475.0L1560.7 474.2L1561.2 474.7L1561.7 474.8L1562.2 474.3L1562.7 474.8L1563.2 474.6L1563.7 475.0L1564.2 475.3L1564.7 474.5L1565.2 474.8L1565.7 474.7L1566.2 475.0L1566.7 474.6L1567.2 474.8L1567.7 474.2L1568.2 474.2L1568.7 474.5L1569.2 474.2L1569.7 474.0L1570.2 473.9L1570.7 474.3L1571.2 474.6L1571.7 474.1L1572.2 474.1L1572.7 474.1L1573.2 475.3L1573.7 474.3L1574.2 474.1L1574.7 474.6L1575.2 474.8L1575.7 473.9L1576.2 474.2L1576.7 473.7L1577.2 474.0L1577.7 475.0L1578.2 474.4L1578.7 474.3L1579.2 474.4L1579.7 474.5L1580.2 474.4L1580.7 474.0L1581.2 474.1L1581.7 475.4L1582.2 474.5L1582.7 475.2L1583.2 474.4L1583.7 475.0L1584.2 474.6L1584.7 474.1L1585.2 474.9L1585.7 473.9L1586.2 474.3L1586.7 474.2L1587.2 474.4L1587.7 474.6L1588.2 474.3L1588.7 474.5L1589.2 475.2L1589.7 473.9L1590.2 474.1L1590.7 474.3L1591.2 474.5L1591.7 475.2L1592.2 475.2L1592.7 475.2L1593.2 475.2L1593.7 476.1L1594.2 474.8L1594.7 474.7L1595.2 475.1L1595.7 475.1L1596.2 474.8L1596.7 474.6L1597.2 474.4L1597.7 474.8L1598.2 474.7L1598.7 474.9L1599.2 474.7L1599.7 475.6L1600.2 475.3L1600.7 475.8L1601.2 474.8L1601.7 474.9L1602.2 474.8L1602.7 474.8L1603.2 474.7L1603.7 474.7L1604.2 473.9L1604.7 474.5L1605.2 474.8L1605.7 473.8L1606.2 474.4L1606.7 474.9L1607.2 475.3L1607.7 474.9L1608.2 475.2L1608.7 475.7L1609.2 475.6L1609.7 475.1L1610.2 475.1L1610.7 475.9L1611.2 475.6L1611.7 475.3L1612.2 475.3L1612.7 475.3L1613.2 474.8L1613.7 474.6L1614.2 474.4L1614.7 473.9L1615.2 475.1L1615.7 475.1L1616.2 475.3L1616.7 474.7L1617.2 474.8L1617.7 474.9L1618.2 474.9L1618.7 473.7L1619.2 474.3L1619.7 473.6L1620.2 473.8L1620.7 473.5L1621.2 474.4L1621.7 474.0L1622.2 473.8L1622.7 474.4L1623.2 474.0L1623.7 473.9L1624.2 474.2L1624.7 474.2L1625.2 474.4L1625.7 474.8L1626.2 474.5L1626.7 474.6L1627.2 475.0L1627.7 474.7L1628.2 474.8L1628.7 474.4L1629.2 473.7L1629.7 473.6L1630.2 473.4L1630.7 474.6L1631.2 474.5L1631.7 474.3L1632.2 474.3L1632.7 475.0L1633.2 475.0L1633.7 475.3L1634.2 475.0L1634.7 474.9L1635.2 475.8L1635.7 474.8L1636.2 475.1L1636.7 475.5L1637.2 474.3" stroke="#006ce6" stroke-width="5.1"/>
<path d="M145.7 303.4L146.2 303.5L146.7 302.9L147.2 303.6L147.7 303.5L148.2 303.0L148.7 303.1L149.2 303.7L149.7 303.8L150.2 303.6L150.7 303.2L151.2 303.3L151.7 303.7L152.2 303.7L152.7 303.9L153.2 303.5L153.7 303.2L154.2 303.5L154.7 303.4L155.2 303.0L155.7 303.2L156.2 302.7L156.7 303.1L157.2 302.8L157.7 303.8L158.2 303.5L158.7 303.2L159.2 302.6L159.7 302.7L160.2 303.4L160.7 303.0L161.2 303.1L161.7 302.2L162.2 302.0L162.7 302.3L163.2 302.0L163.7 301.4L164.2 301.5L164.7 302.2L165.2 301.9L165.7 302.4L166.2 303.0L166.7 302.6L167.2 302.6L167.7 302.3L168.2 302.9L168.7 301.7L169.2 301.7L169.7 301.9L170.2 301.2L170.7 302.1L171.2 301.5L171.7 302.0L172.2 301.9L172.7 302.1L173.2 302.4L173.7 301.7L174.2 302.1L174.7 302.3L175.2 303.3L175.7 302.7L176.2 302.5L176.7 301.6L177.2 302.1L177.7 302.0L178.2 301.6L178.7 302.2L179.2 300.7L179.7 300.8L180.2 301.1L180.7 300.8L181.2 301.2L181.7 301.5L182.2 301.4L182.7 301.6L183.2 301.8L183.7 302.0L184.2 301.3L184.7 301.2L185.2 301.7L185.7 301.1L186.2 300.9L186.7 301.3L187.2 301.0L187.7 301.1L188.2 300.9L188.7 301.2L189.2 301.2L189.7 300.6L190.2 300.6L190.7 301.7L191.2 300.8L191.7 300.4L192.2 300.1L192.7 300.5L193.2 299.9L193.7 299.2L194.2 299.3L194.7 299.0L195.2 299.7L195.7 299.3L196.2 299.2L196.7 298.7L197.2 299.1L197.7 299.5L198.2 299.3L198.7 299.6L199.2 299.3L199.7 299.5L200.2 299.4L200.7 298.9L201.2 299.4L201.7 298.8L202.2 298.8L202.7 297.8L203.2 297.6L203.7 297.9L204.2 297.6L204.7 298.2L205.2 298.2L205.7 298.4L206.2 298.1L206.7 297.2L207.2 297.6L207.7 296.6L208.2 296.1L208.7 295.9L209.2 295.5L209.7 295.4L210.2 295.7L210.7 294.5L211.2 294.7L211.7 293.9L212.2 294.0L212.7 293.6L213.2 293.5L213.7 294.0L214.2 293.5L214.7 293.1L215.2 292.3L215.7 292.8L216.2 291.6L216.7 290.9L217.2 290.5L217.7 290.1L218.2 289.3L218.7 288.8L219.2 287.1L219.7 286.8L220.2 287.0L220.7 286.8L221.2 285.2L221.7 285.0L222.2 284.1L222.7 283.9L223.2 283.4L223.7 283.1L224.2 282.0L224.7 282.1L225.2 281.1L225.7 280.3L226.2 280.0L226.7 278.9L227.2 277.7L227.7 277.5L228.2 277.6L228.7 276.1L229.2 275.7L229.7 274.8L230.2 274.2L230.7 273.9L231.2 272.1L231.7 271.8L232.2 271.1L232.7 270.2L233.2 269.9L233.7 269.3L234.2 267.8L234.7 266.9L235.2 266.5L235.7 266.4L236.2 265.1L236.7 265.0L237.2 265.1L237.7 264.9L238.2 264.0L238.7 264.7L239.2 263.9L239.7 264.7L240.2 264.7L240.7 263.5L241.2 264.3L241.7 264.0L242.2 263.5L242.7 264.0L243.2 264.3L243.7 263.8L244.2 263.2L244.7 263.2L245.2 263.3L245.7 263.5L246.2 264.4L246.7 264.2L247.2 264.3L247.7 265.0L248.2 265.1L248.7 265.6L249.2 265.8L249.7 266.6L250.2 267.6L250.7 268.0L251.2 269.8L251.7 270.0L252.2 270.5L252.7 271.7L253.2 271.8L253.7 273.5L254.2 274.0L254.7 275.7L255.2 275.7L255.7 276.5L256.2 277.1L256.7 277.4L257.2 278.4L257.7 278.5L258.2 279.6L258.7 280.0L259.2 281.4L259.7 280.7L260.2 282.4L260.7 282.8L261.2 283.3L261.7 283.6L262.2 284.9L262.7 284.6L263.2 285.4L263.7 285.6L264.2 286.0L264.7 286.6L265.2 287.3L265.7 287.2L266.2 288.0L266.7 288.1L267.2 289.1L267.7 288.7L268.2 288.5L268.7 288.7L269.2 288.2L269.7 288.1L270.2 287.8L270.7 288.1L271.2 288.0L271.7 287.6L272.2 288.1L272.7 287.9L273.2 288.0L273.7 288.3L274.2 288.1L274.7 288.1L275.2 289.0L275.7 289.3L276.2 288.4L276.7 288.9L277.2 288.6L277.7 288.1L278.2 288.0L278.7 288.0L279.2 287.8L279.7 287.6L280.2 287.4L280.7 286.7L281.2 287.2L281.7 286.1L282.2 285.8L282.7 286.2L283.2 285.8L283.7 285.8L284.2 285.1L284.7 284.7L285.2 285.3L285.7 284.6L286.2 284.3L286.7 283.7L287.2 283.8L287.7 282.5L288.2 283.3L288.7 282.3L289.2 283.3L289.7 282.5L290.2 283.4L290.7 284.0L291.2 283.0L291.7 282.6L292.2 283.6L292.7 282.6L293.2 282.3L293.7 283.1L294.2 281.6L294.7 282.2L295.2 282.5L295.7 282.9L296.2 282.6L296.7 283.9L297.2 284.1L297.7 283.8L298.2 283.7L298.7 283.3L299.2 284.0L299.7 283.5L300.2 284.1L300.7 284.4L301.2 284.4L301.7 283.9L302.2 284.9L302.7 286.3L303.2 286.4L303.7 287.3L304.2 286.3L304.7 287.4L305.2 287.7L305.7 287.4L306.2 288.0L306.7 288.9L307.2 289.0L307.7 288.9L308.2 289.6L308.7 290.3L309.2 289.8L309.7 290.6L310.2 290.9L310.7 290.2L311.2 290.9L311.7 290.4L312.2 291.0L312.7 291.2L313.2 291.3L313.7 291.4L314.2 291.6L314.7 292.2L315.2 292.4L315.7 293.0L316.2 292.5L316.7 292.7L317.2 293.3L317.7 292.7L318.2 292.8L318.7 293.3L319.2 292.7L319.7 292.8L320.2 293.0L320.7 292.6L321.2 292.1L321.7 291.9L322.2 292.3L322.7 292.6L323.2 292.4L323.7 292.4L324.2 291.9L324.7 291.3L325.2 291.0L325.7 291.4L326.2 291.6L326.7 291.5L327.2 292.2L327.7 291.5L328.2 292.0L328.7 292.0L329.2 291.1L329.7 291.7L330.2 292.3L330.7 292.2L331.2 291.9L331.7 291.5L332.2 291.6L332.7 291.9L333.2 292.3L333.7 291.9L334.2 291.7L334.7 291.7L335.2 291.8L335.7 290.7L336.2 290.8L336.7 291.1L337.2 291.4L337.7 291.3L338.2 290.6L338.7 290.9L339.2 290.6L339.7 290.8L340.2 291.0L340.7 290.8L341.2 290.7L341.7 290.4L342.2 290.1L342.7 290.6L343.2 290.7L343.7 290.9L344.2 290.4L344.7 290.5L345.2 291.3L345.7 290.9L346.2 290.8L346.7 289.9L347.2 289.3L347.7 288.6L348.2 288.8L348.7 287.4L349.2 286.6L349.7 286.5L350.2 286.9L350.7 286.3L351.2 286.2L351.7 286.1L352.2 286.0L352.7 286.0L353.2 285.4L353.7 286.4L354.2 285.5L354.7 285.8L355.2 284.5L355.7 285.0L356.2 284.1L356.7 283.8L357.2 284.2L357.7 284.3L358.2 284.3L358.7 284.2L359.2 283.6L359.7 284.1L360.2 283.7L360.7 283.8L361.2 284.2L361.7 284.1L362.2 284.5L362.7 283.4L363.2 284.4L363.7 283.6L364.2 284.2L364.7 284.0L365.2 283.0L365.7 283.4L366.2 283.7L366.7 283.1L367.2 283.0L367.7 283.0L368.2 283.1L368.7 282.9L369.2 282.1L369.7 282.3L370.2 282.3L370.7 282.0L371.2 281.3L371.7 281.1L372.2 281.4L372.7 281.4L373.2 280.9L373.7 280.1L374.2 279.4L374.7 279.8L375.2 279.0L375.7 279.6L376.2 278.4L376.7 278.8L377.2 278.7L377.7 279.7L378.2 279.1L378.7 277.4L379.2 275.1L379.7 274.2L380.2 271.5L380.7 268.7L381.2 265.6L381.7 263.0L382.2 259.2L382.7 256.2L383.2 253.2L383.7 249.5L384.2 246.4L384.7 244.8L385.2 244.6L385.7 246.4L386.2 249.6L386.7 251.5L387.2 254.9L387.7 256.7L388.2 258.3L388.7 260.3L389.2 262.2L389.7 262.4L390.2 261.3L390.7 261.0L391.2 260.4L391.7 259.7L392.2 257.8L392.7 255.8L393.2 254.4L393.7 252.6L394.2 250.7L394.7 249.1L395.2 246.1L395.7 245.0L396.2 242.5L396.7 239.8L397.2 237.2L397.7 234.6L398.2 232.8L398.7 230.2L399.2 227.7L399.7 225.8L400.2 221.9L400.7 220.0L401.2 217.5L401.7 215.6L402.2 212.4L402.7 209.3L403.2 206.8L403.7 203.9L404.2 201.4L404.7 198.1L405.2 195.1L405.7 192.4L406.2 189.5L406.7 187.1L407.2 184.5L407.7 181.3L408.2 178.8L408.7 176.9L409.2 174.2L409.7 172.1L410.2 169.3L410.7 167.3L411.2 164.7L411.7 163.2L412.2 162.3L412.7 161.3L413.2 159.6L413.7 158.0L414.2 157.3L414.7 156.7L415.2 155.3L415.7 155.0L416.2 154.3L416.7 153.8L417.2 154.4L417.7 155.4L418.2 157.4L418.7 157.9L419.2 158.8L419.7 160.2L420.2 161.2L420.7 162.2L421.2 163.7L421.7 165.2L422.2 167.4L422.7 169.8L423.2 172.0L423.7 173.7L424.2 176.6L424.7 178.7L425.2 181.2L425.7 184.4L426.2 187.3L426.7 189.9L427.2 193.4L427.7 197.0L428.2 200.8L428.7 204.3L429.2 207.4L429.7 211.7L430.2 213.6L430.7 216.5L431.2 218.7L431.7 220.6L432.2 223.6L432.7 225.3L433.2 227.1L433.7 229.0L434.2 230.7L434.7 232.4L435.2 234.9L435.7 236.5L436.2 238.7L436.7 241.4L437.2 244.0L437.7 248.2L438.2 251.9L438.7 255.7L439.2 259.0L439.7 260.8L440.2 263.4L440.7 265.4L441.2 267.0L441.7 268.0L442.2 269.5L442.7 270.9L443.2 272.1L443.7 274.1L444.2 274.7L444.7 275.7L445.2 277.1L445.7 278.3L446.2 278.6L446.7 280.2L447.2 280.9L447.7 281.0L448.2 282.1L448.7 281.8L449.2 282.7L449.7 283.3L450.2 283.7L450.7 284.5L451.2 284.1L451.7 284.0L452.2 284.5L452.7 284.6L453.2 284.8L453.7 284.7L454.2 285.1L454.7 285.1L455.2 285.6L455.7 285.3L456.2 285.4L456.7 286.2L457.2 285.7L457.7 286.2L458.2 286.6L458.7 286.5L459.2 287.0L459.7 286.3L460.2 286.6L460.7 285.1L461.2 284.5L461.7 284.4L462.2 284.2L462.7 283.4L463.2 281.7L463.7 281.2L464.2 280.2L464.7 278.7L465.2 278.9L465.7 277.6L466.2 277.4L466.7 276.2L467.2 275.2L467.7 274.5L468.2 274.2L468.7 274.0L469.2 273.2L469.7 274.0L470.2 272.8L470.7 272.1L471.2 272.5L471.7 272.9L472.2 272.7L472.7 272.7L473.2 272.9L473.7 273.2L474.2 273.4L474.7 274.1L475.2 274.9L475.7 275.1L476.2 276.4L476.7 276.4L477.2 276.7L477.7 277.8L478.2 279.5L478.7 279.5L479.2 281.6L479.7 283.9L480.2 284.5L480.7 285.0L481.2 286.3L481.7 287.1L482.2 289.1L482.7 288.6L483.2 289.5L483.7 290.1L484.2 290.4L484.7 290.4L485.2 292.3L485.7 293.4L486.2 293.8L486.7 294.7L487.2 295.2L487.7 295.4L488.2 294.5L488.7 295.4L489.2 294.6L489.7 294.0L490.2 293.1L490.7 292.3L491.2 291.3L491.7 290.9L492.2 290.2L492.7 289.0L493.2 288.9L493.7 287.8L494.2 287.5L494.7 286.6L495.2 286.4L495.7 286.4L496.2 285.4L496.7 285.1L497.2 285.9L497.7 288.0L498.2 289.5L498.7 291.7L499.2 292.6L499.7 294.0L500.2 294.4L500.7 294.9L501.2 295.1L501.7 295.7L502.2 295.5L502.7 296.3L503.2 295.5L503.7 296.1L504.2 296.3L504.7 295.7L505.2 296.1L505.7 295.7L506.2 296.2L506.7 296.2L507.2 296.8L507.7 296.4L508.2 296.4L508.7 297.0L509.2 297.5L509.7 297.5L510.2 297.5L510.7 297.8L511.2 297.1L511.7 297.1L512.2 296.8L512.7 296.7L513.2 297.2L513.7 296.8L514.2 295.5L514.7 296.7L515.2 295.2L515.7 295.5L516.2 295.7L516.7 295.2L517.2 295.3L517.7 295.5L518.2 295.4L518.7 295.0L519.2 295.7L519.7 295.4L520.2 294.9L520.7 295.8L521.2 296.4L521.7 296.5L522.2 296.7L522.7 297.5L523.2 297.1L523.7 297.4L524.2 297.2L524.7 297.7L525.2 296.9L525.7 297.4L526.2 297.7L526.7 296.9L527.2 297.5L527.7 296.8L528.2 297.6L528.7 298.0L529.2 297.7L529.7 297.6L530.2 298.5L530.7 298.5L531.2 298.9L531.7 299.1L532.2 299.3L532.7 299.6L533.2 299.2L533.7 298.5L534.2 299.4L534.7 299.4L535.2 299.5L535.7 300.2L536.2 300.0L536.7 299.9L537.2 300.3L537.7 299.6L538.2 300.5L538.7 300.1L539.2 300.7L539.7 300.2L540.2 300.1L540.7 300.0L541.2 299.5L541.7 299.9L542.2 300.0L542.7 300.3L543.2 300.1L543.7 300.2L544.2 300.2L544.7 299.8L545.2 300.1L545.7 300.0L546.2 299.7L546.7 299.6L547.2 300.4L547.7 300.7L548.2 300.8L548.7 300.0L549.2 301.1L549.7 301.4L550.2 300.6L550.7 301.2L551.2 301.6L551.7 300.8L552.2 300.9L552.7 300.0L553.2 299.8L553.7 300.2L554.2 299.9L554.7 300.2L555.2 300.3L555.7 299.9L556.2 301.0L556.7 300.4L557.2 300.3L557.7 300.1L558.2 300.3L558.7 299.9L559.2 300.6L559.7 300.2L560.2 300.6L560.7 300.0L561.2 300.0L561.7 300.1L562.2 300.7L562.7 300.2L563.2 301.1L563.7 300.8L564.2 301.3L564.7 300.8L565.2 301.2L565.7 300.3L566.2 300.0L566.7 300.4L567.2 299.8L567.7 300.3L568.2 299.8L568.7 300.5L569.2 300.3L569.7 300.3L570.2 301.8L570.7 301.3L571.2 301.8L571.7 301.4L572.2 300.6L572.7 301.3L573.2 301.5L573.7 301.6L574.2 301.8L574.7 301.5L575.2 301.4L575.7 301.5L576.2 301.1L576.7 301.8L577.2 301.9L577.7 301.8L578.2 301.5L578.7 302.1L579.2 301.6L579.7 302.3L580.2 301.6L580.7 301.6L581.2 301.7L581.7 301.4L582.2 301.4L582.7 301.6L583.2 300.6L583.7 302.2L584.2 301.5L584.7 301.5L585.2 301.2L585.7 301.7L586.2 301.8L586.7 301.9L587.2 301.4L587.7 301.9L588.2 301.2L588.7 301.8L589.2 301.4L589.7 301.4L590.2 301.4L590.7 301.7L591.2 301.8L591.7 301.4L592.2 301.0L592.7 302.0L593.2 301.0L593.7 301.4L594.2 301.5L594.7 301.3L595.2 302.0L595.7 301.5L596.2 301.6L596.7 300.8L597.2 301.0L597.7 300.4L598.2 300.3L598.7 300.4L599.2 300.5L599.7 300.6L600.2 300.4L600.7 300.0L601.2 300.6L601.7 299.9L602.2 300.9L602.7 300.8L603.2 301.5L603.7 300.2L604.2 302.1L604.7 301.4L605.2 301.2L605.7 302.3L606.2 302.7L606.7 303.0L607.2 303.9L607.7 302.9L608.2 303.3L608.7 303.1L609.2 302.7L609.7 302.9L610.2 303.1L610.7 302.1L611.2 302.5L611.7 302.6L612.2 302.5L612.7 301.7L613.2 302.5L613.7 302.3L614.2 302.9L614.7 302.4L615.2 303.2L615.7 302.0L616.2 302.7L616.7 302.2L617.2 303.1L617.7 302.9L618.2 301.8L618.7 302.3L619.2 301.8L619.7 301.1L620.2 301.2L620.7 301.5L621.2 301.7L621.7 301.4L622.2 301.7L622.7 301.8L623.2 301.9L623.7 301.4L624.2 301.9L624.7 302.0L625.2 301.2L625.7 302.3L626.2 302.3L626.7 301.8L627.2 302.5L627.7 301.4L628.2 301.4L628.7 301.6L629.2 301.7L629.7 302.8L630.2 302.2L630.7 302.3L631.2 302.4L631.7 302.7L632.2 301.9L632.7 301.4L633.2 301.3L633.7 301.4L634.2 300.8L634.7 301.4L635.2 301.0L635.7 301.0L636.2 301.4L636.7 302.0L637.2 301.3L637.7 302.0L638.2 301.7L638.7 301.6L639.2 301.4L639.7 301.5L640.2 301.1L640.7 300.7L641.2 300.5L641.7 299.7L642.2 299.7L642.7 299.6L643.2 300.1L643.7 300.4L644.2 300.6L644.7 301.1L645.2 300.7L645.7 301.0L646.2 301.4L646.7 301.7L647.2 301.0L647.7 301.4L648.2 301.3L648.7 300.2L649.2 300.5L649.7 299.9L650.2 300.0L650.7 300.3L651.2 299.6L651.7 300.3L652.2 300.0L652.7 299.8L653.2 300.0L653.7 299.4L654.2 298.9L654.7 299.4L655.2 299.0L655.7 299.1L656.2 298.8L656.7 298.8L657.2 298.9L657.7 298.8L658.2 299.0L658.7 299.1L659.2 299.4L659.7 300.5L660.2 299.0L660.7 298.7L661.2 299.5L661.7 299.0L662.2 299.1L662.7 299.3L663.2 299.4L663.7 299.3L664.2 299.2L664.7 298.9L665.2 299.2L665.7 299.0L666.2 298.4L666.7 298.5L667.2 298.0L667.7 298.7L668.2 298.3L668.7 299.0L669.2 298.0L669.7 298.8L670.2 297.8L670.7 297.5L671.2 297.8L671.7 298.1L672.2 298.3L672.7 297.5L673.2 298.2L673.7 297.8L674.2 297.9L674.7 298.2L675.2 299.1L675.7 298.7L676.2 298.6L676.7 297.8L677.2 298.3L677.7 298.3L678.2 298.8L678.7 297.9L679.2 298.0L679.7 297.9L680.2 297.9L680.7 298.2L681.2 297.6L681.7 298.3L682.2 297.8L682.7 297.4L683.2 297.5L683.7 297.3L684.2 297.3L684.7 298.4L685.2 298.5L685.7 298.0L686.2 298.4L686.7 299.2L687.2 298.3L687.7 298.6L688.2 298.5L688.7 298.1L689.2 297.9L689.7 297.7L690.2 297.8L690.7 297.1L691.2 297.7L691.7 297.8L692.2 297.4L692.7 298.2L693.2 297.8L693.7 297.2L694.2 297.5L694.7 298.2L695.2 298.3L695.7 297.8L696.2 297.4L696.7 297.8L697.2 298.2L697.7 297.8L698.2 297.3L698.7 298.0L699.2 297.8L699.7 297.8L700.2 297.9L700.7 298.0L701.2 297.7L701.7 297.4L702.2 297.7L702.7 297.9L703.2 298.4L703.7 297.7L704.2 298.3L704.7 298.2L705.2 298.7L705.7 298.5L706.2 297.7L706.7 299.3L707.2 298.8L707.7 298.9L708.2 298.9L708.7 299.2L709.2 299.3L709.7 299.9L710.2 300.1L710.7 300.1L711.2 300.2L711.7 299.7L712.2 300.1L712.7 299.6L713.2 299.8L713.7 299.9L714.2 299.6L714.7 300.5L715.2 300.6L715.7 300.4L716.2 301.4L716.7 301.6L717.2 300.6L717.7 300.4L718.2 301.0L718.7 301.3L719.2 301.3L719.7 301.1L720.2 300.6L720.7 300.8L721.2 300.6L721.7 300.1L722.2 300.3L722.7 300.6L723.2 299.9L723.7 299.8L724.2 299.7L724.7 300.5L725.2 300.2L725.7 300.2L726.2 299.7L726.7 299.9L727.2 300.4L727.7 299.8L728.2 300.2L728.7 299.5L729.2 299.3L729.7 299.3L730.2 299.3L730.7 299.6L731.2 298.8L731.7 299.6L732.2 298.6L732.7 298.3L733.2 297.4L733.7 298.1L734.2 298.0L734.7 296.7L735.2 296.9L735.7 296.8L736.2 296.4L736.7 297.1L737.2 297.2L737.7 296.9L738.2 296.6L738.7 296.9L739.2 296.9L739.7 296.0L740.2 296.4L740.7 296.7L741.2 295.7L741.7 297.2L742.2 298.2L742.7 297.6L743.2 298.9L743.7 298.6L744.2 299.1L744.7 298.9L745.2 298.7L745.7 298.7L746.2 300.6L746.7 299.6L747.2 300.4L747.7 301.3L748.2 301.1L748.7 301.2L749.2 300.4L749.7 300.9L750.2 300.7L750.7 300.5L751.2 301.4L751.7 301.7L752.2 301.1L752.7 301.2L753.2 301.6L753.7 301.7L754.2 300.8L754.7 301.5L755.2 301.3L755.7 301.0L756.2 300.7L756.7 301.5L757.2 301.7L757.7 302.1L758.2 301.3L758.7 302.2L759.2 301.5L759.7 301.9L760.2 301.7L760.7 301.9L761.2 302.5L761.7 301.8L762.2 302.4L762.7 301.9L763.2 302.0L763.7 301.8L764.2 302.1L764.7 301.3L765.2 302.0L765.7 302.4L766.2 302.3L766.7 301.4L767.2 301.7L767.7 302.1L768.2 303.2L768.7 302.6L769.2 303.0L769.7 303.1L770.2 303.3L770.7 302.8L771.2 303.1L771.7 302.9L772.2 302.9L772.7 302.1L773.2 302.6L773.7 303.0L774.2 302.6L774.7 302.6L775.2 301.5L775.7 303.1L776.2 303.4L776.7 303.2L777.2 302.9L777.7 303.0L778.2 303.7L778.7 302.3L779.2 302.4L779.7 303.0L780.2 302.7L780.7 301.8L781.2 302.7L781.7 302.8L782.2 302.2L782.7 302.6L783.2 302.4L783.7 301.5L784.2 302.3L784.7 303.0L785.2 302.9L785.7 302.0L786.2 302.0L786.7 302.5L787.2 302.4L787.7 301.6L788.2 301.6L788.7 302.3L789.2 301.9L789.7 302.3L790.2 302.0L790.7 302.5L791.2 302.0L791.7 301.9L792.2 301.7L792.7 301.2L793.2 301.7L793.7 301.3L794.2 301.6L794.7 301.9L795.2 302.0L795.7 302.1L796.2 301.7L796.7 301.8L797.2 302.1L797.7 301.5L798.2 301.4L798.7 300.4L799.2 300.8L799.7 301.7L800.2 301.1L800.7 301.1L801.2 302.0L801.7 301.2L802.2 302.1L802.7 301.8L803.2 301.6L803.7 301.2L804.2 302.5L804.7 301.5L805.2 301.8L805.7 302.5L806.2 301.7L806.7 302.3L807.2 302.0L807.7 301.9L808.2 301.6L808.7 301.9L809.2 302.3L809.7 302.0L810.2 302.6L810.7 302.3L811.2 302.3L811.7 302.0L812.2 302.0L812.7 301.9L813.2 302.1L813.7 302.1L814.2 302.2L814.7 301.9L815.2 301.7L815.7 302.5L816.2 302.9L816.7 302.2L817.2 302.0L817.7 302.4L818.2 302.8L818.7 302.9L819.2 302.5L819.7 302.3L820.2 302.8L820.7 303.1L821.2 302.8L821.7 303.2L822.2 302.5L822.7 303.1L823.2 303.4L823.7 302.6L824.2 302.8L824.7 303.6L825.2 304.6L825.7 303.7L826.2 303.5L826.7 304.0L827.2 303.4L827.7 302.7L828.2 302.9L828.7 303.7L829.2 302.4L829.7 302.4L830.2 303.1L830.7 302.7L831.2 303.0L831.7 302.1L832.2 302.3L832.7 302.4L833.2 302.2L833.7 302.7L834.2 302.8L834.7 303.3L835.2 303.1L835.7 303.2L836.2 303.7L836.7 304.0L837.2 304.1L837.7 303.9L838.2 303.8L838.7 303.8L839.2 303.6L839.7 304.1L840.2 304.1L840.7 304.7L841.2 304.0L841.7 304.1L842.2 304.1L842.7 302.8L843.2 303.3L843.7 303.5L844.2 303.8L844.7 303.3L845.2 304.0L845.7 304.0L846.2 303.7L846.7 303.8L847.2 303.3L847.7 304.4L848.2 304.0L848.7 303.7L849.2 304.6L849.7 304.6L850.2 304.1L850.7 303.6L851.2 303.7L851.7 304.1L852.2 303.2L852.7 304.7L853.2 304.8L853.7 304.4L854.2 304.8L854.7 304.3L855.2 303.9L855.7 304.4L856.2 304.3L856.7 303.5L857.2 303.1L857.7 303.2L858.2 303.9L858.7 303.4L859.2 304.6L859.7 303.5L860.2 304.1L860.7 304.1L861.2 304.0L861.7 304.4L862.2 303.7L862.7 304.0L863.2 303.6L863.7 303.2L864.2 303.9L864.7 303.4L865.2 303.3L865.7 304.0L866.2 303.7L866.7 303.8L867.2 304.3L867.7 303.8L868.2 303.8L868.7 303.1L869.2 303.7L869.7 303.5L870.2 302.6L870.7 303.3L871.2 303.3L871.7 303.3L872.2 303.7L872.7 304.8L873.2 303.8L873.7 304.0L874.2 304.1L874.7 303.9L875.2 303.1L875.7 304.0L876.2 304.1L876.7 304.4L877.2 303.5L877.7 303.2L878.2 303.8L878.7 303.1L879.2 303.3L879.7 303.1L880.2 303.2L880.7 303.0L881.2 303.6L881.7 303.3L882.2 304.8L882.7 304.5L883.2 304.2L883.7 304.1L884.2 304.4L884.7 304.1L885.2 303.9L885.7 304.7L886.2 304.6L886.7 304.0L887.2 304.8L887.7 304.7L888.2 304.9L888.7 304.3L889.2 305.2L889.7 304.3L890.2 305.0L890.7 304.0L891.2 304.7L891.7 304.1L892.2 304.9L892.7 304.3L893.2 303.9L893.7 303.9L894.2 304.1L894.7 304.6L895.2 304.5L895.7 304.5L896.2 304.8L896.7 305.1L897.2 304.0L897.7 304.7L898.2 305.1L898.7 303.9L899.2 303.9L899.7 304.3L900.2 304.4L900.7 304.2L901.2 304.4L901.7 305.0L902.2 304.7L902.7 304.0L903.2 303.4L903.7 303.4L904.2 303.6L904.7 303.0L905.2 302.9L905.7 303.5L906.2 303.2L906.7 303.3L907.2 303.7L907.7 304.3L908.2 304.0L908.7 304.3L909.2 304.2L909.7 304.9L910.2 304.0L910.7 304.2L911.2 304.4L911.7 305.3L912.2 305.0L912.7 304.0L913.2 304.2L913.7 304.5L914.2 304.3L914.7 304.5L915.2 303.9L915.7 303.3L916.2 304.1L916.7 304.3L917.2 303.3L917.7 303.0L918.2 303.4L918.7 302.7L919.2 303.4L919.7 302.6L920.2 303.3L920.7 302.9L921.2 303.1L921.7 303.5L922.2 303.3L922.7 303.3L923.2 304.2L923.7 303.4L924.2 304.6L924.7 303.8L925.2 303.8L925.7 304.0L926.2 303.9L926.7 303.9L927.2 303.0L927.7 303.0L928.2 303.2L928.7 302.9L929.2 302.5L929.7 303.0L930.2 302.5L930.7 303.0L931.2 303.2L931.7 303.0L932.2 302.8L932.7 303.1L933.2 302.8L933.7 302.8L934.2 302.2L934.7 302.7L935.2 303.1L935.7 302.4L936.2 302.6L936.7 302.4L937.2 302.7L937.7 301.5L938.2 302.9L938.7 302.4L939.2 302.2L939.7 302.5L940.2 302.9L940.7 302.7L941.2 302.8L941.7 302.9L942.2 302.5L942.7 302.6L943.2 302.7L943.7 302.3L944.2 301.7L944.7 302.2L945.2 302.7L945.7 301.8L946.2 302.1L946.7 302.1L947.2 302.4L947.7 301.9L948.2 302.0L948.7 302.8L949.2 302.3L949.7 301.7L950.2 302.1L950.7 301.6L951.2 302.0L951.7 300.6L952.2 301.1L952.7 301.2L953.2 300.3L953.7 300.5L954.2 301.0L954.7 301.0L955.2 301.0L955.7 301.3L956.2 300.7L956.7 300.8L957.2 301.5L957.7 300.4L958.2 300.7L958.7 300.5L959.2 301.0L959.7 301.0L960.2 301.3L960.7 301.8L961.2 301.7L961.7 301.2L962.2 301.8L962.7 302.8L963.2 302.9L963.7 302.6L964.2 302.3L964.7 302.7L965.2 303.8L965.7 303.6L966.2 303.6L966.7 302.6L967.2 302.8L967.7 303.2L968.2 303.1L968.7 304.0L969.2 303.8L969.7 304.7L970.2 304.6L970.7 304.5L971.2 304.9L971.7 304.8L972.2 304.6L972.7 304.4L973.2 304.7L973.7 304.2L974.2 304.3L974.7 304.9L975.2 305.2L975.7 305.6L976.2 304.9L976.7 304.2L977.2 304.3L977.7 304.0L978.2 304.4L978.7 304.5L979.2 304.5L979.7 304.7L980.2 305.1L980.7 305.1L981.2 304.5L981.7 305.4L982.2 304.9L982.7 305.6L983.2 305.6L983.7 306.4L984.2 305.9L984.7 306.0L985.2 306.1L985.7 306.6L986.2 306.4L986.7 306.1L987.2 306.4L987.7 306.8L988.2 306.5L988.7 306.4L989.2 305.6L989.7 305.7L990.2 305.8L990.7 305.1L991.2 306.4L991.7 305.3L992.2 306.0L992.7 305.4L993.2 306.0L993.7 306.3L994.2 306.2L994.7 305.6L995.2 305.7L995.7 306.2L996.2 305.8L996.7 305.9L997.2 306.3L997.7 305.1L998.2 306.3L998.7 306.8L999.2 307.1L999.7 306.8L1000.2 306.3L1000.7 307.0L1001.2 307.3L1001.7 306.4L1002.2 306.3L1002.7 306.5L1003.2 306.4L1003.7 305.8L1004.2 305.6L1004.7 306.0L1005.2 306.2L1005.7 306.6L1006.2 306.3L1006.7 306.7L1007.2 307.3L1007.7 308.1L1008.2 307.5L1008.7 306.9L1009.2 307.7L1009.7 307.2L1010.2 307.1L1010.7 307.2L1011.2 306.9L1011.7 306.1L1012.2 306.1L1012.7 306.6L1013.2 306.9L1013.7 307.6L1014.2 307.2L1014.7 307.0L1015.2 307.0L1015.7 306.8L1016.2 306.4L1016.7 306.2L1017.2 306.3L1017.7 306.5L1018.2 306.2L1018.7 306.6L1019.2 306.5L1019.7 306.5L1020.2 306.4L1020.7 306.5L1021.2 306.4L1021.7 305.6L1022.2 306.9L1022.7 307.1L1023.2 307.0L1023.7 307.3L1024.2 306.9L1024.7 307.0L1025.2 306.5L1025.7 307.0L1026.2 307.0L1026.7 306.5L1027.2 307.0L1027.7 307.7L1028.2 307.6L1028.7 307.5L1029.2 306.9L1029.7 306.8L1030.2 306.9L1030.7 306.8L1031.2 306.6L1031.7 306.3L1032.2 306.6L1032.7 306.6L1033.2 306.5L1033.7 306.7L1034.2 306.9L1034.7 306.6L1035.2 307.3L1035.7 307.3L1036.2 307.3L1036.7 306.5L1037.2 306.5L1037.7 306.8L1038.2 306.6L1038.7 306.7L1039.2 306.8L1039.7 306.4L1040.2 307.5L1040.7 306.4L1041.2 306.3L1041.7 307.2L1042.2 306.5L1042.7 307.3L1043.2 307.2L1043.7 307.4L1044.2 307.3L1044.7 307.0L1045.2 307.0L1045.7 307.4L1046.2 307.3L1046.7 306.9L1047.2 307.0L1047.7 307.2L1048.2 307.5L1048.7 307.8L1049.2 308.1L1049.7 307.6L1050.2 308.3L1050.7 308.0L1051.2 308.2L1051.7 307.1L1052.2 307.5L1052.7 307.6L1053.2 306.5L1053.7 307.6L1054.2 307.6L1054.7 307.8L1055.2 307.6L1055.7 307.9L1056.2 307.1L1056.7 306.9L1057.2 307.2L1057.7 307.0L1058.2 306.2L1058.7 307.1L1059.2 307.2L1059.7 307.3L1060.2 306.8L1060.7 307.7L1061.2 307.6L1061.7 307.8L1062.2 307.4L1062.7 307.2L1063.2 306.9L1063.7 306.8L1064.2 307.3L1064.7 306.5L1065.2 306.5L1065.7 306.7L1066.2 306.4L1066.7 305.7L1067.2 306.2L1067.7 306.3L1068.2 306.9L1068.7 306.5L1069.2 305.9L1069.7 305.8L1070.2 306.0L1070.7 306.2L1071.2 305.9L1071.7 306.4L1072.2 305.7L1072.7 306.3L1073.2 306.5L1073.7 304.8L1074.2 305.4L1074.7 305.3L1075.2 305.3L1075.7 305.3L1076.2 305.5L1076.7 306.0L1077.2 306.3L1077.7 306.5L1078.2 307.1L1078.7 306.8L1079.2 306.6L1079.7 305.9L1080.2 305.9L1080.7 306.4L1081.2 305.7L1081.7 306.4L1082.2 305.6L1082.7 306.8L1083.2 306.4L1083.7 305.6L1084.2 305.5L1084.7 304.9L1085.2 305.6L1085.7 306.1L1086.2 305.9L1086.7 305.6L1087.2 306.3L1087.7 305.6L1088.2 305.3L1088.7 304.9L1089.2 305.2L1089.7 305.9L1090.2 305.2L1090.7 304.4L1091.2 305.1L1091.7 305.6L1092.2 305.2L1092.7 304.5L1093.2 304.7L1093.7 304.0L1094.2 304.7L1094.7 304.1L1095.2 304.2L1095.7 304.2L1096.2 304.2L1096.7 305.1L1097.2 305.2L1097.7 304.6L1098.2 304.8L1098.7 305.4L1099.2 304.6L1099.7 304.4L1100.2 304.1L1100.7 304.8L1101.2 304.2L1101.7 304.1L1102.2 303.9L1102.7 303.7L1103.2 304.4L1103.7 303.7L1104.2 303.8L1104.7 303.4L1105.2 303.7L1105.7 304.0L1106.2 304.1L1106.7 303.9L1107.2 304.3L1107.7 304.5L1108.2 303.5L1108.7 304.6L1109.2 304.2L1109.7 303.8L1110.2 304.1L1110.7 304.4L1111.2 304.3L1111.7 304.4L1112.2 304.6L1112.7 305.0L1113.2 304.4L1113.7 304.8L1114.2 305.3L1114.7 305.3L1115.2 305.1L1115.7 305.5L1116.2 305.4L1116.7 305.9L1117.2 305.4L1117.7 305.6L1118.2 305.7L1118.7 306.2L1119.2 307.1L1119.7 306.4L1120.2 306.3L1120.7 305.7L1121.2 306.3L1121.7 305.8L1122.2 305.8L1122.7 306.3L1123.2 305.6L1123.7 305.4L1124.2 305.8L1124.7 306.8L1125.2 306.7L1125.7 306.5L1126.2 306.4L1126.7 306.5L1127.2 306.8L1127.7 306.4L1128.2 307.1L1128.7 306.6L1129.2 307.5L1129.7 307.0L1130.2 306.8L1130.7 307.1L1131.2 306.8L1131.7 307.0L1132.2 306.4L1132.7 306.9L1133.2 307.3L1133.7 307.6L1134.2 307.5L1134.7 308.2L1135.2 307.2L1135.7 307.7L1136.2 307.5L1136.7 307.6L1137.2 307.5L1137.7 308.3L1138.2 308.0L1138.7 307.9L1139.2 309.4L1139.7 308.6L1140.2 308.6L1140.7 308.9L1141.2 308.2L1141.7 308.3L1142.2 308.7L1142.7 307.9L1143.2 308.3L1143.7 308.9L1144.2 309.3L1144.7 308.6L1145.2 308.6L1145.7 308.9L1146.2 307.9L1146.7 308.1L1147.2 308.0L1147.7 307.5L1148.2 307.2L1148.7 308.3L1149.2 308.9L1149.7 308.9L1150.2 309.2L1150.7 307.7L1151.2 308.6L1151.7 309.1L1152.2 308.3L1152.7 308.1L1153.2 308.7L1153.7 308.7L1154.2 309.0L1154.7 308.8L1155.2 309.2L1155.7 309.1L1156.2 309.0L1156.7 308.9L1157.2 309.5L1157.7 309.2L1158.2 309.9L1158.7 310.1L1159.2 310.0L1159.7 309.1L1160.2 309.6L1160.7 309.5L1161.2 309.5L1161.7 308.4L1162.2 308.6L1162.7 308.6L1163.2 309.0L1163.7 308.1L1164.2 308.5L1164.7 308.1L1165.2 308.8L1165.7 308.2L1166.2 307.6L1166.7 308.2L1167.2 308.5L1167.7 309.0L1168.2 308.9L1168.7 308.6L1169.2 308.3L1169.7 308.8L1170.2 308.7L1170.7 309.2L1171.2 308.9L1171.7 307.9L1172.2 307.4L1172.7 308.1L1173.2 308.3L1173.7 307.8L1174.2 308.0L1174.7 308.6L1175.2 308.4L1175.7 307.5L1176.2 308.2L1176.7 308.1L1177.2 308.0L1177.7 308.2L1178.2 308.2L1178.7 309.0L1179.2 308.2L1179.7 307.9L1180.2 308.0L1180.7 308.5L1181.2 308.8L1181.7 308.2L1182.2 308.0L1182.7 307.8L1183.2 307.5L1183.7 307.7L1184.2 307.3L1184.7 308.2L1185.2 308.3L1185.7 308.3L1186.2 308.0L1186.7 308.3L1187.2 308.1L1187.7 308.5L1188.2 308.2L1188.7 308.5L1189.2 308.8L1189.7 309.0L1190.2 308.3L1190.7 308.6L1191.2 308.4L1191.7 309.3L1192.2 308.5L1192.7 309.2L1193.2 308.3L1193.7 308.7L1194.2 308.0L1194.7 308.0L1195.2 308.2L1195.7 308.3L1196.2 308.3L1196.7 308.6L1197.2 308.8L1197.7 308.6L1198.2 308.0L1198.7 307.3L1199.2 307.9L1199.7 306.7L1200.2 307.9L1200.7 307.9L1201.2 307.2L1201.7 307.8L1202.2 307.2L1202.7 307.9L1203.2 307.2L1203.7 307.2L1204.2 307.3L1204.7 307.8L1205.2 307.4L1205.7 308.6L1206.2 307.7L1206.7 308.3L1207.2 307.4L1207.7 307.2L1208.2 307.0L1208.7 306.9L1209.2 307.5L1209.7 308.0L1210.2 307.8L1210.7 307.5L1211.2 308.0L1211.7 307.6L1212.2 306.8L1212.7 307.7L1213.2 306.8L1213.7 307.1L1214.2 307.2L1214.7 307.0L1215.2 306.9L1215.7 307.6L1216.2 307.4L1216.7 307.8L1217.2 307.5L1217.7 307.6L1218.2 308.2L1218.7 307.3L1219.2 307.6L1219.7 307.5L1220.2 307.5L1220.7 307.6L1221.2 307.5L1221.7 307.8L1222.2 307.2L1222.7 307.7L1223.2 307.1L1223.7 307.9L1224.2 307.8L1224.7 307.3L1225.2 307.2L1225.7 307.4L1226.2 307.8L1226.7 307.2L1227.2 307.5L1227.7 308.3L1228.2 307.8L1228.7 307.3L1229.2 306.7L1229.7 307.2L1230.2 306.6L1230.7 307.2L1231.2 307.2L1231.7 308.0L1232.2 306.8L1232.7 307.5L1233.2 306.7L1233.7 306.7L1234.2 307.0L1234.7 306.9L1235.2 308.1L1235.7 307.6L1236.2 307.5L1236.7 308.7L1237.2 307.6L1237.7 307.6L1238.2 307.5L1238.7 307.2L1239.2 307.6L1239.7 307.8L1240.2 306.9L1240.7 307.1L1241.2 307.0L1241.7 306.4L1242.2 306.2L1242.7 306.4L1243.2 306.1L1243.7 306.7L1244.2 307.0L1244.7 306.9L1245.2 307.0L1245.7 306.6L1246.2 306.6L1246.7 306.9L1247.2 306.9L1247.7 306.6L1248.2 306.9L1248.7 306.6L1249.2 306.4L1249.7 307.0L1250.2 306.7L1250.7 306.3L1251.2 307.2L1251.7 307.1L1252.2 307.3L1252.7 306.8L1253.2 307.5L1253.7 307.2L1254.2 307.4L1254.7 306.8L1255.2 306.9L1255.7 307.4L1256.2 306.8L1256.7 306.8L1257.2 307.2L1257.7 307.0L1258.2 306.7L1258.7 307.3L1259.2 306.2L1259.7 306.7L1260.2 306.5L1260.7 307.2L1261.2 307.2L1261.7 306.4L1262.2 306.6L1262.7 307.0L1263.2 307.0L1263.7 307.0L1264.2 307.3L1264.7 307.6L1265.2 306.7L1265.7 306.1L1266.2 306.3L1266.7 306.3L1267.2 306.2L1267.7 306.7L1268.2 306.7L1268.7 306.8L1269.2 306.6L1269.7 306.5L1270.2 306.1L1270.7 306.5L1271.2 306.4L1271.7 306.9L1272.2 306.8L1272.7 306.8L1273.2 307.0L1273.7 306.7L1274.2 307.3L1274.7 307.4L1275.2 306.8L1275.7 307.8L1276.2 307.3L1276.7 307.2L1277.2 307.3L1277.7 307.0L1278.2 307.5L1278.7 307.8L1279.2 306.8L1279.7 307.6L1280.2 307.8L1280.7 308.0L1281.2 308.2L1281.7 308.2L1282.2 308.0L1282.7 308.4L1283.2 308.1L1283.7 308.2L1284.2 307.9L1284.7 307.6L1285.2 307.5L1285.7 307.7L1286.2 307.8L1286.7 306.7L1287.2 307.0L1287.7 307.0L1288.2 307.5L1288.7 307.6L1289.2 308.0L1289.7 307.9L1290.2 308.6L1290.7 307.9L1291.2 308.0L1291.7 308.0L1292.2 308.2L1292.7 308.4L1293.2 308.2L1293.7 308.0L1294.2 307.8L1294.7 308.3L1295.2 308.0L1295.7 307.9L1296.2 308.1L1296.7 308.2L1297.2 308.8L1297.7 308.6L1298.2 307.6L1298.7 307.7L1299.2 307.1L1299.7 307.2L1300.2 307.5L1300.7 308.7L1301.2 308.6L1301.7 308.3L1302.2 308.7L1302.7 308.9L1303.2 308.8L1303.7 309.5L1304.2 308.2L1304.7 308.7L1305.2 308.8L1305.7 308.8L1306.2 307.8L1306.7 308.7L1307.2 308.3L1307.7 308.7L1308.2 308.5L1308.7 309.4L1309.2 310.3L1309.7 309.6L1310.2 309.1L1310.7 308.5L1311.2 309.4L1311.7 309.6L1312.2 308.9L1312.7 309.8L1313.2 309.1L1313.7 309.5L1314.2 310.1L1314.7 309.6L1315.2 310.3L1315.7 310.4L1316.2 309.8L1316.7 309.9L1317.2 310.2L1317.7 309.7L1318.2 309.9L1318.7 310.0L1319.2 309.0L1319.7 310.1L1320.2 309.8L1320.7 309.5L1321.2 309.8L1321.7 309.8L1322.2 309.9L1322.7 309.5L1323.2 309.8L1323.7 309.9L1324.2 310.4L1324.7 310.2L1325.2 310.1L1325.7 309.9L1326.2 310.4L1326.7 309.0L1327.2 309.6L1327.7 310.3L1328.2 309.8L1328.7 310.1L1329.2 310.4L1329.7 310.1L1330.2 309.2L1330.7 309.6L1331.2 309.3L1331.7 309.9L1332.2 310.2L1332.7 309.9L1333.2 310.3L1333.7 310.1L1334.2 310.9L1334.7 310.2L1335.2 310.1L1335.7 310.0L1336.2 310.0L1336.7 309.8L1337.2 309.5L1337.7 309.6L1338.2 309.9L1338.7 310.1L1339.2 310.0L1339.7 310.1L1340.2 310.4L1340.7 310.7L1341.2 310.3L1341.7 309.9L1342.2 309.8L1342.7 309.5L1343.2 309.6L1343.7 309.0L1344.2 309.1L1344.7 310.0L1345.2 309.5L1345.7 309.1L1346.2 309.9L1346.7 309.4L1347.2 309.3L1347.7 309.9L1348.2 309.3L1348.7 310.0L1349.2 310.4L1349.7 310.6L1350.2 310.3L1350.7 310.3L1351.2 310.4L1351.7 310.7L1352.2 309.6L1352.7 310.5L1353.2 310.3L1353.7 310.6L1354.2 309.7L1354.7 310.6L1355.2 309.8L1355.7 310.3L1356.2 310.1L1356.7 309.4L1357.2 310.4L1357.7 310.6L1358.2 310.8L1358.7 310.3L1359.2 310.1L1359.7 310.7L1360.2 310.3L1360.7 310.9L1361.2 311.1L1361.7 310.6L1362.2 310.5L1362.7 310.2L1363.2 309.6L1363.7 310.2L1364.2 310.3L1364.7 310.4L1365.2 310.1L1365.7 310.8L1366.2 310.0L1366.7 310.1L1367.2 310.0L1367.7 310.1L1368.2 310.2L1368.7 310.1L1369.2 310.3L1369.7 310.7L1370.2 310.7L1370.7 310.3L1371.2 310.8L1371.7 310.3L1372.2 310.7L1372.7 310.4L1373.2 309.5L1373.7 309.7L1374.2 310.3L1374.7 309.6L1375.2 309.6L1375.7 309.7L1376.2 310.0L1376.7 310.2L1377.2 310.0L1377.7 310.7L1378.2 309.8L1378.7 309.8L1379.2 309.9L1379.7 309.9L1380.2 310.3L1380.7 310.5L1381.2 309.5L1381.7 309.5L1382.2 309.9L1382.7 309.7L1383.2 310.3L1383.7 309.8L1384.2 310.7L1384.7 309.8L1385.2 311.0L1385.7 311.0L1386.2 311.6L1386.7 310.3L1387.2 310.8L1387.7 310.8L1388.2 310.3L1388.7 310.9L1389.2 310.6L1389.7 310.5L1390.2 310.3L1390.7 310.6L1391.2 310.1L1391.7 309.5L1392.2 310.2L1392.7 309.4L1393.2 310.3L1393.7 310.1L1394.2 309.7L1394.7 309.5L1395.2 309.7L1395.7 309.5L1396.2 309.9L1396.7 309.8L1397.2 310.7L1397.7 308.9L1398.2 309.2L1398.7 309.4L1399.2 309.4L1399.7 309.4L1400.2 308.5L1400.7 309.2L1401.2 307.9L1401.7 309.0L1402.2 309.5L1402.7 309.5L1403.2 308.8L1403.7 309.1L1404.2 308.6L1404.7 309.2L1405.2 309.0L1405.7 309.6L1406.2 309.2L1406.7 309.7L1407.2 309.4L1407.7 309.2L1408.2 310.0L1408.7 309.7L1409.2 308.7L1409.7 309.7L1410.2 309.5L1410.7 309.8L1411.2 309.7L1411.7 309.0L1412.2 309.7L1412.7 309.0L1413.2 309.3L1413.7 309.3L1414.2 309.9L1414.7 309.3L1415.2 309.3L1415.7 309.5L1416.2 308.9L1416.7 309.8L1417.2 309.7L1417.7 309.3L1418.2 309.6L1418.7 309.7L1419.2 310.0L1419.7 310.2L1420.2 309.4L1420.7 309.2L1421.2 309.8L1421.7 310.2L1422.2 309.6L1422.7 309.1L1423.2 309.1L1423.7 309.6L1424.2 309.6L1424.7 309.3L1425.2 310.1L1425.7 310.5L1426.2 309.2L1426.7 309.4L1427.2 309.7L1427.7 309.5L1428.2 310.3L1428.7 309.4L1429.2 310.2L1429.7 310.1L1430.2 310.5L1430.7 309.9L1431.2 310.8L1431.7 310.9L1432.2 311.0L1432.7 310.6L1433.2 309.8L1433.7 310.1L1434.2 310.0L1434.7 310.0L1435.2 309.3L1435.7 309.8L1436.2 309.4L1436.7 309.6L1437.2 309.9L1437.7 309.0L1438.2 310.4L1438.7 309.6L1439.2 308.8L1439.7 308.9L1440.2 309.1L1440.7 309.2L1441.2 309.0L1441.7 309.5L1442.2 309.1L1442.7 309.5L1443.2 310.6L1443.7 310.0L1444.2 310.0L1444.7 310.8L1445.2 310.3L1445.7 310.3L1446.2 309.8L1446.7 310.3L1447.2 309.7L1447.7 310.1L1448.2 310.2L1448.7 310.8L1449.2 310.7L1449.7 310.4L1450.2 310.1L1450.7 310.5L1451.2 310.5L1451.7 311.4L1452.2 310.8L1452.7 310.3L1453.2 311.4L1453.7 311.6L1454.2 311.0L1454.7 311.6L1455.2 310.8L1455.7 311.2L1456.2 311.0L1456.7 311.0L1457.2 310.9L1457.7 310.3L1458.2 310.6L1458.7 310.0L1459.2 310.2L1459.7 310.7L1460.2 310.0L1460.7 310.6L1461.2 311.4L1461.7 311.5L1462.2 310.9L1462.7 310.9L1463.2 311.2L1463.7 310.6L1464.2 310.8L1464.7 310.1L1465.2 310.9L1465.7 310.2L1466.2 311.0L1466.7 311.4L1467.2 311.1L1467.7 310.8L1468.2 310.8L1468.7 310.3L1469.2 311.3L1469.7 309.5L1470.2 309.3L1470.7 309.7L1471.2 309.4L1471.7 309.9L1472.2 310.1L1472.7 310.0L1473.2 310.1L1473.7 310.0L1474.2 310.3L1474.7 310.8L1475.2 310.7L1475.7 310.8L1476.2 310.0L1476.7 310.4L1477.2 310.5L1477.7 310.6L1478.2 310.4L1478.7 311.0L1479.2 311.1L1479.7 311.4L1480.2 310.5L1480.7 310.6L1481.2 310.6L1481.7 310.4L1482.2 310.1L1482.7 310.7L1483.2 309.7L1483.7 310.3L1484.2 309.8L1484.7 310.8L1485.2 310.0L1485.7 310.0L1486.2 310.4L1486.7 309.9L1487.2 310.4L1487.7 310.1L1488.2 311.0L1488.7 309.7L1489.2 309.8L1489.7 310.4L1490.2 310.3L1490.7 310.6L1491.2 310.5L1491.7 311.2L1492.2 311.0L1492.7 311.4L1493.2 310.4L1493.7 310.9L1494.2 310.8L1494.7 311.0L1495.2 310.6L1495.7 311.2L1496.2 310.3L1496.7 310.9L1497.2 310.6L1497.7 309.5L1498.2 310.2L1498.7 309.3L1499.2 310.4L1499.7 309.8L1500.2 310.6L1500.7 310.6L1501.2 310.1L1501.7 310.0L1502.2 310.9L1502.7 310.5L1503.2 311.0L1503.7 310.6L1504.2 311.7L1504.7 310.8L1505.2 311.4L1505.7 311.0L1506.2 311.0L1506.7 311.4L1507.2 311.0L1507.7 311.1L1508.2 311.9L1508.7 311.1L1509.2 310.6L1509.7 311.0L1510.2 310.3L1510.7 310.5L1511.2 310.8L1511.7 310.9L1512.2 311.1L1512.7 310.8L1513.2 310.6L1513.7 310.6L1514.2 310.5L1514.7 310.4L1515.2 311.4L1515.7 310.6L1516.2 311.4L1516.7 310.9L1517.2 311.5L1517.7 310.1L1518.2 311.2L1518.7 311.0L1519.2 311.8L1519.7 311.8L1520.2 311.1L1520.7 311.4L1521.2 311.9L1521.7 311.9L1522.2 312.0L1522.7 312.4L1523.2 311.5L1523.7 312.5L1524.2 311.9L1524.7 310.4L1525.2 310.9L1525.7 311.0L1526.2 311.7L1526.7 310.8L1527.2 310.2L1527.7 311.3L1528.2 311.0L1528.7 310.9L1529.2 311.4L1529.7 311.0L1530.2 311.2L1530.7 311.7L1531.2 311.5L1531.7 311.8L1532.2 311.3L1532.7 312.1L1533.2 310.8L1533.7 310.7L1534.2 311.4L1534.7 311.0L1535.2 311.2L1535.7 311.1L1536.2 311.1L1536.7 310.8L1537.2 311.4L1537.7 311.9L1538.2 311.0L1538.7 312.0L1539.2 311.7L1539.7 310.7L1540.2 311.2L1540.7 310.4L1541.2 310.8L1541.7 310.6L1542.2 311.0L1542.7 310.6L1543.2 311.4L1543.7 311.0L1544.2 310.9L1544.7 310.4L1545.2 311.0L1545.7 311.6L1546.2 310.8L1546.7 311.1L1547.2 310.9L1547.7 311.3L1548.2 311.4L1548.7 311.2L1549.2 311.6L1549.7 311.7L1550.2 311.9L1550.7 311.5L1551.2 311.6L1551.7 311.8L1552.2 311.5L1552.7 311.0L1553.2 310.5L1553.7 311.2L1554.2 311.3L1554.7 311.6L1555.2 311.2L1555.7 312.0L1556.2 310.6L1556.7 310.8L1557.2 310.1L1557.7 310.1L1558.2 310.5L1558.7 310.9L1559.2 311.4L1559.7 310.2L1560.2 312.1L1560.7 312.4L1561.2 312.5L1561.7 312.2L1562.2 311.7L1562.7 311.8L1563.2 311.8L1563.7 310.8L1564.2 311.2L1564.7 311.0L1565.2 310.7L1565.7 311.5L1566.2 310.6L1566.7 310.6L1567.2 311.0L1567.7 311.0L1568.2 311.9L1568.7 310.9L1569.2 311.2L1569.7 312.0L1570.2 312.2L1570.7 311.5L1571.2 312.2L1571.7 310.6L1572.2 311.2L1572.7 310.2L1573.2 310.1L1573.7 310.9L1574.2 310.4L1574.7 310.4L1575.2 311.1L1575.7 311.9L1576.2 311.4L1576.7 311.1L1577.2 311.5L1577.7 311.1L1578.2 311.4L1578.7 311.6L1579.2 312.2L1579.7 311.8L1580.2 312.2L1580.7 312.4L1581.2 312.4L1581.7 311.0L1582.2 311.5L1582.7 310.9L1583.2 311.5L1583.7 311.3L1584.2 311.2L1584.7 311.0L1585.2 311.0L1585.7 310.9L1586.2 312.1L1586.7 311.8L1587.2 312.0L1587.7 312.1L1588.2 312.2L1588.7 312.4L1589.2 311.4L1589.7 311.5L1590.2 310.6L1590.7 311.1L1591.2 311.1L1591.7 311.4L1592.2 312.2L1592.7 311.9L1593.2 311.9L1593.7 311.8L1594.2 311.6L1594.7 311.5L1595.2 311.2L1595.7 311.3L1596.2 311.3L1596.7 311.3L1597.2 310.6L1597.7 311.2L1598.2 311.1L1598.7 311.4L1599.2 311.0L1599.7 311.3L1600.2 312.2L1600.7 311.8L1601.2 312.4L1601.7 312.1L1602.2 312.0L1602.7 311.9L1603.2 312.2L1603.7 312.0L1604.2 311.5L1604.7 312.1L1605.2 311.2L1605.7 310.6L1606.2 311.4L1606.7 311.1L1607.2 310.6L1607.7 310.6L1608.2 311.1L1608.7 311.6L1609.2 311.0L1609.7 312.1L1610.2 311.6L1610.7 312.0L1611.2 311.6L1611.7 311.8L1612.2 311.8L1612.7 312.0L1613.2 311.2L1613.7 312.3L1614.2 311.1L1614.7 311.6L1615.2 311.6L1615.7 311.0L1616.2 311.1L1616.7 309.9L1617.2 310.3L1617.7 310.7L1618.2 310.5L1618.7 310.3L1619.2 311.1L1619.7 311.5L1620.2 311.3L1620.7 312.4L1621.2 311.9L1621.7 311.8L1622.2 312.2L1622.7 311.9L1623.2 312.0L1623.7 312.0L1624.2 311.6L1624.7 311.9L1625.2 311.7L1625.7 312.1L1626.2 311.4L1626.7 311.9L1627.2 312.1L1627.7 312.3L1628.2 311.4L1628.7 311.8L1629.2 312.2L1629.7 312.2L1630.2 311.8L1630.7 311.7L1631.2 312.1L1631.7 311.5L1632.2 311.3L1632.7 312.2L1633.2 311.9L1633.7 311.6L1634.2 311.4L1634.7 312.2L1635.2 311.4L1635.7 311.0L1636.2 311.7L1636.7 310.6L1637.2 311.1" stroke="#00ac69" stroke-width="5.2"/>
<path d="M145.7 117.2L146.2 117.8L146.7 117.2L147.2 116.7L147.7 117.2L148.2 116.7L148.7 116.9L149.2 116.9L149.7 117.0L150.2 117.3L150.7 117.5L151.2 117.7L151.7 117.4L152.2 117.4L152.7 116.5L153.2 116.1L153.7 116.9L154.2 117.0L154.7 117.3L155.2 117.0L155.7 117.6L156.2 117.4L156.7 117.9L157.2 117.9L157.7 117.9L158.2 118.0L158.7 117.6L159.2 117.7L159.7 118.0L160.2 118.3L160.7 117.8L161.2 117.9L161.7 117.7L162.2 117.9L162.7 117.9L163.2 116.6L163.7 117.0L164.2 116.7L164.7 117.1L165.2 115.6L165.7 116.5L166.2 116.3L166.7 117.9L167.2 117.8L167.7 118.2L168.2 118.2L168.7 118.1L169.2 118.1L169.7 117.8L170.2 117.1L170.7 118.0L171.2 117.9L171.7 117.6L172.2 117.6L172.7 118.2L173.2 117.4L173.7 117.2L174.2 118.0L174.7 118.4L175.2 117.4L175.7 117.6L176.2 117.8L176.7 118.5L177.2 118.7L177.7 119.1L178.2 118.4L178.7 118.2L179.2 117.9L179.7 118.4L180.2 117.5L180.7 117.3L181.2 117.4L181.7 117.5L182.2 117.7L182.7 117.4L183.2 118.4L183.7 118.5L184.2 117.4L184.7 117.9L185.2 117.3L185.7 117.3L186.2 116.7L186.7 117.0L187.2 117.1L187.7 117.0L188.2 116.5L188.7 116.3L189.2 116.6L189.7 117.9L190.2 117.5L190.7 117.7L191.2 118.3L191.7 117.3L192.2 117.8L192.7 117.3L193.2 117.6L193.7 116.8L194.2 117.3L194.7 117.5L195.2 117.6L195.7 117.0L196.2 117.5L196.7 117.9L197.2 117.5L197.7 117.8L198.2 117.6L198.7 117.3L199.2 116.9L199.7 117.1L200.2 116.7L200.7 117.4L201.2 117.4L201.7 117.9L202.2 118.5L202.7 118.0L203.2 118.0L203.7 117.8L204.2 118.0L204.7 118.1L205.2 117.3L205.7 116.8L206.2 116.7L206.7 117.6L207.2 117.3L207.7 117.2L208.2 116.2L208.7 116.4L209.2 115.7L209.7 115.7L210.2 115.8L210.7 115.8L211.2 116.6L211.7 115.5L212.2 115.7L212.7 115.6L213.2 115.9L213.7 116.1L214.2 115.5L214.7 115.2L215.2 115.8L215.7 116.2L216.2 115.6L216.7 116.3L217.2 115.3L217.7 115.3L218.2 115.2L218.7 116.1L219.2 115.7L219.7 115.6L220.2 115.2L220.7 115.3L221.2 115.6L221.7 116.5L222.2 116.3L222.7 115.8L223.2 115.4L223.7 115.0L224.2 115.5L224.7 115.9L225.2 115.8L225.7 115.7L226.2 115.2L226.7 115.6L227.2 115.3L227.7 115.6L228.2 115.4L228.7 115.6L229.2 115.4L229.7 115.1L230.2 115.6L230.7 114.7L231.2 115.2L231.7 114.7L232.2 114.5L232.7 114.5L233.2 114.0L233.7 113.7L234.2 113.7L234.7 113.6L235.2 114.2L235.7 114.4L236.2 114.3L236.7 113.7L237.2 114.4L237.7 114.6L238.2 113.8L238.7 114.0L239.2 114.7L239.7 114.4L240.2 114.8L240.7 114.3L241.2 113.9L241.7 114.4L242.2 114.4L242.7 114.5L243.2 114.1L243.7 114.2L244.2 115.1L244.7 114.1L245.2 115.0L245.7 114.1L246.2 114.8L246.7 115.0L247.2 115.3L247.7 115.0L248.2 114.8L248.7 115.0L249.2 114.3L249.7 113.9L250.2 114.1L250.7 115.3L251.2 115.0L251.7 115.5L252.2 115.2L252.7 114.6L253.2 115.0L253.7 115.6L254.2 115.3L254.7 115.3L255.2 115.3L255.7 115.5L256.2 115.2L256.7 116.2L257.2 115.8L257.7 116.7L258.2 116.8L258.7 116.1L259.2 116.5L259.7 116.6L260.2 116.4L260.7 116.4L261.2 117.1L261.7 117.0L262.2 116.8L262.7 116.9L263.2 117.2L263.7 117.6L264.2 117.5L264.7 117.0L265.2 117.1L265.7 117.1L266.2 116.7L266.7 116.8L267.2 116.5L267.7 116.7L268.2 117.2L268.7 117.3L269.2 117.2L269.7 118.1L270.2 117.2L270.7 117.4L271.2 117.1L271.7 116.6L272.2 116.9L272.7 117.0L273.2 116.6L273.7 116.9L274.2 118.0L274.7 116.8L275.2 117.3L275.7 117.8L276.2 117.6L276.7 117.3L277.2 117.3L277.7 117.2L278.2 117.0L278.7 116.8L279.2 117.2L279.7 116.5L280.2 116.2L280.7 116.6L281.2 116.5L281.7 115.8L282.2 115.8L282.7 115.3L283.2 115.6L283.7 115.6L284.2 115.1L284.7 115.7L285.2 115.2L285.7 115.6L286.2 116.0L286.7 116.3L287.2 117.1L287.7 116.1L288.2 116.8L288.7 116.6L289.2 117.0L289.7 116.0L290.2 116.0L290.7 116.9L291.2 116.6L291.7 116.5L292.2 116.1L292.7 116.6L293.2 116.3L293.7 116.0L294.2 116.3L294.7 116.1L295.2 115.7L295.7 115.7L296.2 115.6L296.7 116.1L297.2 116.4L297.7 116.7L298.2 117.0L298.7 116.4L299.2 117.2L299.7 117.4L300.2 117.2L300.7 116.6L301.2 115.6L301.7 116.6L302.2 116.1L302.7 116.7L303.2 115.8L303.7 116.6L304.2 116.2L304.7 115.8L305.2 116.0L305.7 116.0L306.2 116.3L306.7 116.4L307.2 116.9L307.7 117.0L308.2 116.9L308.7 117.2L309.2 117.6L309.7 117.6L310.2 117.1L310.7 116.8L311.2 117.8L311.7 117.3L312.2 117.9L312.7 116.8L313.2 117.3L313.7 117.0L314.2 117.1L314.7 117.0L315.2 117.5L315.7 117.4L316.2 117.1L316.7 117.2L317.2 117.1L317.7 117.1L318.2 117.0L318.7 116.6L319.2 116.5L319.7 116.8L320.2 116.2L320.7 117.3L321.2 117.4L321.7 116.2L322.2 116.9L322.7 117.3L323.2 116.3L323.7 117.2L324.2 117.4L324.7 117.1L325.2 117.3L325.7 116.8L326.2 117.2L326.7 117.0L327.2 116.7L327.7 116.8L328.2 116.3L328.7 116.5L329.2 117.5L329.7 117.6L330.2 116.9L330.7 116.7L331.2 116.5L331.7 117.6L332.2 117.1L332.7 117.5L333.2 117.1L333.7 117.3L334.2 116.7L334.7 116.2L335.2 116.3L335.7 116.9L336.2 116.0L336.7 116.9L337.2 116.7L337.7 117.4L338.2 116.8L338.7 116.8L339.2 117.4L339.7 115.6L340.2 116.9L340.7 116.4L341.2 115.8L341.7 116.3L342.2 115.9L342.7 116.6L343.2 116.6L343.7 117.0L344.2 116.3L344.7 116.3L345.2 117.0L345.7 116.3L346.2 115.9L346.7 115.6L347.2 115.7L347.7 116.0L348.2 115.5L348.7 116.0L349.2 116.0L349.7 115.4L350.2 116.2L350.7 116.7L351.2 116.0L351.7 115.9L352.2 115.9L352.7 115.5L353.2 115.0L353.7 115.7L354.2 115.5L354.7 115.4L355.2 116.1L355.7 115.5L356.2 115.0L356.7 114.9L357.2 115.5L357.7 115.1L358.2 114.0L358.7 114.9L359.2 114.5L359.7 114.6L360.2 115.4L360.7 115.4L361.2 114.9L361.7 115.3L362.2 115.5L362.7 115.1L363.2 115.1L363.7 114.4L364.2 114.9L364.7 114.8L365.2 114.0L365.7 113.7L366.2 114.0L366.7 114.5L367.2 114.1L367.7 113.9L368.2 113.8L368.7 113.0L369.2 113.5L369.7 113.5L370.2 113.3L370.7 113.8L371.2 113.1L371.7 113.0L372.2 113.4L372.7 113.2L373.2 112.9L373.7 112.8L374.2 112.8L374.7 112.7L375.2 112.3L375.7 113.1L376.2 113.6L376.7 112.9L377.2 112.4L377.7 112.5L378.2 111.7L378.7 110.5L379.2 110.2L379.7 109.5L380.2 109.9L380.7 108.8L381.2 109.6L381.7 108.8L382.2 109.1L382.7 108.8L383.2 109.1L383.7 109.5L384.2 109.5L384.7 109.1L385.2 109.7L385.7 110.1L386.2 110.9L386.7 110.0L387.2 110.1L387.7 109.9L388.2 110.1L388.7 110.4L389.2 109.7L389.7 110.6L390.2 110.4L390.7 110.0L391.2 109.7L391.7 110.2L392.2 108.6L392.7 108.7L393.2 109.5L393.7 108.2L394.2 108.7L394.7 108.4L395.2 107.9L395.7 107.7L396.2 107.7L396.7 107.6L397.2 107.4L397.7 107.1L398.2 106.4L398.7 105.9L399.2 105.7L399.7 104.7L400.2 104.0L400.7 104.3L401.2 102.7L401.7 103.1L402.2 102.9L402.7 101.4L403.2 100.5L403.7 100.6L404.2 100.6L404.7 99.8L405.2 100.2L405.7 99.8L406.2 99.0L406.7 99.4L407.2 98.4L407.7 98.5L408.2 98.4L408.7 98.5L409.2 97.8L409.7 97.7L410.2 96.2L410.7 97.6L411.2 95.7L411.7 95.9L412.2 96.2L412.7 95.6L413.2 95.6L413.7 94.5L414.2 94.4L414.7 94.6L415.2 94.5L415.7 94.8L416.2 94.8L416.7 94.6L417.2 95.3L417.7 94.9L418.2 95.4L418.7 96.0L419.2 95.8L419.7 96.4L420.2 96.9L420.7 97.6L421.2 97.8L421.7 98.0L422.2 98.2L422.7 97.9L423.2 98.5L423.7 98.9L424.2 99.4L424.7 99.8L425.2 99.8L425.7 100.2L426.2 101.1L426.7 100.7L427.2 100.4L427.7 101.3L428.2 101.7L428.7 101.9L429.2 103.0L429.7 102.8L430.2 103.3L430.7 102.8L431.2 103.7L431.7 104.0L432.2 104.4L432.7 104.7L433.2 105.6L433.7 105.4L434.2 107.0L434.7 108.3L435.2 108.4L435.7 107.6L436.2 108.9L436.7 109.0L437.2 109.5L437.7 109.9L438.2 110.6L438.7 110.6L439.2 110.2L439.7 110.9L440.2 110.9L440.7 111.7L441.2 110.4L441.7 111.0L442.2 110.7L442.7 111.1L443.2 110.3L443.7 110.7L444.2 111.0L444.7 110.8L445.2 110.6L445.7 110.9L446.2 110.9L446.7 111.0L447.2 111.6L447.7 112.1L448.2 112.6L448.7 112.2L449.2 112.9L449.7 113.5L450.2 112.5L450.7 113.0L451.2 112.7L451.7 113.3L452.2 113.4L452.7 113.0L453.2 112.7L453.7 112.2L454.2 112.5L454.7 112.3L455.2 112.6L455.7 113.1L456.2 113.2L456.7 112.6L457.2 112.6L457.7 112.6L458.2 112.8L458.7 112.8L459.2 113.7L459.7 112.9L460.2 113.3L460.7 113.1L461.2 113.7L461.7 114.0L462.2 113.6L462.7 113.3L463.2 113.2L463.7 113.4L464.2 112.9L464.7 113.6L465.2 113.3L465.7 112.4L466.2 111.4L466.7 110.0L467.2 109.9L467.7 107.5L468.2 106.4L468.7 106.2L469.2 104.3L469.7 103.4L470.2 102.5L470.7 102.9L471.2 102.7L471.7 102.6L472.2 102.8L472.7 104.6L473.2 105.8L473.7 108.4L474.2 111.1L474.7 112.1L475.2 112.2L475.7 112.7L476.2 112.8L476.7 111.7L477.2 112.3L477.7 111.6L478.2 111.8L478.7 112.6L479.2 111.8L479.7 112.4L480.2 113.1L480.7 112.9L481.2 112.2L481.7 112.9L482.2 112.8L482.7 112.5L483.2 113.5L483.7 112.7L484.2 112.6L484.7 112.9L485.2 112.5L485.7 111.8L486.2 112.3L486.7 112.5L487.2 112.5L487.7 113.0L488.2 113.1L488.7 113.2L489.2 113.1L489.7 113.3L490.2 114.0L490.7 112.6L491.2 113.6L491.7 113.3L492.2 112.8L492.7 113.0L493.2 113.3L493.7 112.6L494.2 113.3L494.7 113.5L495.2 112.9L495.7 113.2L496.2 113.6L496.7 113.1L497.2 112.7L497.7 112.4L498.2 112.5L498.7 113.7L499.2 113.4L499.7 113.6L500.2 113.8L500.7 113.7L501.2 114.7L501.7 114.2L502.2 114.4L502.7 113.4L503.2 114.0L503.7 114.1L504.2 113.5L504.7 113.8L505.2 114.0L505.7 114.9L506.2 114.8L506.7 114.6L507.2 115.2L507.7 114.7L508.2 114.9L508.7 114.7L509.2 114.3L509.7 114.9L510.2 114.5L510.7 113.6L511.2 114.4L511.7 115.1L512.2 113.7L512.7 114.9L513.2 114.7L513.7 114.2L514.2 114.8L514.7 114.4L515.2 114.3L515.7 115.0L516.2 114.9L516.7 114.1L517.2 114.6L517.7 114.8L518.2 114.4L518.7 115.5L519.2 114.9L519.7 115.5L520.2 115.7L520.7 115.3L521.2 116.0L521.7 116.0L522.2 116.2L522.7 115.9L523.2 116.3L523.7 116.1L524.2 116.2L524.7 116.0L525.2 115.1L525.7 115.4L526.2 115.9L526.7 116.2L527.2 115.6L527.7 115.8L528.2 115.8L528.7 115.4L529.2 115.6L529.7 114.7L530.2 115.0L530.7 114.4L531.2 114.7L531.7 114.1L532.2 114.3L532.7 114.7L533.2 114.1L533.7 114.6L534.2 115.1L534.7 115.1L535.2 115.2L535.7 115.5L536.2 115.2L536.7 115.7L537.2 115.6L537.7 115.8L538.2 115.1L538.7 115.2L539.2 114.4L539.7 114.7L540.2 114.1L540.7 114.5L541.2 114.4L541.7 115.0L542.2 114.0L542.7 114.7L543.2 114.6L543.7 114.8L544.2 114.1L544.7 114.0L545.2 114.5L545.7 113.7L546.2 113.8L546.7 114.4L547.2 113.3L547.7 114.2L548.2 114.2L548.7 114.3L549.2 113.5L549.7 113.7L550.2 113.9L550.7 113.9L551.2 114.4L551.7 114.0L552.2 114.6L552.7 114.1L553.2 114.4L553.7 114.1L554.2 114.2L554.7 114.6L555.2 114.7L555.7 114.0L556.2 114.7L556.7 114.1L557.2 114.8L557.7 113.9L558.2 114.5L558.7 115.1L559.2 115.1L559.7 115.1L560.2 115.6L560.7 115.7L561.2 115.1L561.7 115.6L562.2 115.1L562.7 115.0L563.2 115.9L563.7 115.2L564.2 115.3L564.7 115.7L565.2 115.0L565.7 115.0L566.2 115.3L566.7 115.5L567.2 115.9L567.7 115.5L568.2 115.3L568.7 115.1L569.2 115.5L569.7 115.5L570.2 116.1L570.7 115.1L571.2 115.1L571.7 115.0L572.2 115.5L572.7 115.7L573.2 116.0L573.7 114.7L574.2 115.3L574.7 114.9L575.2 115.6L575.7 115.1L576.2 115.5L576.7 114.8L577.2 115.1L577.7 114.8L578.2 114.3L578.7 114.7L579.2 114.1L579.7 113.2L580.2 113.9L580.7 113.4L581.2 113.9L581.7 114.2L582.2 113.6L582.7 113.6L583.2 112.9L583.7 113.0L584.2 113.0L584.7 114.0L585.2 113.2L585.7 113.6L586.2 113.0L586.7 113.6L587.2 113.9L587.7 113.9L588.2 114.0L588.7 114.3L589.2 114.4L589.7 114.0L590.2 114.1L590.7 114.9L591.2 114.9L591.7 114.0L592.2 114.5L592.7 113.4L593.2 113.6L593.7 114.0L594.2 112.9L594.7 113.6L595.2 113.7L595.7 113.5L596.2 114.4L596.7 113.9L597.2 114.1L597.7 113.9L598.2 114.3L598.7 114.3L599.2 114.5L599.7 113.7L600.2 113.3L600.7 114.0L601.2 113.2L601.7 113.6L602.2 114.1L602.7 113.8L603.2 113.0L603.7 113.4L604.2 113.6L604.7 114.4L605.2 113.9L605.7 114.6L606.2 114.5L606.7 114.6L607.2 114.6L607.7 114.3L608.2 115.0L608.7 114.3L609.2 114.6L609.7 113.4L610.2 112.8L610.7 113.7L611.2 112.5L611.7 112.8L612.2 112.7L612.7 112.9L613.2 113.0L613.7 113.0L614.2 113.3L614.7 114.1L615.2 114.0L615.7 115.0L616.2 114.5L616.7 114.9L617.2 114.2L617.7 114.6L618.2 114.2L618.7 114.2L619.2 114.6L619.7 114.6L620.2 115.6L620.7 114.1L621.2 114.2L621.7 114.6L622.2 114.2L622.7 114.2L623.2 114.5L623.7 114.1L624.2 113.9L624.7 113.7L625.2 114.3L625.7 114.7L626.2 114.7L626.7 115.2L627.2 114.8L627.7 115.1L628.2 114.8L628.7 114.4L629.2 115.3L629.7 114.8L630.2 115.1L630.7 114.5L631.2 114.0L631.7 114.1L632.2 114.1L632.7 113.8L633.2 113.9L633.7 114.1L634.2 113.9L634.7 114.1L635.2 113.9L635.7 113.6L636.2 113.4L636.7 112.9L637.2 113.8L637.7 114.0L638.2 113.2L638.7 113.2L639.2 113.2L639.7 113.6L640.2 113.5L640.7 113.3L641.2 113.4L641.7 112.9L642.2 113.7L642.7 113.9L643.2 114.3L643.7 113.9L644.2 113.9L644.7 114.1L645.2 115.0L645.7 113.7L646.2 114.8L646.7 113.7L647.2 114.1L647.7 113.8L648.2 114.7L648.7 114.2L649.2 114.3L649.7 114.7L650.2 114.9L650.7 114.3L651.2 114.7L651.7 114.4L652.2 114.9L652.7 113.5L653.2 115.0L653.7 113.9L654.2 113.1L654.7 113.9L655.2 113.5L655.7 113.7L656.2 113.7L656.7 113.9L657.2 112.8L657.7 113.6L658.2 113.9L658.7 113.0L659.2 113.9L659.7 114.0L660.2 113.5L660.7 112.9L661.2 113.5L661.7 113.1L662.2 113.7L662.7 113.0L663.2 113.4L663.7 113.5L664.2 113.7L664.7 113.4L665.2 113.7L665.7 114.1L666.2 114.0L666.7 114.0L667.2 114.3L667.7 114.0L668.2 114.2L668.7 113.8L669.2 113.8L669.7 113.4L670.2 113.1L670.7 114.0L671.2 114.2L671.7 114.2L672.2 113.8L672.7 114.6L673.2 114.3L673.7 114.4L674.2 114.1L674.7 114.2L675.2 114.2L675.7 114.6L676.2 114.1L676.7 114.3L677.2 114.0L677.7 113.6L678.2 114.0L678.7 114.0L679.2 113.9L679.7 112.8L680.2 114.3L680.7 114.0L681.2 113.7L681.7 114.9L682.2 114.3L682.7 114.6L683.2 114.3L683.7 113.3L684.2 114.5L684.7 113.4L685.2 114.1L685.7 113.5L686.2 113.2L686.7 112.6L687.2 113.4L687.7 113.1L688.2 113.5L688.7 113.0L689.2 113.7L689.7 113.3L690.2 113.4L690.7 114.5L691.2 114.2L691.7 113.8L692.2 114.4L692.7 113.8L693.2 114.1L693.7 114.3L694.2 113.9L694.7 113.6L695.2 114.1L695.7 113.5L696.2 113.3L696.7 113.4L697.2 113.4L697.7 114.0L698.2 113.9L698.7 113.4L699.2 114.5L699.7 114.5L700.2 114.1L700.7 113.7L701.2 114.0L701.7 113.7L702.2 114.0L702.7 113.7L703.2 114.2L703.7 113.1L704.2 113.5L704.7 113.9L705.2 113.7L705.7 113.9L706.2 113.7L706.7 114.8L707.2 114.0L707.7 114.1L708.2 113.4L708.7 113.3L709.2 113.4L709.7 114.0L710.2 113.9L710.7 114.2L711.2 114.1L711.7 114.2L712.2 113.7L712.7 113.6L713.2 114.4L713.7 113.5L714.2 113.9L714.7 113.3L715.2 112.9L715.7 113.1L716.2 112.5L716.7 112.7L717.2 113.2L717.7 112.9L718.2 113.6L718.7 113.4L719.2 113.9L719.7 113.6L720.2 114.7L720.7 113.5L721.2 114.3L721.7 114.3L722.2 113.0L722.7 113.3L723.2 113.2L723.7 113.6L724.2 113.4L724.7 113.4L725.2 113.7L725.7 114.2L726.2 113.0L726.7 113.4L727.2 113.3L727.7 113.7L728.2 112.5L728.7 112.7L729.2 113.0L729.7 113.0L730.2 113.5L730.7 113.2L731.2 112.6L731.7 113.0L732.2 112.6L732.7 112.8L733.2 112.8L733.7 112.3L734.2 112.5L734.7 112.2L735.2 110.8L735.7 109.3L736.2 109.6L736.7 108.8L737.2 106.8L737.7 106.0L738.2 105.6L738.7 105.2L739.2 106.1L739.7 106.7L740.2 107.3L740.7 108.4L741.2 109.6L741.7 110.8L742.2 112.9L742.7 113.5L743.2 113.7L743.7 114.2L744.2 114.0L744.7 114.4L745.2 114.6L745.7 114.0L746.2 113.5L746.7 113.1L747.2 114.0L747.7 113.3L748.2 112.9L748.7 113.0L749.2 112.6L749.7 113.5L750.2 113.1L750.7 112.9L751.2 112.4L751.7 113.7L752.2 112.9L752.7 112.0L753.2 112.6L753.7 112.8L754.2 112.9L754.7 112.6L755.2 113.6L755.7 113.6L756.2 113.5L756.7 113.3L757.2 112.9L757.7 113.4L758.2 113.4L758.7 113.0L759.2 113.5L759.7 113.7L760.2 113.2L760.7 113.2L761.2 113.4L761.7 114.1L762.2 114.1L762.7 113.0L763.2 113.5L763.7 114.8L764.2 113.8L764.7 114.5L765.2 113.9L765.7 113.9L766.2 113.1L766.7 113.1L767.2 113.1L767.7 112.9L768.2 112.9L768.7 113.5L769.2 113.0L769.7 113.6L770.2 113.0L770.7 113.2L771.2 113.7L771.7 113.7L772.2 113.9L772.7 113.7L773.2 113.8L773.7 113.7L774.2 113.4L774.7 113.8L775.2 114.3L775.7 113.7L776.2 113.6L776.7 113.9L777.2 113.1L777.7 113.7L778.2 113.6L778.7 114.5L779.2 113.7L779.7 114.1L780.2 114.0L780.7 114.0L781.2 113.8L781.7 114.5L782.2 113.7L782.7 113.6L783.2 112.9L783.7 112.8L784.2 112.8L784.7 112.5L785.2 113.0L785.7 112.5L786.2 112.5L786.7 112.6L787.2 112.3L787.7 112.2L788.2 112.5L788.7 113.0L789.2 113.0L789.7 112.9L790.2 114.0L790.7 113.6L791.2 113.7L791.7 113.9L792.2 112.9L792.7 113.6L793.2 113.2L793.7 113.2L794.2 112.4L794.7 112.6L795.2 112.8L795.7 112.8L796.2 113.4L796.7 112.8L797.2 113.0L797.7 112.9L798.2 112.6L798.7 113.0L799.2 113.2L799.7 114.0L800.2 113.9L800.7 113.3L801.2 113.2L801.7 113.5L802.2 113.3L802.7 114.4L803.2 114.0L803.7 113.8L804.2 113.8L804.7 113.7L805.2 114.0L805.7 112.9L806.2 113.5L806.7 113.1L807.2 113.5L807.7 112.2L808.2 113.2L808.7 112.9L809.2 113.5L809.7 113.1L810.2 113.6L810.7 113.8L811.2 114.4L811.7 113.1L812.2 113.4L812.7 113.4L813.2 113.3L813.7 113.6L814.2 113.5L814.7 113.3L815.2 112.6L815.7 113.2L816.2 112.5L816.7 113.0L817.2 113.5L817.7 112.8L818.2 113.4L818.7 113.7L819.2 113.7L819.7 113.6L820.2 113.8L820.7 114.0L821.2 113.4L821.7 113.5L822.2 113.7L822.7 113.1L823.2 112.9L823.7 113.6L824.2 113.7L824.7 113.9L825.2 113.8L825.7 113.7L826.2 114.7L826.7 114.6L827.2 114.5L827.7 113.9L828.2 114.0L828.7 113.4L829.2 113.2L829.7 113.5L830.2 113.5L830.7 113.5L831.2 113.3L831.7 113.9L832.2 112.8L832.7 113.6L833.2 113.1L833.7 113.9L834.2 113.5L834.7 114.9L835.2 114.8L835.7 113.8L836.2 114.9L836.7 114.4L837.2 114.6L837.7 114.2L838.2 114.2L838.7 113.7L839.2 114.0L839.7 114.1L840.2 113.5L840.7 113.8L841.2 114.2L841.7 114.4L842.2 114.0L842.7 114.6L843.2 113.7L843.7 113.9L844.2 114.0L844.7 113.2L845.2 114.0L845.7 113.7L846.2 113.5L846.7 114.5L847.2 114.6L847.7 114.0L848.2 114.5L848.7 114.5L849.2 114.2L849.7 115.0L850.2 114.3L850.7 114.1L851.2 114.5L851.7 114.6L852.2 114.7L852.7 114.9L853.2 114.7L853.7 115.5L854.2 114.8L854.7 115.6L855.2 115.3L855.7 114.7L856.2 114.5L856.7 114.2L857.2 114.3L857.7 115.0L858.2 114.6L858.7 114.5L859.2 115.6L859.7 115.1L860.2 115.2L860.7 116.1L861.2 115.4L861.7 115.3L862.2 114.8L862.7 114.6L863.2 114.6L863.7 114.6L864.2 115.3L864.7 114.1L865.2 113.7L865.7 114.5L866.2 114.0L866.7 114.6L867.2 114.1L867.7 114.7L868.2 115.2L868.7 114.7L869.2 114.7L869.7 115.3L870.2 114.7L870.7 114.9L871.2 114.8L871.7 114.4L872.2 115.2L872.7 114.6L873.2 115.4L873.7 115.3L874.2 114.9L874.7 115.2L875.2 115.7L875.7 115.2L876.2 116.2L876.7 115.1L877.2 116.0L877.7 115.1L878.2 115.7L878.7 116.1L879.2 115.1L879.7 115.9L880.2 115.4L880.7 115.3L881.2 115.5L881.7 115.6L882.2 115.6L882.7 115.4L883.2 115.1L883.7 114.3L884.2 115.6L884.7 115.7L885.2 115.1L885.7 114.8L886.2 114.6L886.7 115.1L887.2 115.2L887.7 114.8L888.2 115.1L888.7 115.4L889.2 115.2L889.7 115.1L890.2 115.1L890.7 114.8L891.2 115.1L891.7 115.1L892.2 114.7L892.7 114.9L893.2 115.2L893.7 115.3L894.2 114.1L894.7 114.5L895.2 115.6L895.7 115.5L896.2 115.7L896.7 115.0L897.2 115.6L897.7 115.8L898.2 115.8L898.7 115.4L899.2 115.4L899.7 115.7L900.2 115.7L900.7 116.3L901.2 115.1L901.7 115.9L902.2 116.7L902.7 116.0L903.2 116.4L903.7 116.8L904.2 115.8L904.7 116.3L905.2 116.9L905.7 115.8L906.2 115.6L906.7 116.9L907.2 116.4L907.7 116.6L908.2 116.6L908.7 117.0L909.2 116.3L909.7 116.6L910.2 116.4L910.7 115.9L911.2 116.2L911.7 115.8L912.2 115.5L912.7 116.7L913.2 114.9L913.7 115.2L914.2 115.3L914.7 115.5L915.2 115.7L915.7 115.5L916.2 116.5L916.7 115.5L917.2 115.4L917.7 115.9L918.2 115.7L918.7 115.7L919.2 116.2L919.7 116.0L920.2 116.3L920.7 115.5L921.2 116.3L921.7 116.2L922.2 116.0L922.7 115.6L923.2 116.0L923.7 115.5L924.2 116.2L924.7 116.1L925.2 116.2L925.7 117.1L926.2 116.6L926.7 115.3L927.2 116.2L927.7 115.9L928.2 115.8L928.7 115.5L929.2 116.1L929.7 114.9L930.2 115.6L930.7 116.5L931.2 116.5L931.7 116.9L932.2 116.4L932.7 116.4L933.2 116.9L933.7 116.7L934.2 115.8L934.7 116.7L935.2 115.8L935.7 116.4L936.2 116.1L936.7 116.3L937.2 116.4L937.7 115.7L938.2 116.4L938.7 116.2L939.2 116.2L939.7 116.4L940.2 116.3L940.7 116.6L941.2 116.7L941.7 116.3L942.2 116.7L942.7 116.1L943.2 115.4L943.7 115.8L944.2 115.7L944.7 114.9L945.2 115.6L945.7 115.4L946.2 115.7L946.7 115.6L947.2 115.9L947.7 115.9L948.2 115.1L948.7 116.1L949.2 116.3L949.7 116.4L950.2 116.6L950.7 116.3L951.2 116.7L951.7 116.5L952.2 116.0L952.7 116.0L953.2 116.8L953.7 116.6L954.2 115.7L954.7 116.0L955.2 116.9L955.7 116.5L956.2 115.8L956.7 116.7L957.2 116.9L957.7 116.8L958.2 116.6L958.7 116.5L959.2 116.5L959.7 116.6L960.2 117.0L960.7 118.0L961.2 118.2L961.7 117.4L962.2 117.0L962.7 117.6L963.2 117.5L963.7 117.3L964.2 116.6L964.7 117.1L965.2 116.8L965.7 117.1L966.2 116.6L966.7 117.4L967.2 117.1L967.7 117.4L968.2 117.4L968.7 117.4L969.2 117.2L969.7 117.0L970.2 116.8L970.7 116.6L971.2 116.6L971.7 116.7L972.2 117.7L972.7 117.6L973.2 117.4L973.7 117.4L974.2 118.6L974.7 118.3L975.2 118.4L975.7 118.5L976.2 117.2L976.7 117.5L977.2 117.7L977.7 118.1L978.2 117.7L978.7 117.9L979.2 118.1L979.7 118.2L980.2 118.4L980.7 118.2L981.2 118.1L981.7 118.3L982.2 118.8L982.7 119.1L983.2 118.7L983.7 118.6L984.2 119.1L984.7 118.8L985.2 118.8L985.7 118.5L986.2 118.3L986.7 118.6L987.2 118.3L987.7 118.6L988.2 117.8L988.7 118.2L989.2 118.2L989.7 117.9L990.2 118.2L990.7 118.1L991.2 118.5L991.7 118.5L992.2 119.6L992.7 118.2L993.2 118.7L993.7 118.2L994.2 118.4L994.7 118.2L995.2 118.0L995.7 119.0L996.2 119.1L996.7 118.2L997.2 119.0L997.7 119.0L998.2 118.6L998.7 119.3L999.2 119.4L999.7 119.2L1000.2 119.2L1000.7 119.5L1001.2 118.5L1001.7 119.0L1002.2 119.2L1002.7 117.2L1003.2 118.2L1003.7 118.8L1004.2 118.5L1004.7 118.3L1005.2 119.3L1005.7 119.3L1006.2 118.6L1006.7 119.6L1007.2 119.3L1007.7 119.4L1008.2 118.9L1008.7 119.5L1009.2 119.3L1009.7 118.9L1010.2 119.1L1010.7 119.7L1011.2 119.7L1011.7 118.5L1012.2 119.1L1012.7 118.7L1013.2 118.5L1013.7 118.7L1014.2 119.1L1014.7 118.7L1015.2 118.2L1015.7 118.7L1016.2 119.1L1016.7 119.6L1017.2 119.3L1017.7 119.6L1018.2 119.7L1018.7 119.8L1019.2 118.7L1019.7 119.8L1020.2 119.2L1020.7 118.9L1021.2 118.3L1021.7 118.7L1022.2 119.3L1022.7 118.3L1023.2 117.9L1023.7 118.7L1024.2 118.6L1024.7 118.8L1025.2 118.5L1025.7 119.4L1026.2 119.6L1026.7 117.9L1027.2 119.5L1027.7 119.6L1028.2 118.9L1028.7 118.3L1029.2 119.2L1029.7 120.0L1030.2 119.5L1030.7 120.4L1031.2 119.7L1031.7 119.3L1032.2 118.8L1032.7 119.3L1033.2 118.0L1033.7 118.1L1034.2 118.2L1034.7 118.6L1035.2 118.8L1035.7 118.6L1036.2 119.0L1036.7 120.2L1037.2 119.6L1037.7 119.4L1038.2 119.2L1038.7 119.2L1039.2 118.7L1039.7 119.3L1040.2 119.2L1040.7 118.9L1041.2 119.4L1041.7 119.2L1042.2 119.3L1042.7 120.0L1043.2 119.8L1043.7 119.6L1044.2 120.5L1044.7 119.8L1045.2 120.0L1045.7 120.2L1046.2 119.0L1046.7 119.3L1047.2 119.8L1047.7 119.5L1048.2 119.6L1048.7 119.9L1049.2 120.0L1049.7 120.0L1050.2 120.1L1050.7 119.7L1051.2 120.0L1051.7 119.2L1052.2 119.5L1052.7 118.8L1053.2 119.3L1053.7 118.6L1054.2 119.2L1054.7 118.9L1055.2 119.6L1055.7 118.9L1056.2 119.2L1056.7 119.7L1057.2 119.3L1057.7 120.2L1058.2 119.6L1058.7 119.9L1059.2 120.1L1059.7 120.0L1060.2 119.6L1060.7 119.5L1061.2 119.4L1061.7 119.7L1062.2 119.6L1062.7 119.5L1063.2 119.8L1063.7 119.0L1064.2 118.8L1064.7 119.4L1065.2 120.0L1065.7 118.9L1066.2 119.2L1066.7 119.2L1067.2 119.5L1067.7 119.5L1068.2 119.0L1068.7 119.5L1069.2 119.2L1069.7 119.6L1070.2 120.1L1070.7 118.7L1071.2 119.1L1071.7 119.2L1072.2 119.4L1072.7 120.0L1073.2 120.1L1073.7 120.7L1074.2 120.6L1074.7 120.2L1075.2 120.0L1075.7 120.3L1076.2 120.2L1076.7 119.8L1077.2 120.3L1077.7 119.8L1078.2 119.8L1078.7 119.8L1079.2 119.6L1079.7 119.7L1080.2 120.0L1080.7 119.8L1081.2 119.4L1081.7 120.4L1082.2 120.4L1082.7 120.3L1083.2 120.2L1083.7 119.7L1084.2 119.4L1084.7 119.3L1085.2 118.9L1085.7 119.3L1086.2 118.6L1086.7 119.2L1087.2 119.4L1087.7 119.3L1088.2 119.6L1088.7 120.0L1089.2 120.4L1089.7 120.1L1090.2 120.8L1090.7 119.8L1091.2 119.7L1091.7 119.7L1092.2 119.7L1092.7 119.8L1093.2 119.9L1093.7 119.6L1094.2 120.3L1094.7 119.1L1095.2 120.0L1095.7 120.0L1096.2 119.6L1096.7 119.6L1097.2 120.2L1097.7 120.6L1098.2 120.2L1098.7 119.9L1099.2 119.8L1099.7 119.7L1100.2 119.8L1100.7 120.1L1101.2 120.2L1101.7 120.0L1102.2 119.5L1102.7 120.1L1103.2 120.6L1103.7 119.8L1104.2 120.8L1104.7 120.6L1105.2 120.7L1105.7 120.0L1106.2 119.8L1106.7 119.9L1107.2 119.6L1107.7 119.5L1108.2 119.4L1108.7 119.9L1109.2 120.2L1109.7 119.5L1110.2 119.9L1110.7 119.7L1111.2 120.1L1111.7 120.5L1112.2 120.3L1112.7 120.3L1113.2 120.1L1113.7 120.9L1114.2 121.1L1114.7 119.7L1115.2 120.4L1115.7 120.0L1116.2 119.5L1116.7 120.7L1117.2 120.4L1117.7 121.1L1118.2 120.1L1118.7 120.2L1119.2 119.7L1119.7 120.2L1120.2 119.4L1120.7 119.8L1121.2 120.3L1121.7 120.0L1122.2 120.1L1122.7 119.7L1123.2 119.9L1123.7 119.5L1124.2 119.1L1124.7 119.8L1125.2 119.6L1125.7 119.4L1126.2 119.3L1126.7 120.3L1127.2 119.3L1127.7 119.7L1128.2 120.3L1128.7 120.5L1129.2 120.3L1129.7 119.6L1130.2 120.5L1130.7 119.9L1131.2 119.3L1131.7 120.2L1132.2 119.7L1132.7 119.1L1133.2 118.8L1133.7 119.7L1134.2 119.5L1134.7 119.9L1135.2 119.9L1135.7 119.6L1136.2 120.0L1136.7 119.8L1137.2 119.2L1137.7 119.7L1138.2 119.4L1138.7 119.2L1139.2 119.4L1139.7 119.1L1140.2 119.3L1140.7 119.7L1141.2 119.5L1141.7 120.5L1142.2 120.1L1142.7 120.3L1143.2 120.7L1143.7 120.5L1144.2 120.7L1144.7 119.5L1145.2 120.3L1145.7 119.5L1146.2 119.6L1146.7 119.8L1147.2 119.8L1147.7 119.9L1148.2 120.1L1148.7 120.6L1149.2 119.2L1149.7 119.5L1150.2 119.6L1150.7 120.3L1151.2 120.3L1151.7 120.5L1152.2 121.1L1152.7 120.4L1153.2 119.9L1153.7 120.5L1154.2 121.0L1154.7 121.0L1155.2 120.2L1155.7 120.2L1156.2 120.2L1156.7 120.3L1157.2 120.0L1157.7 119.9L1158.2 120.8L1158.7 121.0L1159.2 120.7L1159.7 120.7L1160.2 120.8L1160.7 120.7L1161.2 120.6L1161.7 120.7L1162.2 120.2L1162.7 120.3L1163.2 119.7L1163.7 119.3L1164.2 119.5L1164.7 118.7L1165.2 119.9L1165.7 119.7L1166.2 120.4L1166.7 119.7L1167.2 119.8L1167.7 119.6L1168.2 120.7L1168.7 120.2L1169.2 120.5L1169.7 120.0L1170.2 120.2L1170.7 119.5L1171.2 119.4L1171.7 119.4L1172.2 119.0L1172.7 119.6L1173.2 119.7L1173.7 120.0L1174.2 119.3L1174.7 119.5L1175.2 119.8L1175.7 120.1L1176.2 119.3L1176.7 119.6L1177.2 120.0L1177.7 119.5L1178.2 119.4L1178.7 119.0L1179.2 119.3L1179.7 119.6L1180.2 119.8L1180.7 118.9L1181.2 119.9L1181.7 119.8L1182.2 119.7L1182.7 120.9L1183.2 120.6L1183.7 120.0L1184.2 120.0L1184.7 120.3L1185.2 119.5L1185.7 119.8L1186.2 119.9L1186.7 119.1L1187.2 119.5L1187.7 119.6L1188.2 119.2L1188.7 119.6L1189.2 119.7L1189.7 119.6L1190.2 119.3L1190.7 119.9L1191.2 119.6L1191.7 119.9L1192.2 120.1L1192.7 120.2L1193.2 119.6L1193.7 120.8L1194.2 120.5L1194.7 120.3L1195.2 120.3L1195.7 119.8L1196.2 119.8L1196.7 120.0L1197.2 119.1L1197.7 119.7L1198.2 119.8L1198.7 119.9L1199.2 119.9L1199.7 119.8L1200.2 120.1L1200.7 120.2L1201.2 120.1L1201.7 120.3L1202.2 120.2L1202.7 120.6L1203.2 120.8L1203.7 120.2L1204.2 120.2L1204.7 120.3L1205.2 120.3L1205.7 120.6L1206.2 120.5L1206.7 120.2L1207.2 119.7L1207.7 119.7L1208.2 119.7L1208.7 119.7L1209.2 118.5L1209.7 119.8L1210.2 120.1L1210.7 119.9L1211.2 120.9L1211.7 120.9L1212.2 121.0L1212.7 120.1L1213.2 120.9L1213.7 120.4L1214.2 120.3L1214.7 119.3L1215.2 119.7L1215.7 120.3L1216.2 120.0L1216.7 121.1L1217.2 120.2L1217.7 120.9L1218.2 120.6L1218.7 121.5L1219.2 120.5L1219.7 121.1L1220.2 120.6L1220.7 120.5L1221.2 121.1L1221.7 121.4L1222.2 120.5L1222.7 120.9L1223.2 120.5L1223.7 120.2L1224.2 120.2L1224.7 120.2L1225.2 120.0L1225.7 120.3L1226.2 120.4L1226.7 119.9L1227.2 119.1L1227.7 120.3L1228.2 119.9L1228.7 120.4L1229.2 119.9L1229.7 120.4L1230.2 120.3L1230.7 120.3L1231.2 120.5L1231.7 120.8L1232.2 120.1L1232.7 121.2L1233.2 121.0L1233.7 120.6L1234.2 119.7L1234.7 120.5L1235.2 120.1L1235.7 120.7L1236.2 120.1L1236.7 120.4L1237.2 121.0L1237.7 120.0L1238.2 120.8L1238.7 121.0L1239.2 120.3L1239.7 120.8L1240.2 121.1L1240.7 121.0L1241.2 121.2L1241.7 120.7L1242.2 119.7L1242.7 120.4L1243.2 120.2L1243.7 120.2L1244.2 120.0L1244.7 121.3L1245.2 121.4L1245.7 120.9L1246.2 120.5L1246.7 120.4L1247.2 120.3L1247.7 121.0L1248.2 120.0L1248.7 121.1L1249.2 120.6L1249.7 120.8L1250.2 120.9L1250.7 121.4L1251.2 120.8L1251.7 120.5L1252.2 120.8L1252.7 120.9L1253.2 120.9L1253.7 121.0L1254.2 120.7L1254.7 121.2L1255.2 120.7L1255.7 121.6L1256.2 121.1L1256.7 120.8L1257.2 121.4L1257.7 121.4L1258.2 121.2L1258.7 120.7L1259.2 120.9L1259.7 121.8L1260.2 122.5L1260.7 121.9L1261.2 121.9L1261.7 121.9L1262.2 121.4L1262.7 122.1L1263.2 121.4L1263.7 121.7L1264.2 121.4L1264.7 121.2L1265.2 121.3L1265.7 121.1L1266.2 121.2L1266.7 121.9L1267.2 121.4L1267.7 120.9L1268.2 121.2L1268.7 120.8L1269.2 121.4L1269.7 121.3L1270.2 120.9L1270.7 121.0L1271.2 121.0L1271.7 120.6L1272.2 120.6L1272.7 121.0L1273.2 120.7L1273.7 121.0L1274.2 121.3L1274.7 120.9L1275.2 121.2L1275.7 121.7L1276.2 121.0L1276.7 121.8L1277.2 121.1L1277.7 121.1L1278.2 121.6L1278.7 121.5L1279.2 121.1L1279.7 122.2L1280.2 122.1L1280.7 121.5L1281.2 121.7L1281.7 121.6L1282.2 120.9L1282.7 121.3L1283.2 120.5L1283.7 120.3L1284.2 121.5L1284.7 120.9L1285.2 121.0L1285.7 121.3L1286.2 121.1L1286.7 122.1L1287.2 121.3L1287.7 121.3L1288.2 121.2L1288.7 121.7L1289.2 120.1L1289.7 121.5L1290.2 121.5L1290.7 121.6L1291.2 122.2L1291.7 122.0L1292.2 121.1L1292.7 121.7L1293.2 121.4L1293.7 121.7L1294.2 120.3L1294.7 121.3L1295.2 121.1L1295.7 121.3L1296.2 121.4L1296.7 120.8L1297.2 122.1L1297.7 122.1L1298.2 122.0L1298.7 122.8L1299.2 122.4L1299.7 123.0L1300.2 122.7L1300.7 121.8L1301.2 122.4L1301.7 122.0L1302.2 121.8L1302.7 121.5L1303.2 121.8L1303.7 121.1L1304.2 121.6L1304.7 120.9L1305.2 121.7L1305.7 121.1L1306.2 121.2L1306.7 121.6L1307.2 121.2L1307.7 122.0L1308.2 121.2L1308.7 122.2L1309.2 122.0L1309.7 121.7L1310.2 121.9L1310.7 121.8L1311.2 122.5L1311.7 121.9L1312.2 121.5L1312.7 121.9L1313.2 121.7L1313.7 121.8L1314.2 121.5L1314.7 121.4L1315.2 121.7L1315.7 121.2L1316.2 121.5L1316.7 121.1L1317.2 121.2L1317.7 121.2L1318.2 122.1L1318.7 122.3L1319.2 121.8L1319.7 122.1L1320.2 121.2L1320.7 121.2L1321.2 121.9L1321.7 120.9L1322.2 122.6L1322.7 122.0L1323.2 122.2L1323.7 121.6L1324.2 121.0L1324.7 121.1L1325.2 121.1L1325.7 121.7L1326.2 121.0L1326.7 121.2L1327.2 122.2L1327.7 121.3L1328.2 121.7L1328.7 122.6L1329.2 123.0L1329.7 121.3L1330.2 120.8L1330.7 121.4L1331.2 121.6L1331.7 121.6L1332.2 121.5L1332.7 121.3L1333.2 122.1L1333.7 121.6L1334.2 121.5L1334.7 121.7L1335.2 122.3L1335.7 121.9L1336.2 122.8L1336.7 121.8L1337.2 122.2L1337.7 121.1L1338.2 121.6L1338.7 121.8L1339.2 121.4L1339.7 121.3L1340.2 121.4L1340.7 121.3L1341.2 121.6L1341.7 122.0L1342.2 122.3L1342.7 121.9L1343.2 122.3L1343.7 122.1L1344.2 122.7L1344.7 122.9L1345.2 122.2L1345.7 122.0L1346.2 121.6L1346.7 121.8L1347.2 121.5L1347.7 121.2L1348.2 122.3L1348.7 122.8L1349.2 122.3L1349.7 122.1L1350.2 122.4L1350.7 122.9L1351.2 122.1L1351.7 122.6L1352.2 122.4L1352.7 121.5L1353.2 122.1L1353.7 122.2L1354.2 121.9L1354.7 121.6L1355.2 121.1L1355.7 121.6L1356.2 121.7L1356.7 121.9L1357.2 122.6L1357.7 122.1L1358.2 122.5L1358.7 122.3L1359.2 123.2L1359.7 122.4L1360.2 123.2L1360.7 121.8L1361.2 121.6L1361.7 122.1L1362.2 121.8L1362.7 122.3L1363.2 122.1L1363.7 122.1L1364.2 121.6L1364.7 121.9L1365.2 122.3L1365.7 121.9L1366.2 122.1L1366.7 122.6L1367.2 122.1L1367.7 122.2L1368.2 122.6L1368.7 122.3L1369.2 121.5L1369.7 122.0L1370.2 121.9L1370.7 122.1L1371.2 122.9L1371.7 122.6L1372.2 122.4L1372.7 122.3L1373.2 123.1L1373.7 123.0L1374.2 123.5L1374.7 123.2L1375.2 123.4L1375.7 122.6L1376.2 122.7L1376.7 122.6L1377.2 122.1L1377.7 122.4L1378.2 122.1L1378.7 122.1L1379.2 122.1L1379.7 122.5L1380.2 122.0L1380.7 123.0L1381.2 122.8L1381.7 122.9L1382.2 123.1L1382.7 122.7L1383.2 122.4L1383.7 123.0L1384.2 122.4L1384.7 122.6L1385.2 121.7L1385.7 122.3L1386.2 122.4L1386.7 122.6L1387.2 122.3L1387.7 122.3L1388.2 121.6L1388.7 121.5L1389.2 121.7L1389.7 121.5L1390.2 121.8L1390.7 122.2L1391.2 121.6L1391.7 121.9L1392.2 122.7L1392.7 122.2L1393.2 122.7L1393.7 122.2L1394.2 122.0L1394.7 122.6L1395.2 122.3L1395.7 122.5L1396.2 122.0L1396.7 121.9L1397.2 122.0L1397.7 121.7L1398.2 121.8L1398.7 121.3L1399.2 121.7L1399.7 121.7L1400.2 121.4L1400.7 120.7L1401.2 121.6L1401.7 120.6L1402.2 121.4L1402.7 121.5L1403.2 121.8L1403.7 121.2L1404.2 121.2L1404.7 121.7L1405.2 121.6L1405.7 120.8L1406.2 121.1L1406.7 121.1L1407.2 120.6L1407.7 122.2L1408.2 121.6L1408.7 121.9L1409.2 122.0L1409.7 121.4L1410.2 122.3L1410.7 121.7L1411.2 121.5L1411.7 122.3L1412.2 122.3L1412.7 122.1L1413.2 122.4L1413.7 123.2L1414.2 122.9L1414.7 122.8L1415.2 122.8L1415.7 123.7L1416.2 122.9L1416.7 122.4L1417.2 123.4L1417.7 122.6L1418.2 121.7L1418.7 121.7L1419.2 121.5L1419.7 121.0L1420.2 121.5L1420.7 121.6L1421.2 122.7L1421.7 122.3L1422.2 122.4L1422.7 122.9L1423.2 123.2L1423.7 123.5L1424.2 123.5L1424.7 122.1L1425.2 122.0L1425.7 122.4L1426.2 123.0L1426.7 122.1L1427.2 122.8L1427.7 122.2L1428.2 122.2L1428.7 122.3L1429.2 122.8L1429.7 122.0L1430.2 122.2L1430.7 122.3L1431.2 122.6L1431.7 122.4L1432.2 122.9L1432.7 123.4L1433.2 123.3L1433.7 123.0L1434.2 123.2L1434.7 123.4L1435.2 123.2L1435.7 122.8L1436.2 122.7L1436.7 122.7L1437.2 122.0L1437.7 123.6L1438.2 122.6L1438.7 121.8L1439.2 121.6L1439.7 122.3L1440.2 121.4L1440.7 121.7L1441.2 122.7L1441.7 122.4L1442.2 122.7L1442.7 122.4L1443.2 122.1L1443.7 121.7L1444.2 121.9L1444.7 121.7L1445.2 121.8L1445.7 121.7L1446.2 122.6L1446.7 122.3L1447.2 122.7L1447.7 122.2L1448.2 122.0L1448.7 122.8L1449.2 122.2L1449.7 122.0L1450.2 122.3L1450.7 122.5L1451.2 121.9L1451.7 121.9L1452.2 122.4L1452.7 122.6L1453.2 122.7L1453.7 122.3L1454.2 123.5L1454.7 123.0L1455.2 124.0L1455.7 122.8L1456.2 123.0L1456.7 122.7L1457.2 122.7L1457.7 123.5L1458.2 122.4L1458.7 122.9L1459.2 122.4L1459.7 122.2L1460.2 122.6L1460.7 122.5L1461.2 122.4L1461.7 122.2L1462.2 122.9L1462.7 124.1L1463.2 122.7L1463.7 122.9L1464.2 122.3L1464.7 123.6L1465.2 121.6L1465.7 121.9L1466.2 121.5L1466.7 122.5L1467.2 122.5L1467.7 122.8L1468.2 122.8L1468.7 123.5L1469.2 123.6L1469.7 123.5L1470.2 122.0L1470.7 122.6L1471.2 123.0L1471.7 123.2L1472.2 121.8L1472.7 123.4L1473.2 122.9L1473.7 123.3L1474.2 122.0L1474.7 122.0L1475.2 121.8L1475.7 121.9L1476.2 121.9L1476.7 121.6L1477.2 122.8L1477.7 122.6L1478.2 122.1L1478.7 121.5L1479.2 122.7L1479.7 121.2L1480.2 121.6L1480.7 121.5L1481.2 121.7L1481.7 122.3L1482.2 122.7L1482.7 122.8L1483.2 122.5L1483.7 123.6L1484.2 123.6L1484.7 123.4L1485.2 123.9L1485.7 122.5L1486.2 122.6L1486.7 122.5L1487.2 122.4L1487.7 122.7L1488.2 122.4L1488.7 121.9L1489.2 122.3L1489.7 121.8L1490.2 121.6L1490.7 121.8L1491.2 121.7L1491.7 122.2L1492.2 122.0L1492.7 122.3L1493.2 122.4L1493.7 122.4L1494.2 122.0L1494.7 122.9L1495.2 121.8L1495.7 122.6L1496.2 122.5L1496.7 122.8L1497.2 122.7L1497.7 122.8L1498.2 123.4L1498.7 122.3L1499.2 122.7L1499.7 121.6L1500.2 121.1L1500.7 121.5L1501.2 121.0L1501.7 122.0L1502.2 120.7L1502.7 121.7L1503.2 121.9L1503.7 122.2L1504.2 122.2L1504.7 121.9L1505.2 122.8L1505.7 122.9L1506.2 122.8L1506.7 122.8L1507.2 123.2L1507.7 123.3L1508.2 123.2L1508.7 122.8L1509.2 123.3L1509.7 122.5L1510.2 122.9L1510.7 122.4L1511.2 122.6L1511.7 123.0L1512.2 122.5L1512.7 122.9L1513.2 122.2L1513.7 122.8L1514.2 122.0L1514.7 123.0L1515.2 122.4L1515.7 122.2L1516.2 121.9L1516.7 122.3L1517.2 123.3L1517.7 122.2L1518.2 122.2L1518.7 123.0L1519.2 123.5L1519.7 123.0L1520.2 122.9L1520.7 123.2L1521.2 123.2L1521.7 123.6L1522.2 123.9L1522.7 123.2L1523.2 123.1L1523.7 123.0L1524.2 122.9L1524.7 123.6L1525.2 123.0L1525.7 123.8L1526.2 123.3L1526.7 123.0L1527.2 123.6L1527.7 122.3L1528.2 123.2L1528.7 122.9L1529.2 123.0L1529.7 122.9L1530.2 122.6L1530.7 123.3L1531.2 123.5L1531.7 122.2L1532.2 122.8L1532.7 122.5L1533.2 122.3L1533.7 122.3L1534.2 122.0L1534.7 121.8L1535.2 122.4L1535.7 121.5L1536.2 121.8L1536.7 121.8L1537.2 121.7L1537.7 121.9L1538.2 122.7L1538.7 122.1L1539.2 123.5L1539.7 122.2L1540.2 122.0L1540.7 122.7L1541.2 122.4L1541.7 123.3L1542.2 122.8L1542.7 122.1L1543.2 122.3L1543.7 122.3L1544.2 123.4L1544.7 122.6L1545.2 122.7L1545.7 122.8L1546.2 122.8L1546.7 122.9L1547.2 122.7L1547.7 123.1L1548.2 123.1L1548.7 122.4L1549.2 122.9L1549.7 122.3L1550.2 122.2L1550.7 122.9L1551.2 123.3L1551.7 123.5L1552.2 122.9L1552.7 122.4L1553.2 122.4L1553.7 122.5L1554.2 122.5L1554.7 122.7L1555.2 122.4L1555.7 122.8L1556.2 122.1L1556.7 122.4L1557.2 122.4L1557.7 122.3L1558.2 122.4L1558.7 121.9L1559.2 122.9L1559.7 122.5L1560.2 122.8L1560.7 122.6L1561.2 123.2L1561.7 122.9L1562.2 122.7L1562.7 123.1L1563.2 122.4L1563.7 122.6L1564.2 122.3L1564.7 122.3L1565.2 122.0L1565.7 121.5L1566.2 122.2L1566.7 122.6L1567.2 123.4L1567.7 123.6L1568.2 123.4L1568.7 123.4L1569.2 122.0L1569.7 122.6L1570.2 122.2L1570.7 122.8L1571.2 122.8L1571.7 122.8L1572.2 122.9L1572.7 122.9L1573.2 122.8L1573.7 122.6L1574.2 123.2L1574.7 122.9L1575.2 123.3L1575.7 122.7L1576.2 122.7L1576.7 122.4L1577.2 122.9L1577.7 122.2L1578.2 121.6L1578.7 122.2L1579.2 122.3L1579.7 122.6L1580.2 122.5L1580.7 123.1L1581.2 122.7L1581.7 123.0L1582.2 123.3L1582.7 123.3L1583.2 123.5L1583.7 123.1L1584.2 123.5L1584.7 123.3L1585.2 123.6L1585.7 123.0L1586.2 123.4L1586.7 122.8L1587.2 123.2L1587.7 123.2L1588.2 123.0L1588.7 122.2L1589.2 122.8L1589.7 121.6L1590.2 122.4L1590.7 121.9L1591.2 122.5L1591.7 122.2L1592.2 122.8L1592.7 122.6L1593.2 123.4L1593.7 123.7L1594.2 123.2L1594.7 123.1L1595.2 122.8L1595.7 122.4L1596.2 122.2L1596.7 121.9L1597.2 122.1L1597.7 122.7L1598.2 122.4L1598.7 122.8L1599.2 122.4L1599.7 123.6L1600.2 123.2L1600.7 122.6L1601.2 123.3L1601.7 122.9L1602.2 123.2L1602.7 122.8L1603.2 122.8L1603.7 123.4L1604.2 123.1L1604.7 123.0L1605.2 123.0L1605.7 122.6L1606.2 122.4L1606.7 122.8L1607.2 122.1L1607.7 122.9L1608.2 123.5L1608.7 123.2L1609.2 124.2L1609.7 123.4L1610.2 123.1L1610.7 123.5L1611.2 123.0L1611.7 123.1L1612.2 122.5L1612.7 122.9L1613.2 122.8L1613.7 123.0L1614.2 123.4L1614.7 122.8L1615.2 123.0L1615.7 123.5L1616.2 123.4L1616.7 123.0L1617.2 122.1L1617.7 122.4L1618.2 122.2L1618.7 122.5L1619.2 122.3L1619.7 122.5L1620.2 124.0L1620.7 124.1L1621.2 123.2L1621.7 123.4L1622.2 123.3L1622.7 122.9L1623.2 123.2L1623.7 122.9L1624.2 122.5L1624.7 122.9L1625.2 123.2L1625.7 122.7L1626.2 123.3L1626.7 123.4L1627.2 123.2L1627.7 123.1L1628.2 122.8L1628.7 123.0L1629.2 122.5L1629.7 121.9L1630.2 122.6L1630.7 123.6L1631.2 123.6L1631.7 123.0L1632.2 123.5L1632.7 123.4L1633.2 123.2L1633.7 123.4L1634.2 123.7L1634.7 123.3L1635.2 123.1L1635.7 122.3L1636.2 124.0L1636.7 122.7L1637.2 123.2" stroke="#c56cf0" stroke-width="5.1"/>
</g>
<g class="tk"><text x="145.3" y="1199.0">10</text><text x="358.3" y="1199.0">20</text><text x="571.4" y="1199.0">30</text><text x="784.4" y="1199.0">40</text><text x="997.4" y="1199.0">50</text><text x="1210.4" y="1199.0">60</text><text x="1423.5" y="1199.0">70</text><text x="1636.5" y="1199.0">80</text></g>

<defs><clipPath id="cx"><rect x="600" y="1230" width="600" height="100.8"/></clipPath></defs>
<g clip-path="url(#cx)"><text x="891.6" y="1317.5" font-size="72.1" text-anchor="middle">2Theta (degree)</text></g>
<text transform="translate(71.1,571.6) rotate(-90)" font-size="71.4" text-anchor="middle">Intensity (a.u.)</text>
</svg>
</body></html>
